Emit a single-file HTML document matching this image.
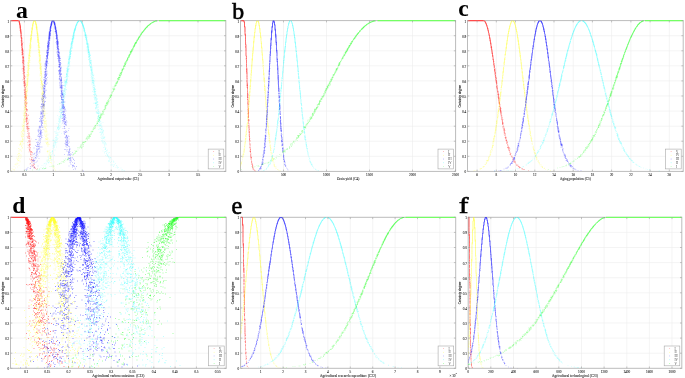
<!DOCTYPE html><html><head><meta charset="utf-8"><style>html,body{margin:0;padding:0;background:#fff;width:685px;height:378px;overflow:hidden}svg{display:block;will-change:transform}text{font-family:"Liberation Serif",serif}</style></head><body><svg width="685" height="378" viewBox="0 0 685 378"><rect width="685" height="378" fill="#fff"/><defs><clipPath id="cpa"><rect x="10.5" y="19.6" width="215.3" height="151.8"/></clipPath><clipPath id="cpb"><rect x="240.5" y="19.6" width="215.1" height="151.8"/></clipPath><clipPath id="cpc"><rect x="467.5" y="19.6" width="215.7" height="151.8"/></clipPath><clipPath id="cpd"><rect x="10.5" y="216.3" width="215.7" height="152.0"/></clipPath><clipPath id="cpe"><rect x="240.6" y="216.3" width="215.1" height="152.0"/></clipPath><clipPath id="cpf"><rect x="468.2" y="216.3" width="213.6" height="152.0"/></clipPath></defs><g><path d="M24.4 20.6V171.4M53.3 20.6V171.4M82.3 20.6V171.4M111.2 20.6V171.4M140.1 20.6V171.4M169.1 20.6V171.4M198.0 20.6V171.4M10.5 156.3H225.8M10.5 141.2H225.8M10.5 126.2H225.8M10.5 111.1H225.8M10.5 96.0H225.8M10.5 80.9H225.8M10.5 65.8H225.8M10.5 50.8H225.8M10.5 35.7H225.8" stroke="#ececec" stroke-width="0.6" fill="none"/><rect x="10.5" y="20.6" width="215.3" height="150.8" fill="none" stroke="#bcbcbc" stroke-width="1.0"/><g clip-path="url(#cpa)"><path d="M10.5 20.6H18.5" stroke="#ff4a4a" stroke-width="1.25"/><g transform="scale(0.5)" stroke="#ff0000" stroke-width="1.4" stroke-linecap="round" fill="none"><path d="M38 45h0m1 4h0m0 1h0m1 7h0m0 1h0m0 2h0m0 1h0m1-10h0m0 13h0m0 3h0m0 5h0m1 9h0m0 3h0m1-14h0m0 1h0m0 9h0m0 3h0m0 1h0m0 2h0m0 1h0m0 1h0m0 2h0m0 4h0m0 1h0m0 5h0m1-17h0m0 9h0m0 8h0m0 1h0m0 3h0m0 2h0m0 2h0m0 1h0m0 29h0m1-51h0m0 1h0m0 1h0m0 13h0m0 1h0m0 3h0m0 1h0m0 2h0m0 4h0m0 2h0m0 1h0m0 5h0m0 1h0m0 2h0m0 1h0m1-40h0m0 14h0m0 5h0m0 7h0m0 9h0m0 2h0m0 1h0m0 3h0m0 2h0m0 1h0m0 4h0m0 4h0m0 1h0m0 3h0m0 2h0m0 4h0m0 12h0m0 1h0m1-48h0m0 4h0m0 3h0m0 4h0m0 2h0m0 2h0m0 4h0m0 1h0m0 2h0m0 1h0m0 1h0m0 6h0m0 1h0m0 1h0m0 1h0m0 2h0m0 1h0m0 4h0m0 3h0m0 8h0m1-42h0m0 2h0m0 3h0m0 8h0m0 1h0m0 1h0m0 1h0m0 6h0m0 7h0m0 1h0m0 3h0m0 5h0m0 4h0m0 2h0m0 2h0m0 4h0m0 1h0m0 8h0m1-47h0m0 1h0m0 6h0m0 1h0m0 3h0m0 1h0m0 6h0m0 1h0m0 1h0m0 1h0m0 6h0m0 1h0m0 3h0m0 5h0m0 3h0m0 1h0m0 1h0m0 1h0m0 5h0m0 5h0m0 3h0m0 1h0m0 3h0m0 2h0m0 7h0m1-40h0m0 3h0m0 3h0m0 2h0m0 11h0m0 5h0m0 3h0m0 1h0m0 6h0m0 3h0m0 4h0m0 2h0m0 3h0m0 3h0m0 5h0m1-61h0m0 13h0m0 2h0m0 2h0m0 5h0m0 3h0m0 3h0m0 1h0m0 1h0m0 1h0m0 2h0m0 1h0m0 1h0m0 1h0m0 2h0m0 2h0m0 1h0m0 1h0m0 7h0m0 1h0m0 1h0m0 5h0m0 1h0m0 1h0m0 2h0m0 4h0m0 7h0m0 6h0m0 7h0m1-65h0m0 10h0m0 4h0m0 2h0m0 5h0m0 1h0m0 1h0m0 1h0m0 1h0m0 8h0m0 2h0m0 1h0m0 2h0m0 2h0m0 3h0m0 3h0m0 4h0m0 3h0m0 1h0m0 1h0m0 4h0m0 6h0m0 4h0m0 1h0m1-59h0m0 11h0m0 1h0m0 10h0m0 1h0m0 3h0m0 8h0m0 1h0m0 1h0m0 1h0m0 7h0m0 1h0m0 2h0m0 4h0m0 3h0m0 1h0m0 1h0m0 1h0m0 1h0m0 1h0m0 2h0m0 3h0m0 1h0m0 4h0m1-46h0m0 16h0m0 6h0m0 4h0m0 1h0m0 2h0m0 1h0m0 8h0m0 3h0m0 2h0m0 2h0m0 1h0m0 1h0m0 1h0m0 3h0m0 15h0m1-37h0m0 1h0m0 11h0m0 5h0m0 2h0m0 1h0m0 3h0m0 4h0m0 4h0m0 8h0m0 10h0m1-42h0m0 9h0m0 1h0m0 3h0m0 1h0m0 6h0m0 9h0m0 2h0m0 3h0m0 13h0m0 5h0m1-65h0m0 1h0m0 14h0m0 11h0m0 1h0m0 1h0m0 8h0m0 3h0m0 3h0m0 9h0m0 2h0m1-43h0m0 13h0m0 7h0m0 5h0m0 2h0m0 1h0m0 3h0m0 2h0m0 2h0m0 1h0m0 1h0m0 8h0m0 5h0m0 1h0m0 1h0m0 6h0m0 6h0m1-47h0m0 11h0m0 4h0m0 1h0m0 4h0m0 1h0m0 12h0m0 3h0m0 1h0m0 2h0m0 5h0m0 17h0m1-44h0m0 7h0m0 1h0m0 1h0m0 1h0m0 2h0m0 3h0m0 9h0m0 30h0m1-38h0m0 5h0m0 1h0m0 8h0m0 3h0m0 2h0m0 4h0m0 7h0m1-42h0m0 25h0m0 2h0m0 4h0m0 25h0m1-31h0m0 1h0m0 14h0m0 1h0m0 1h0m0 4h0m0 6h0m1-24h0m0 4h0m0 8h0m0 2h0m0 12h0m1-27h0m0 10h0m0 7h0m0 9h0m1-11h0m0 9h0m1-10h0m0 8h0m0 4h0m0 1h0m1-10h0m0 1h0m0 6h0m0 5h0m0 1h0m1-6h0m0 4h0m0 2h0m1 0h0m0 2h0m1 0h0m2 2h0m2-2h0" stroke-opacity="0.32"/><path d="M39 43h0m1 4h0m0 9h0m1-3h0m0 12h0m1 3h0m0 2h0m0 3h0m0 2h0m1-9h0m0 2h0m0 17h0m0 6h0m0 1h0m1-16h0m0 1h0m0 2h0m0 2h0m0 8h0m0 1h0m0 3h0m0 2h0m0 1h0m0 1h0m0 1h0m0 4h0m0 3h0m0 5h0m1-16h0m0 2h0m0 4h0m0 8h0m0 2h0m1-8h0m0 1h0m0 4h0m0 8h0m0 2h0m0 1h0m0 3h0m0 3h0m0 3h0m0 4h0m0 5h0m1-19h0m0 3h0m0 1h0m0 5h0m0 7h0m0 4h0m0 1h0m0 18h0m1-27h0m0 3h0m0 6h0m0 7h0m0 1h0m0 2h0m0 9h0m0 7h0m0 2h0m0 2h0m1-22h0m0 10h0m0 1h0m0 10h0m1-13h0m0 8h0m0 3h0m0 3h0m0 3h0m0 6h0m0 2h0m0 2h0m0 1h0m0 12h0m0 12h0m1-31h0m0 3h0m0 13h0m0 2h0m0 5h0m0 1h0m2-1h0m0 4h0m0 11h0m0 4h0m0 10h0m0 9h0m0 1h0m1-32h0m0 14h0m0 1h0m0 18h0m0 4h0m0 15h0m1-17h0m0 7h0m1 0h0m0 1h0m0 10h0m0 3h0m3 21h0m0 7h0m0 10h0m0 3h0m1-14h0m0 2h0m0 10h0m1 2h0m1 2h0m0 6h0m1 5h0m1 9h0" stroke-opacity="0.45"/><path d="M38 44h0m3 8h0m0 2h0m0 7h0m0 1h0m0 1h0m1-4h0m0 2h0m0 8h0m0 2h0m0 5h0m1-4h0m0 2h0m0 1h0m0 2h0m0 1h0m0 1h0m0 2h0m0 8h0m1-7h0m0 2h0m0 2h0m0 1h0m0 4h0m0 8h0m1-7h0m0 5h0m0 1h0m0 3h0m0 3h0m0 1h0m1-4h0m0 5h0m0 3h0m0 5h0m0 2h0m0 3h0m0 6h0m1-11h0m0 8h0m0 6h0m0 11h0m1 0h0m0 10h0m1 9h0m0 5h0m0 2h0m0 6h0m0 13h0m1-14h0m0 16h0m2 5h0m0 2h0m2 38h0m1-11h0" stroke-opacity="0.55"/><path d="M40 52h0m0 2h0m0 1h0m1 0h0m0 1h0m0 1h0m0 2h0m1 3h0m0 1h0m0 1h0m0 1h0m0 1h0m0 1h0m0 5h0m1 4h0m0 6h0m1 6h0m1 11h0m1 9h0m0 5h0m1 2h0m0 26h0m1 11h0" stroke-opacity="0.65"/><path d="M38 42h0m0 1h0m1 1h0m0 1h0m0 1h0m0 1h0m0 1h0m1 0h0m0 1h0m0 1h0m0 1h0m0 2h0m1 5h0m0 2h0" stroke-opacity="0.72"/></g><g transform="scale(0.5)" stroke="#ffff00" stroke-width="1.4" stroke-linecap="round" fill="none"><path d="M23 341h0m1-4h0m2 2h0m2-6h0m0 6h0m0 1h0m1 0h0m1-11h0m1 7h0m1-9h0m0 2h0m0 1h0m2-16h0m0 2h0m0 1h0m0 9h0m1-17h0m0 19h0m0 6h0m1-16h0m0 3h0m0 1h0m0 5h0m1-30h0m0 13h0m0 3h0m0 4h0m0 4h0m1-24h0m0 4h0m0 2h0m0 3h0m0 6h0m0 19h0m1-41h0m0 21h0m0 5h0m1-33h0m0 6h0m0 1h0m0 19h0m0 15h0m1-37h0m0 1h0m0 1h0m0 25h0m0 3h0m1-51h0m0 4h0m0 11h0m0 2h0m0 4h0m0 3h0m0 10h0m0 1h0m0 9h0m0 1h0m1-48h0m0 1h0m0 9h0m0 10h0m0 7h0m0 2h0m0 1h0m0 10h0m0 11h0m1-66h0m0 4h0m0 6h0m0 8h0m0 6h0m0 3h0m0 7h0m0 2h0m0 10h0m0 3h0m1-43h0m0 7h0m0 1h0m0 4h0m0 4h0m0 8h0m0 1h0m0 1h0m0 4h0m0 6h0m0 5h0m0 1h0m1-70h0m0 18h0m0 5h0m0 1h0m0 1h0m0 5h0m0 6h0m0 2h0m0 5h0m0 1h0m0 7h0m0 2h0m0 7h0m0 2h0m1-66h0m0 6h0m0 3h0m0 6h0m0 2h0m0 1h0m0 1h0m0 4h0m0 1h0m0 6h0m0 1h0m0 9h0m0 6h0m0 2h0m0 3h0m1-60h0m0 4h0m0 13h0m0 1h0m0 1h0m0 7h0m0 3h0m0 4h0m0 1h0m0 7h0m0 2h0m0 1h0m0 6h0m0 3h0m0 4h0m0 17h0m1-82h0m0 1h0m0 3h0m0 7h0m0 9h0m0 3h0m0 2h0m0 1h0m0 4h0m0 3h0m0 1h0m0 3h0m0 8h0m0 3h0m0 9h0m1-66h0m0 2h0m0 1h0m0 2h0m0 7h0m0 3h0m0 2h0m0 1h0m0 1h0m0 3h0m0 1h0m0 13h0m0 1h0m0 3h0m0 1h0m0 5h0m0 20h0m1-99h0m0 13h0m0 3h0m0 3h0m0 7h0m0 4h0m0 2h0m0 1h0m0 6h0m0 3h0m0 1h0m0 11h0m0 4h0m0 3h0m0 15h0m0 1h0m1-69h0m0 13h0m0 1h0m0 5h0m0 3h0m0 1h0m0 2h0m0 1h0m0 3h0m0 2h0m0 14h0m0 2h0m0 9h0m0 1h0m1-62h0m0 2h0m0 2h0m0 9h0m0 8h0m0 1h0m0 13h0m0 6h0m1-71h0m0 14h0m0 6h0m0 1h0m0 1h0m0 2h0m0 2h0m0 1h0m0 1h0m0 1h0m0 3h0m0 3h0m0 1h0m0 5h0m0 2h0m0 2h0m0 1h0m0 4h0m0 3h0m0 3h0m0 14h0m1-81h0m0 6h0m0 10h0m0 2h0m0 1h0m0 1h0m0 1h0m0 3h0m0 1h0m0 6h0m0 1h0m0 3h0m0 1h0m0 2h0m0 5h0m0 1h0m0 2h0m0 6h0m0 1h0m0 13h0m0 8h0m0 9h0m1-100h0m0 17h0m0 3h0m0 1h0m0 2h0m0 1h0m0 5h0m0 5h0m0 2h0m0 5h0m0 2h0m0 5h0m0 1h0m0 3h0m0 3h0m0 1h0m0 2h0m0 4h0m0 4h0m1-68h0m0 4h0m0 2h0m0 2h0m0 3h0m0 7h0m0 6h0m0 1h0m0 1h0m0 5h0m0 2h0m0 1h0m0 6h0m0 2h0m0 4h0m0 6h0m1-59h0m0 10h0m0 1h0m0 11h0m0 2h0m0 1h0m0 6h0m0 2h0m0 1h0m0 4h0m0 3h0m0 9h0m0 1h0m1-60h0m0 1h0m0 2h0m0 6h0m0 2h0m0 2h0m0 2h0m0 9h0m0 3h0m0 1h0m0 3h0m0 1h0m0 2h0m1-44h0m0 6h0m0 1h0m0 7h0m0 4h0m0 1h0m0 5h0m0 2h0m0 2h0m0 2h0m0 1h0m0 2h0m0 7h0m0 1h0m0 4h0m1-51h0m0 2h0m0 7h0m0 14h0m0 1h0m0 2h0m0 1h0m0 1h0m0 11h0m1-39h0m0 10h0m0 5h0m0 2h0m0 4h0m0 3h0m0 6h0m1-47h0m0 3h0m0 12h0m0 5h0m0 2h0m1-12h0m1-19h0m1 4h0m0 1h0m3-11h0m2 7h0m1 2h0m1-3h0m0 11h0m0 1h0m1-8h0m0 1h0m0 1h0m0 12h0m0 2h0m0 3h0m0 3h0m1-10h0m0 9h0m0 7h0m0 1h0m0 2h0m0 2h0m1-18h0m0 3h0m0 24h0m0 5h0m1-27h0m0 3h0m0 2h0m0 6h0m0 4h0m0 1h0m0 4h0m0 4h0m0 3h0m0 6h0m0 7h0m0 12h0m1-42h0m0 3h0m0 1h0m0 2h0m0 1h0m0 7h0m0 1h0m0 2h0m0 2h0m0 1h0m0 1h0m0 5h0m0 1h0m0 1h0m0 6h0m0 5h0m0 3h0m1-37h0m0 5h0m0 2h0m0 6h0m0 2h0m0 5h0m0 2h0m0 1h0m0 2h0m0 4h0m0 3h0m0 2h0m0 1h0m0 1h0m0 2h0m0 2h0m1-32h0m0 9h0m0 1h0m0 5h0m0 2h0m0 2h0m0 5h0m0 4h0m0 1h0m0 5h0m0 1h0m0 1h0m0 2h0m0 1h0m0 1h0m0 6h0m0 7h0m0 2h0m0 2h0m1-42h0m0 1h0m0 2h0m0 1h0m0 1h0m0 1h0m0 1h0m0 2h0m0 2h0m0 3h0m0 2h0m0 11h0m0 2h0m0 5h0m0 3h0m0 4h0m0 6h0m0 3h0m0 1h0m0 8h0m1-43h0m0 2h0m0 6h0m0 1h0m0 1h0m0 2h0m0 1h0m0 1h0m0 3h0m0 1h0m0 1h0m0 2h0m0 9h0m0 9h0m0 10h0m1-47h0m0 5h0m0 3h0m0 3h0m0 4h0m0 1h0m0 2h0m0 2h0m0 3h0m0 2h0m0 1h0m0 6h0m0 1h0m0 2h0m0 1h0m0 3h0m0 1h0m0 3h0m0 7h0m0 8h0m0 3h0m0 5h0m1-42h0m0 1h0m0 2h0m0 7h0m0 7h0m0 1h0m0 1h0m0 3h0m0 1h0m0 7h0m0 4h0m0 1h0m0 3h0m0 2h0m0 4h0m0 1h0m0 1h0m0 11h0m1-45h0m0 3h0m0 1h0m0 1h0m0 3h0m0 3h0m0 2h0m0 1h0m0 3h0m0 3h0m0 1h0m0 2h0m0 2h0m0 1h0m0 5h0m0 1h0m0 3h0m0 6h0m0 5h0m0 3h0m0 3h0m0 3h0m0 2h0m1-52h0m0 1h0m0 3h0m0 1h0m0 1h0m0 7h0m0 1h0m0 1h0m0 5h0m0 3h0m0 3h0m0 2h0m0 1h0m0 1h0m0 1h0m0 1h0m0 3h0m0 1h0m0 2h0m0 5h0m0 1h0m0 3h0m0 1h0m0 4h0m0 1h0m0 2h0m0 2h0m0 17h0m1-73h0m0 12h0m0 1h0m0 1h0m0 1h0m0 1h0m0 1h0m0 5h0m0 1h0m0 5h0m0 2h0m0 4h0m0 2h0m0 2h0m0 2h0m0 1h0m0 1h0m0 1h0m0 1h0m0 3h0m0 7h0m0 10h0m0 4h0m0 1h0m0 2h0m1-54h0m0 1h0m0 14h0m0 5h0m0 2h0m0 1h0m0 3h0m0 2h0m0 9h0m0 5h0m0 3h0m0 2h0m0 8h0m0 4h0m0 1h0m0 3h0m0 4h0m0 4h0m0 2h0m1-51h0m0 2h0m0 2h0m0 9h0m0 6h0m0 3h0m0 2h0m0 1h0m0 8h0m0 1h0m0 3h0m0 4h0m0 12h0m0 2h0m0 6h0m1-54h0m0 6h0m0 1h0m0 1h0m0 5h0m0 2h0m0 1h0m0 3h0m0 1h0m0 7h0m0 1h0m0 1h0m0 7h0m0 1h0m0 8h0m0 6h0m0 3h0m0 10h0m0 18h0m1-71h0m0 10h0m0 11h0m0 7h0m0 2h0m0 5h0m0 1h0m0 2h0m0 7h0m0 1h0m0 4h0m0 1h0m1-31h0m0 5h0m0 6h0m0 12h0m0 3h0m0 3h0m0 3h0m0 5h0m0 1h0m1-44h0m0 5h0m0 3h0m0 3h0m0 5h0m0 2h0m0 2h0m0 2h0m0 3h0m0 3h0m0 7h0m0 2h0m0 1h0m0 8h0m0 1h0m1-61h0m0 25h0m0 10h0m0 9h0m0 3h0m0 4h0m0 9h0m0 1h0m0 15h0m1-35h0m0 11h0m0 3h0m0 4h0m0 3h0m0 12h0m0 3h0m0 10h0m0 8h0m1-52h0m0 6h0m0 1h0m0 7h0m0 19h0m0 3h0m0 13h0m1-33h0m0 2h0m0 1h0m0 3h0m0 10h0m0 20h0m1-54h0m0 11h0m0 3h0m0 27h0m0 2h0m1-22h0m0 13h0m0 4h0m0 3h0m0 8h0m0 4h0m1-21h0m0 5h0m0 2h0m0 4h0m0 2h0m0 1h0m0 2h0m0 1h0m1-9h0m0 4h0m0 2h0m0 2h0m0 5h0m0 4h0m1-12h0m0 1h0m0 3h0m0 2h0m0 6h0m2-4h0m0 7h0m1 3h0m1 4h0m0 1h0m2-3h0m0 2h0m1-11h0m0 13h0m1 2h0m1 2h0m9-1h0m4 3h0" stroke-opacity="0.22"/><path d="M35 319h0m2-12h0m0 7h0m1 6h0m1-13h0m1-8h0m0 23h0m1-36h0m1-2h0m1-14h0m1 3h0m1-20h0m0 14h0m0 9h0m0 6h0m0 1h0m1-23h0m0 13h0m1-22h0m0 5h0m0 2h0m0 1h0m0 2h0m0 19h0m1-54h0m0 17h0m0 8h0m1-32h0m0 7h0m0 1h0m0 7h0m0 9h0m0 2h0m1-51h0m0 29h0m0 7h0m1-31h0m0 2h0m0 12h0m0 2h0m0 3h0m0 4h0m0 1h0m0 11h0m1-53h0m0 6h0m0 1h0m0 4h0m0 16h0m0 7h0m1-42h0m0 1h0m0 9h0m0 7h0m0 7h0m0 7h0m1-52h0m0 1h0m0 8h0m0 5h0m0 7h0m0 2h0m0 8h0m1-29h0m0 4h0m0 12h0m0 11h0m0 3h0m1-57h0m0 3h0m0 4h0m0 1h0m0 4h0m0 2h0m0 4h0m0 1h0m0 4h0m0 2h0m0 10h0m1-29h0m0 2h0m0 3h0m0 3h0m0 2h0m0 2h0m0 4h0m0 2h0m1-39h0m0 2h0m0 3h0m0 5h0m0 3h0m0 1h0m0 3h0m0 2h0m0 3h0m1-38h0m0 4h0m0 2h0m0 10h0m0 4h0m0 21h0m1-49h0m0 3h0m0 1h0m0 1h0m0 4h0m0 4h0m0 1h0m0 3h0m0 2h0m0 5h0m1-40h0m0 6h0m0 2h0m0 13h0m0 2h0m0 1h0m1-27h0m0 6h0m0 6h0m0 13h0m1-20h0m0 2h0m1-10h0m0 5h0m1-22h0m0 10h0m0 1h0m1-15h0m6 0h0m0 8h0m0 2h0m3 5h0m0 3h0m0 15h0m0 1h0m1-11h0m0 1h0m0 12h0m0 2h0m0 1h0m0 7h0m1-13h0m0 1h0m0 1h0m0 1h0m0 1h0m0 9h0m0 2h0m0 2h0m0 5h0m0 4h0m1-17h0m0 3h0m0 1h0m0 1h0m0 1h0m0 2h0m1 0h0m0 23h0m0 2h0m1-4h0m0 1h0m0 3h0m0 6h0m0 1h0m0 9h0m0 1h0m0 1h0m1-18h0m0 8h0m0 1h0m0 1h0m0 1h0m0 4h0m0 3h0m0 2h0m0 3h0m0 3h0m1-14h0m0 5h0m0 4h0m0 8h0m0 2h0m0 7h0m1-16h0m0 7h0m0 13h0m0 3h0m0 1h0m0 11h0m1-20h0m0 7h0m0 3h0m0 12h0m0 9h0m0 13h0m0 2h0m1-32h0m0 22h0m1-8h0m0 9h0m0 20h0m0 9h0m1-28h0m0 4h0m0 3h0m0 1h0m1 15h0m0 1h0m0 2h0m0 7h0m0 11h0m2-2h0m0 10h0m0 7h0m0 1h0m1-13h0m1 1h0m1 29h0m1-8h0m0 15h0m0 6h0m1-9h0m0 9h0m0 7h0m0 11h0m6 14h0m2 9h0" stroke-opacity="0.32"/><path d="M49 221h0m1-12h0m0 25h0m2-33h0m0 8h0m1-33h0m0 8h0m0 7h0m0 2h0m1-44h0m0 20h0m0 1h0m0 10h0m1-28h0m0 7h0m0 8h0m2-46h0m0 1h0m0 4h0m0 1h0m0 20h0m0 7h0m1-43h0m0 4h0m0 1h0m0 2h0m0 1h0m1-13h0m0 3h0m0 1h0m0 1h0m1-21h0m0 5h0m0 1h0m1-19h0m0 2h0m0 6h0m0 1h0m0 1h0m0 1h0m0 1h0m0 1h0m0 2h0m1-21h0m0 2h0m0 6h0m0 1h0m0 2h0m0 1h0m0 9h0m1-27h0m0 2h0m0 1h0m0 1h0m0 1h0m0 1h0m0 4h0m0 3h0m1-23h0m0 5h0m0 5h0m0 3h0m1-18h0m0 8h0m1-12h0m1 0h0m0 1h0m4 0h0m2 2h0m0 8h0m0 1h0m1-1h0m0 7h0m0 1h0m0 2h0m1 5h0m0 3h0m0 1h0m1-5h0m0 6h0m0 1h0m0 2h0m0 5h0m1 0h0m0 5h0m1 4h0m0 4h0m0 7h0m0 1h0m1-5h0m0 2h0m0 1h0m0 1h0m0 1h0m0 2h0m0 3h0m0 2h0m0 1h0m1-3h0m0 10h0m0 1h0m0 6h0m1 6h0m1-1h0m0 13h0m0 14h0m0 14h0m1-27h0m0 8h0m1 8h0m1 25h0m2 21h0m1 18h0" stroke-opacity="0.39"/><path d="M55 165h0m1-27h0m3-34h0m0 3h0m2-26h0m0 1h0m0 2h0m1-14h0m0 2h0m0 4h0m0 1h0m0 1h0m1-16h0m0 1h0m0 1h0m1-8h0m0 1h0m0 2h0m0 2h0m0 1h0m0 1h0m0 1h0m1-12h0m0 1h0m0 2h0m0 1h0m1-5h0m7 0h0m0 4h0m1 1h0m0 2h0m0 1h0m0 1h0m0 1h0m0 1h0m0 1h0m1 2h0m0 1h0m0 1h0m0 1h0m0 2h0m0 1h0m1 2h0m0 1h0m0 1h0m0 1h0m0 3h0m0 3h0m1 2h0m0 2h0m0 3h0m1 11h0m6 68h0" stroke-opacity="0.45"/><path d="M63 66h0m1-8h0m1-7h0m0 3h0m0 3h0m1-10h0m0 1h0m0 1h0m0 1h0m1-7h0m0 1h0m0 1h0m1-3h0m0 1h0m2-1h0m0 1h0m1 0h0m0 1h0m0 1h0m0 1h0m1 0h0m0 1h0m0 1h0m0 1h0m0 1h0m1 0h0m0 2h0m0 1h0m0 1h0m0 2h0m1-1h0m1 14h0" stroke-opacity="0.50"/></g><g transform="scale(0.5)" stroke="#0000ff" stroke-width="1.4" stroke-linecap="round" fill="none"><path d="M52 339h0m1 2h0m1-4h0m0 2h0m2-4h0m4 2h0m1-10h0m0 6h0m0 4h0m3-17h0m1 1h0m0 12h0m1-25h0m0 13h0m0 5h0m0 5h0m1-11h0m0 2h0m1-26h0m0 13h0m0 5h0m0 3h0m0 4h0m0 1h0m0 14h0m1-29h0m0 14h0m0 6h0m0 8h0m1-29h0m0 14h0m0 5h0m1-46h0m0 12h0m1 20h0m0 5h0m0 1h0m1-38h0m0 6h0m0 8h0m0 5h0m0 4h0m0 1h0m0 5h0m0 2h0m0 2h0m0 12h0m1-32h0m0 1h0m0 5h0m0 2h0m0 7h0m0 7h0m1-42h0m0 12h0m0 2h0m0 14h0m0 2h0m0 7h0m0 13h0m1-62h0m0 2h0m0 26h0m0 1h0m0 2h0m0 5h0m0 3h0m0 13h0m0 20h0m1-72h0m0 2h0m0 2h0m0 5h0m0 3h0m0 1h0m0 12h0m0 8h0m0 5h0m1-44h0m0 4h0m0 6h0m0 4h0m0 10h0m0 3h0m0 3h0m0 5h0m0 4h0m0 4h0m0 1h0m0 8h0m0 11h0m1-80h0m0 6h0m0 10h0m0 2h0m0 6h0m0 6h0m0 6h0m0 2h0m0 12h0m0 5h0m0 4h0m0 7h0m1-49h0m0 2h0m0 2h0m0 8h0m0 4h0m0 2h0m0 6h0m0 2h0m0 8h0m0 6h0m0 6h0m0 4h0m1-80h0m0 9h0m0 2h0m0 3h0m0 2h0m0 14h0m0 6h0m0 2h0m0 1h0m0 1h0m0 3h0m0 1h0m0 2h0m0 7h0m0 5h0m0 3h0m1-72h0m0 1h0m0 9h0m0 3h0m0 1h0m0 2h0m0 3h0m0 10h0m0 1h0m0 3h0m0 7h0m0 2h0m0 5h0m0 2h0m0 2h0m0 2h0m0 1h0m0 2h0m0 4h0m0 5h0m0 16h0m1-96h0m0 10h0m0 1h0m0 8h0m0 8h0m0 2h0m0 9h0m0 1h0m0 1h0m0 3h0m0 2h0m0 1h0m0 1h0m0 3h0m0 3h0m0 10h0m0 3h0m0 8h0m0 3h0m1-79h0m0 2h0m0 10h0m0 1h0m0 1h0m0 3h0m0 2h0m0 3h0m0 3h0m0 2h0m0 4h0m0 6h0m0 1h0m0 5h0m0 2h0m0 10h0m0 1h0m0 13h0m0 6h0m0 4h0m0 19h0m1-121h0m0 30h0m0 1h0m0 9h0m0 5h0m0 10h0m0 5h0m0 3h0m0 1h0m0 7h0m0 1h0m0 2h0m0 8h0m1-85h0m0 6h0m0 2h0m0 9h0m0 3h0m0 2h0m0 2h0m0 2h0m0 5h0m0 1h0m0 1h0m0 4h0m0 7h0m0 7h0m0 1h0m0 1h0m0 1h0m0 1h0m0 7h0m0 2h0m0 20h0m0 5h0m1-99h0m0 11h0m0 4h0m0 3h0m0 5h0m0 5h0m0 1h0m0 1h0m0 3h0m0 7h0m0 11h0m0 1h0m0 3h0m0 12h0m0 7h0m1-79h0m0 4h0m0 6h0m0 7h0m0 8h0m0 1h0m0 4h0m0 8h0m0 1h0m0 14h0m0 1h0m0 2h0m0 2h0m0 4h0m0 1h0m0 5h0m1-91h0m0 11h0m0 2h0m0 3h0m0 2h0m0 5h0m0 3h0m0 2h0m0 2h0m0 1h0m0 1h0m0 1h0m0 3h0m0 9h0m0 5h0m0 1h0m0 2h0m0 5h0m0 1h0m0 2h0m0 2h0m0 5h0m0 3h0m0 2h0m0 1h0m0 3h0m0 2h0m0 3h0m0 17h0m1-104h0m0 2h0m0 8h0m0 1h0m0 11h0m0 5h0m0 1h0m0 6h0m0 2h0m0 2h0m0 2h0m0 2h0m0 4h0m0 7h0m0 5h0m0 4h0m0 4h0m0 10h0m1-81h0m0 4h0m0 6h0m0 1h0m0 5h0m0 1h0m0 3h0m0 1h0m0 2h0m0 3h0m0 1h0m0 1h0m0 3h0m0 1h0m0 2h0m0 1h0m0 4h0m0 1h0m0 1h0m0 3h0m0 3h0m0 3h0m0 4h0m0 18h0m0 3h0m0 6h0m1-86h0m0 7h0m0 1h0m0 4h0m0 1h0m0 9h0m0 1h0m0 5h0m0 3h0m0 2h0m0 1h0m0 1h0m0 1h0m0 5h0m0 3h0m0 3h0m0 3h0m0 13h0m0 1h0m0 14h0m1-91h0m0 7h0m0 7h0m0 1h0m0 2h0m0 1h0m0 1h0m0 5h0m0 4h0m0 3h0m0 1h0m0 1h0m0 13h0m0 7h0m0 1h0m0 11h0m1-69h0m0 1h0m0 3h0m0 2h0m0 4h0m0 2h0m0 1h0m0 6h0m0 1h0m0 3h0m0 1h0m0 2h0m0 3h0m0 4h0m0 9h0m0 2h0m0 3h0m0 2h0m0 11h0m1-76h0m0 3h0m0 5h0m0 2h0m0 1h0m0 1h0m0 1h0m0 3h0m0 3h0m0 4h0m0 1h0m0 3h0m0 12h0m0 3h0m0 29h0m0 11h0m1-84h0m0 5h0m0 3h0m0 5h0m0 6h0m0 5h0m0 3h0m0 1h0m0 1h0m0 7h0m0 9h0m1-54h0m0 3h0m0 2h0m0 1h0m0 3h0m0 2h0m0 3h0m0 5h0m0 2h0m0 1h0m0 1h0m0 3h0m0 1h0m0 2h0m0 2h0m1-40h0m0 2h0m0 1h0m0 4h0m0 14h0m0 4h0m0 2h0m0 6h0m0 1h0m1-35h0m0 7h0m0 6h0m0 3h0m0 2h0m0 3h0m0 2h0m0 1h0m1-21h0m0 7h0m0 2h0m0 1h0m0 1h0m0 3h0m1-17h0m0 1h0m0 2h0m0 1h0m0 1h0m0 2h0m0 1h0m3-22h0m3-5h0m1 3h0m1-3h0m1 13h0m0 6h0m1 1h0m1-6h0m0 8h0m0 2h0m0 3h0m0 1h0m0 5h0m0 8h0m1-9h0m0 2h0m0 10h0m0 4h0m1-26h0m0 2h0m0 5h0m0 2h0m0 7h0m0 2h0m0 5h0m0 10h0m0 7h0m1-35h0m0 1h0m0 2h0m0 1h0m0 2h0m0 1h0m0 14h0m0 2h0m0 1h0m0 1h0m0 2h0m0 10h0m0 1h0m0 2h0m0 2h0m0 4h0m1-38h0m0 3h0m0 1h0m0 2h0m0 1h0m0 6h0m0 4h0m0 9h0m0 3h0m0 1h0m0 3h0m1-28h0m0 2h0m0 1h0m0 5h0m0 1h0m0 3h0m0 1h0m0 3h0m0 3h0m0 3h0m0 3h0m0 1h0m0 5h0m0 3h0m0 5h0m0 2h0m0 8h0m0 8h0m1-42h0m0 4h0m0 4h0m0 3h0m0 1h0m0 7h0m0 3h0m0 1h0m0 1h0m0 5h0m0 4h0m0 1h0m0 2h0m0 6h0m0 1h0m0 4h0m0 3h0m0 9h0m1-53h0m0 2h0m0 5h0m0 2h0m0 1h0m0 1h0m0 1h0m0 1h0m0 8h0m0 6h0m0 9h0m0 3h0m0 4h0m0 4h0m0 1h0m0 3h0m0 1h0m0 1h0m0 8h0m1-52h0m0 3h0m0 1h0m0 3h0m0 4h0m0 3h0m0 4h0m0 2h0m0 1h0m0 3h0m0 2h0m0 1h0m0 1h0m0 1h0m0 2h0m0 1h0m0 3h0m0 1h0m0 2h0m0 6h0m0 1h0m0 1h0m0 2h0m0 3h0m0 3h0m0 2h0m0 1h0m0 5h0m0 30h0m1-89h0m0 4h0m0 8h0m0 1h0m0 6h0m0 6h0m0 1h0m0 3h0m0 1h0m0 2h0m0 1h0m0 1h0m0 2h0m0 6h0m0 2h0m0 1h0m0 12h0m0 1h0m0 16h0m0 2h0m1-66h0m0 9h0m0 6h0m0 6h0m0 1h0m0 5h0m0 3h0m0 5h0m0 5h0m0 5h0m0 1h0m0 1h0m0 1h0m0 2h0m0 3h0m0 2h0m0 5h0m0 4h0m0 29h0m1-84h0m0 11h0m0 2h0m0 5h0m0 1h0m0 2h0m0 5h0m0 2h0m0 2h0m0 6h0m0 1h0m0 3h0m0 2h0m0 2h0m0 1h0m0 4h0m0 1h0m0 1h0m0 1h0m0 1h0m0 6h0m0 4h0m0 5h0m0 1h0m0 12h0m0 9h0m1-53h0m0 2h0m0 17h0m0 3h0m0 7h0m0 4h0m0 3h0m0 3h0m0 2h0m0 10h0m0 13h0m1-66h0m0 3h0m0 6h0m0 2h0m0 3h0m0 1h0m0 1h0m0 1h0m0 2h0m0 4h0m0 5h0m0 1h0m0 2h0m0 2h0m0 2h0m0 9h0m0 2h0m0 7h0m0 5h0m0 1h0m0 7h0m0 4h0m0 1h0m0 4h0m1-58h0m0 1h0m0 1h0m0 2h0m0 7h0m0 1h0m0 2h0m0 3h0m0 3h0m0 2h0m0 1h0m0 2h0m0 2h0m0 1h0m0 1h0m0 2h0m0 4h0m0 6h0m0 1h0m0 5h0m0 22h0m1-86h0m0 21h0m0 7h0m0 2h0m0 2h0m0 1h0m0 1h0m0 6h0m0 2h0m0 1h0m0 3h0m0 6h0m0 2h0m0 2h0m0 1h0m0 1h0m0 7h0m0 8h0m1-62h0m0 12h0m0 16h0m0 3h0m0 1h0m0 2h0m0 1h0m0 3h0m0 3h0m0 2h0m0 4h0m0 1h0m0 2h0m0 2h0m0 1h0m0 2h0m0 1h0m0 1h0m0 1h0m0 3h0m0 5h0m0 5h0m0 10h0m0 3h0m1-62h0m0 10h0m0 2h0m0 3h0m0 5h0m0 5h0m0 1h0m0 3h0m0 1h0m0 3h0m0 1h0m0 1h0m0 7h0m0 1h0m0 6h0m0 1h0m0 3h0m0 10h0m0 2h0m0 30h0m0 10h0m1-105h0m0 13h0m0 5h0m0 10h0m0 1h0m0 3h0m0 3h0m0 1h0m0 3h0m0 1h0m0 1h0m0 2h0m0 2h0m0 8h0m0 18h0m0 12h0m1-68h0m0 9h0m0 7h0m0 9h0m0 1h0m0 4h0m0 13h0m0 14h0m0 5h0m0 2h0m0 5h0m0 11h0m1-77h0m0 14h0m0 7h0m0 2h0m0 2h0m0 2h0m0 2h0m0 11h0m0 3h0m0 5h0m0 3h0m0 1h0m0 1h0m0 14h0m0 4h0m1-52h0m0 9h0m0 13h0m0 15h0m0 5h0m0 2h0m0 5h0m0 12h0m1-58h0m0 20h0m0 8h0m0 1h0m0 2h0m0 5h0m0 1h0m0 4h0m0 5h0m0 5h0m0 4h0m1-23h0m0 2h0m0 4h0m0 1h0m0 2h0m0 3h0m0 1h0m0 1h0m0 1h0m0 19h0m1-29h0m0 2h0m0 3h0m0 1h0m0 4h0m0 9h0m0 3h0m0 16h0m1-58h0m0 11h0m0 21h0m0 11h0m0 1h0m0 2h0m0 3h0m0 7h0m1-60h0m0 16h0m0 5h0m0 26h0m0 5h0m0 1h0m0 6h0m0 16h0m1-48h0m0 9h0m0 3h0m0 2h0m0 1h0m0 1h0m0 1h0m0 3h0m0 1h0m0 5h0m0 7h0m1-14h0m0 4h0m0 2h0m0 1h0m0 6h0m0 1h0m0 1h0m0 3h0m0 1h0m0 3h0m1-27h0m0 13h0m0 4h0m0 3h0m0 2h0m0 6h0m1-18h0m0 10h0m0 4h0m0 7h0m1-7h0m1-13h0m0 6h0m1-10h0m0 11h0m0 9h0m0 6h0m1-1h0m0 1h0m0 1h0m1-14h0m0 1h0m0 13h0m0 7h0m1-7h0m1-11h0m0 5h0m0 1h0m0 6h0m1 3h0m16 7h0m1-1h0" stroke-opacity="0.32"/><path d="M73 305h0m2-16h0m0 15h0m1-11h0m4-51h0m0 10h0m0 21h0m1-8h0m1-37h0m1 21h0m1-49h0m0 14h0m0 11h0m0 22h0m1-56h0m0 8h0m1-6h0m0 15h0m0 2h0m0 20h0m0 1h0m0 10h0m1-59h0m0 14h0m0 13h0m0 13h0m1-48h0m0 3h0m0 11h0m1-36h0m0 14h0m0 1h0m0 6h0m0 3h0m0 2h0m0 6h0m0 2h0m0 1h0m1-15h0m0 11h0m0 8h0m1-61h0m0 14h0m0 8h0m0 8h0m1-37h0m0 3h0m0 1h0m0 1h0m0 4h0m0 3h0m0 3h0m1-26h0m0 1h0m0 3h0m0 10h0m0 3h0m0 1h0m0 4h0m0 14h0m0 3h0m1-49h0m0 5h0m0 7h0m0 2h0m0 5h0m0 1h0m1-36h0m0 5h0m0 2h0m0 13h0m0 3h0m0 4h0m0 2h0m0 1h0m0 8h0m1-32h0m0 1h0m0 1h0m0 2h0m0 3h0m0 1h0m0 7h0m0 1h0m1-22h0m0 2h0m0 3h0m0 2h0m0 4h0m1-28h0m0 1h0m0 4h0m0 10h0m0 6h0m0 3h0m0 1h0m1-20h0m0 6h0m1-25h0m0 2h0m0 3h0m0 4h0m0 1h0m0 6h0m0 1h0m1-20h0m0 7h0m1-12h0m0 1h0m0 7h0m0 2h0m0 4h0m1-10h0m1-5h0m0 1h0m1-4h0m3-1h0m2 4h0m0 1h0m0 11h0m1-5h0m0 10h0m1-8h0m0 7h0m1 0h0m0 1h0m0 5h0m0 3h0m0 1h0m0 1h0m0 10h0m1-11h0m0 2h0m0 2h0m0 1h0m0 1h0m0 3h0m0 6h0m0 1h0m0 7h0m0 9h0m1-23h0m0 3h0m0 1h0m0 3h0m0 1h0m0 8h0m0 6h0m1-19h0m0 4h0m0 5h0m0 7h0m0 1h0m1 1h0m0 2h0m0 1h0m0 8h0m0 3h0m0 5h0m1-16h0m0 1h0m0 3h0m0 3h0m0 2h0m0 1h0m0 4h0m0 1h0m0 9h0m0 14h0m1-22h0m0 2h0m0 7h0m0 10h0m0 6h0m0 1h0m1-21h0m0 1h0m0 2h0m0 10h0m0 5h0m0 30h0m1-49h0m0 13h0m0 3h0m1-7h0m0 6h0m0 21h0m0 3h0m1-6h0m0 1h0m0 1h0m0 1h0m0 7h0m0 7h0m0 17h0m0 2h0m0 2h0m0 2h0m1-33h0m0 5h0m0 7h0m0 5h0m0 6h0m0 2h0m0 6h0m1 14h0m0 4h0m1-2h0m1-18h0m0 15h0m0 7h0m0 16h0m0 8h0m1 2h0m1-27h0m0 49h0m2-33h0m0 34h0m1 20h0m0 5h0m1-19h0m0 1h0m0 16h0m1-10h0m1-3h0m10 59h0m6 4h0m2-5h0" stroke-opacity="0.45"/><path d="M71 315h0m11-47h0m2-40h0m2-22h0m0 5h0m1-14h0m1-19h0m1-7h0m2-24h0m1-5h0m0 1h0m0 19h0m1-31h0m1-26h0m0 6h0m0 20h0m1-30h0m0 4h0m0 5h0m0 2h0m0 2h0m0 3h0m1-28h0m0 2h0m0 7h0m0 7h0m1-22h0m0 2h0m0 4h0m0 1h0m0 15h0m1-29h0m0 2h0m0 2h0m0 2h0m0 4h0m0 2h0m1-24h0m0 3h0m0 2h0m0 2h0m0 2h0m0 4h0m0 1h0m1-20h0m0 3h0m0 2h0m0 4h0m0 1h0m0 2h0m1-13h0m0 1h0m0 2h0m2-16h0m1-2h0m4 4h0m1 4h0m1-2h0m0 7h0m0 1h0m1-2h0m0 4h0m0 1h0m0 1h0m0 2h0m1-5h0m0 2h0m0 2h0m0 2h0m0 2h0m0 2h0m1-6h0m0 3h0m0 1h0m0 2h0m0 2h0m0 5h0m0 1h0m0 2h0m1-8h0m0 2h0m0 12h0m0 2h0m0 1h0m1-6h0m0 2h0m0 1h0m0 3h0m0 1h0m0 3h0m0 1h0m0 2h0m1-4h0m0 1h0m0 5h0m0 3h0m0 6h0m1-5h0m0 12h0m0 1h0m1 1h0m0 4h0m1 8h0m0 4h0m0 4h0m0 1h0m1-3h0m0 23h0m1-17h0m1 33h0m1 1h0m0 12h0m0 1h0m1-8h0m0 23h0m1-10h0m3 33h0" stroke-opacity="0.55"/><path d="M93 124h0m3-22h0m2-30h0m0 3h0m0 2h0m0 4h0m1-16h0m0 1h0m0 6h0m0 3h0m1-16h0m0 10h0m1-16h0m0 1h0m0 2h0m0 5h0m0 1h0m1-9h0m1-8h0m0 4h0m0 1h0m1-5h0m3-2h0m2 2h0m1 6h0m0 2h0m0 1h0m1-2h0m0 3h0m0 1h0m0 1h0m1 3h0m0 4h0m1 2h0m1 13h0m2 18h0" stroke-opacity="0.65"/><path d="M99 68h0m1-6h0m1-7h0m1-6h0m0 1h0m0 1h0m0 1h0m0 2h0m1-8h0m0 1h0m0 1h0m1-5h0m0 1h0m1-2h0m2 0h0m1 1h0m0 1h0m0 1h0m1 1h0m0 1h0m0 1h0m0 1h0m1 0h0m0 1h0m0 2h0m3 18h0" stroke-opacity="0.72"/></g><g transform="scale(0.5)" stroke="#00ffff" stroke-width="1.4" stroke-linecap="round" fill="none"><path d="M74 340h0m3 0h0m2 0h0m3-5h0m0 3h0m2-7h0m2 5h0m0 3h0m2-11h0m0 4h0m1-5h0m0 11h0m2-6h0m0 4h0m1-10h0m0 2h0m1-6h0m0 6h0m1-8h0m1 2h0m0 2h0m2-11h0m0 2h0m0 2h0m0 2h0m0 2h0m0 4h0m0 1h0m1-24h0m0 23h0m1-2h0m1-12h0m1-6h0m0 7h0m0 2h0m1-4h0m0 4h0m0 2h0m0 3h0m1 3h0m1-13h0m0 3h0m0 7h0m1-18h0m0 1h0m0 1h0m0 1h0m0 3h0m1-27h0m0 1h0m0 11h0m0 5h0m1-7h0m0 2h0m1-12h0m0 1h0m0 10h0m0 3h0m0 1h0m1-13h0m0 2h0m0 8h0m0 2h0m0 16h0m0 1h0m1-48h0m0 1h0m0 13h0m0 8h0m0 5h0m1-15h0m0 4h0m0 2h0m0 2h0m0 2h0m0 1h0m0 2h0m1-22h0m0 1h0m0 4h0m0 3h0m0 1h0m0 11h0m0 4h0m1-30h0m0 4h0m0 8h0m0 3h0m0 2h0m0 2h0m0 2h0m0 4h0m0 9h0m1-47h0m0 20h0m0 3h0m0 10h0m1-49h0m0 24h0m0 1h0m0 1h0m0 1h0m0 12h0m0 6h0m0 3h0m0 5h0m1-30h0m0 11h0m0 1h0m0 3h0m0 2h0m0 6h0m1-34h0m0 4h0m0 2h0m0 1h0m0 7h0m0 2h0m0 1h0m1-23h0m0 1h0m0 2h0m0 2h0m0 12h0m0 1h0m0 3h0m0 1h0m1-45h0m0 4h0m0 5h0m0 16h0m0 7h0m0 5h0m0 5h0m0 1h0m0 7h0m1-45h0m0 4h0m0 2h0m0 11h0m0 1h0m0 2h0m0 1h0m0 3h0m0 1h0m0 4h0m0 26h0m1-57h0m0 2h0m0 2h0m0 5h0m0 3h0m0 6h0m0 1h0m0 8h0m0 8h0m0 3h0m1-48h0m0 4h0m0 7h0m0 7h0m0 3h0m0 3h0m0 2h0m0 9h0m1-39h0m0 3h0m0 9h0m0 3h0m0 2h0m0 5h0m0 3h0m0 20h0m0 19h0m1-68h0m0 1h0m0 2h0m0 3h0m0 5h0m0 2h0m0 9h0m0 3h0m0 8h0m0 1h0m1-47h0m0 5h0m0 5h0m0 3h0m0 5h0m0 2h0m0 7h0m0 1h0m0 3h0m0 3h0m0 1h0m0 3h0m0 4h0m1-43h0m0 2h0m0 17h0m0 2h0m0 26h0m1-48h0m0 2h0m0 7h0m0 2h0m0 1h0m0 7h0m0 4h0m0 1h0m0 7h0m1-49h0m0 10h0m0 2h0m0 8h0m0 1h0m0 1h0m0 1h0m0 7h0m0 2h0m0 2h0m0 5h0m0 1h0m1-44h0m0 3h0m0 5h0m0 1h0m0 1h0m0 11h0m0 4h0m0 1h0m0 3h0m0 6h0m1-37h0m0 1h0m0 2h0m0 1h0m0 2h0m0 1h0m0 2h0m0 3h0m0 1h0m0 9h0m0 3h0m0 9h0m0 19h0m1-49h0m0 1h0m0 1h0m0 2h0m0 1h0m0 2h0m0 2h0m0 3h0m0 2h0m0 4h0m0 3h0m0 4h0m1-36h0m0 2h0m0 11h0m0 1h0m0 8h0m0 4h0m0 1h0m1-43h0m0 21h0m0 1h0m0 2h0m0 1h0m0 2h0m0 1h0m0 2h0m0 2h0m0 10h0m1-43h0m0 5h0m0 1h0m0 1h0m0 5h0m0 5h0m0 1h0m0 5h0m0 2h0m0 3h0m0 6h0m1-42h0m0 4h0m0 8h0m0 1h0m0 2h0m0 4h0m0 2h0m0 1h0m0 1h0m0 2h0m0 1h0m0 2h0m0 1h0m0 2h0m0 7h0m1-52h0m0 10h0m0 4h0m0 5h0m0 2h0m0 6h0m0 2h0m0 7h0m1-32h0m0 5h0m0 1h0m0 1h0m0 2h0m0 3h0m0 2h0m0 1h0m0 4h0m0 1h0m0 1h0m0 4h0m0 3h0m0 7h0m1-41h0m0 1h0m0 2h0m0 1h0m0 5h0m0 2h0m0 1h0m0 4h0m0 5h0m0 4h0m1-31h0m0 3h0m0 5h0m0 6h0m0 1h0m0 2h0m0 2h0m0 1h0m0 2h0m0 1h0m0 9h0m1-39h0m0 3h0m0 2h0m0 2h0m0 1h0m0 5h0m0 4h0m0 2h0m0 5h0m0 9h0m1-37h0m0 2h0m0 3h0m0 2h0m0 6h0m0 6h0m0 2h0m1-29h0m0 2h0m0 1h0m0 1h0m0 4h0m0 1h0m0 4h0m0 1h0m0 7h0m1-25h0m0 1h0m0 7h0m0 2h0m0 2h0m0 1h0m0 7h0m1-26h0m0 2h0m0 1h0m0 2h0m0 2h0m0 9h0m0 2h0m1-13h0m0 5h0m0 8h0m1-26h0m0 4h0m0 4h0m0 3h0m0 1h0m0 1h0m0 3h0m1-20h0m0 4h0m0 5h0m0 5h0m1-18h0m0 10h0m0 2h0m0 1h0m1-8h0m0 5h0m1-9h0m1-10h0m0 7h0m1-5h0m2-9h0m0 4h0m0 1h0m2-5h0m8 3h0m1-2h0m2 11h0m0 1h0m0 2h0m1-6h0m0 7h0m0 1h0m0 1h0m1-6h0m0 3h0m0 4h0m1-1h0m1 6h0m0 5h0m1-2h0m0 5h0m1-3h0m0 7h0m0 3h0m0 2h0m1-14h0m0 3h0m0 1h0m0 3h0m0 6h0m0 8h0m0 2h0m0 1h0m0 3h0m0 3h0m1-13h0m0 3h0m1-3h0m0 7h0m0 1h0m0 6h0m0 2h0m0 2h0m1-20h0m0 3h0m0 1h0m0 2h0m0 2h0m0 2h0m0 6h0m0 10h0m0 2h0m0 4h0m1-29h0m0 4h0m0 10h0m0 3h0m0 4h0m0 2h0m0 3h0m0 4h0m0 11h0m1-28h0m0 9h0m0 7h0m0 4h0m0 1h0m0 5h0m0 3h0m1-24h0m0 1h0m0 1h0m0 6h0m0 7h0m0 1h0m0 3h0m0 1h0m0 2h0m1-10h0m0 1h0m0 11h0m0 1h0m0 2h0m0 1h0m0 4h0m1-20h0m0 1h0m0 5h0m0 1h0m0 1h0m0 7h0m0 3h0m0 1h0m0 2h0m0 5h0m0 5h0m0 4h0m0 5h0m1-39h0m0 5h0m0 4h0m0 1h0m0 2h0m0 2h0m0 1h0m0 3h0m0 2h0m0 2h0m0 2h0m0 1h0m0 4h0m0 7h0m0 9h0m1-29h0m0 2h0m0 2h0m0 2h0m0 1h0m0 2h0m0 1h0m0 2h0m0 5h0m0 1h0m0 3h0m0 2h0m0 9h0m1-33h0m0 4h0m0 12h0m0 5h0m0 8h0m0 7h0m0 11h0m1-32h0m0 1h0m0 4h0m0 2h0m0 2h0m0 2h0m0 1h0m0 2h0m0 1h0m0 2h0m0 6h0m0 2h0m0 6h0m1-34h0m0 6h0m0 2h0m0 4h0m0 1h0m0 3h0m0 1h0m0 1h0m0 1h0m0 3h0m0 1h0m0 3h0m0 1h0m0 4h0m0 3h0m0 7h0m1-39h0m0 17h0m0 1h0m0 2h0m0 6h0m0 6h0m0 13h0m0 11h0m0 1h0m1-50h0m0 5h0m0 2h0m0 6h0m0 6h0m0 1h0m0 6h0m0 1h0m0 4h0m0 3h0m0 1h0m0 6h0m1-38h0m0 12h0m0 1h0m0 4h0m0 1h0m0 2h0m0 4h0m0 4h0m0 2h0m0 3h0m0 3h0m0 1h0m0 1h0m0 1h0m0 2h0m0 5h0m1-27h0m0 4h0m0 1h0m0 2h0m0 18h0m0 2h0m0 9h0m0 1h0m0 1h0m1-35h0m0 6h0m0 9h0m0 1h0m0 1h0m0 2h0m0 4h0m0 6h0m0 1h0m0 4h0m0 8h0m1-33h0m0 1h0m0 4h0m0 2h0m0 1h0m0 2h0m0 1h0m0 3h0m0 2h0m0 4h0m0 1h0m0 1h0m0 2h0m0 1h0m1-24h0m0 12h0m0 3h0m0 8h0m0 9h0m0 3h0m1-30h0m0 2h0m0 4h0m0 2h0m0 4h0m0 7h0m0 3h0m0 2h0m0 4h0m0 2h0m0 10h0m0 9h0m1-42h0m0 6h0m0 14h0m0 1h0m0 2h0m0 6h0m0 15h0m1-34h0m0 5h0m0 1h0m0 2h0m0 1h0m0 3h0m0 1h0m0 5h0m0 1h0m0 17h0m0 9h0m1-35h0m0 4h0m0 3h0m0 9h0m0 1h0m0 2h0m0 8h0m1-25h0m0 8h0m0 1h0m0 1h0m0 2h0m0 1h0m0 3h0m0 8h0m0 1h0m0 14h0m1-41h0m0 2h0m0 4h0m0 6h0m0 13h0m0 4h0m0 3h0m0 1h0m0 2h0m1-31h0m0 14h0m0 15h0m0 7h0m0 1h0m1-21h0m0 3h0m0 1h0m0 2h0m0 1h0m0 6h0m0 3h0m0 4h0m0 5h0m0 2h0m0 4h0m1-21h0m0 6h0m0 4h0m0 2h0m0 2h0m0 9h0m0 5h0m1-30h0m0 2h0m0 2h0m0 3h0m0 9h0m0 5h0m0 3h0m0 5h0m1-23h0m0 4h0m0 2h0m0 1h0m0 9h0m0 4h0m0 5h0m0 3h0m1-41h0m0 15h0m0 3h0m0 8h0m0 6h0m0 4h0m0 4h0m0 17h0m1-41h0m0 1h0m0 4h0m0 3h0m0 8h0m0 18h0m1-20h0m0 1h0m0 7h0m0 2h0m0 2h0m0 1h0m1-14h0m0 2h0m0 7h0m0 7h0m0 2h0m0 12h0m0 2h0m1-32h0m0 6h0m0 6h0m0 3h0m0 5h0m0 1h0m0 4h0m1-14h0m0 2h0m0 10h0m0 2h0m0 4h0m0 8h0m1-21h0m0 6h0m0 7h0m1-15h0m0 13h0m0 6h0m0 1h0m1-6h0m0 3h0m0 7h0m1-12h0m0 9h0m1 1h0m0 3h0m1-7h0m0 8h0m0 8h0m1-10h0m0 2h0m0 2h0m0 5h0m0 2h0m1-18h0m0 13h0m0 4h0m1-7h0m0 3h0m1-3h0m0 10h0m0 5h0m1-14h0m1 7h0m1-3h0m0 11h0m3-9h0m0 2h0m0 8h0m0 1h0m1-9h0m0 5h0m1 1h0m2-3h0m1 8h0m1-4h0m1 1h0m1 2h0m0 2h0m2-1h0m1 5h0m4-4h0m1 4h0m2-1h0m0 3h0m3-1h0m1 1h0" stroke-opacity="0.20"/><path d="M104 304h0m4-18h0m2 14h0m6-45h0m1-3h0m0 2h0m1-20h0m1 10h0m1-3h0m1-10h0m0 3h0m2 0h0m1-20h0m0 1h0m0 10h0m1 9h0m1-46h0m0 19h0m1-26h0m0 18h0m0 3h0m0 2h0m0 6h0m1-27h0m0 7h0m1-13h0m0 2h0m0 2h0m1-26h0m0 23h0m1-15h0m0 9h0m0 16h0m1-28h0m0 5h0m1-18h0m0 5h0m0 1h0m0 3h0m0 4h0m1-11h0m0 2h0m0 9h0m0 5h0m1-29h0m0 1h0m0 1h0m0 1h0m0 3h0m0 4h0m1-7h0m0 1h0m1-21h0m0 7h0m0 2h0m0 12h0m1-23h0m0 1h0m0 2h0m0 5h0m0 2h0m1-23h0m0 6h0m0 1h0m0 2h0m0 2h0m0 1h0m0 1h0m0 2h0m1-16h0m0 5h0m0 7h0m0 2h0m1-21h0m0 7h0m0 2h0m0 1h0m0 4h0m1-22h0m0 4h0m0 5h0m0 10h0m1-22h0m0 1h0m0 2h0m0 2h0m0 12h0m1-19h0m0 3h0m0 1h0m0 1h0m0 4h0m1-12h0m0 6h0m1-15h0m0 8h0m1-12h0m0 5h0m0 5h0m1-15h0m0 4h0m0 4h0m1-12h0m0 6h0m0 1h0m1-5h0m2-5h0m1-4h0m10-8h0m2 7h0m0 1h0m1-3h0m0 6h0m1 2h0m2 7h0m1-2h0m0 6h0m0 1h0m0 2h0m0 1h0m0 1h0m1-7h0m0 10h0m1 3h0m1-6h0m0 7h0m0 3h0m0 6h0m1-8h0m0 3h0m0 5h0m0 1h0m1-3h0m0 2h0m0 2h0m0 1h0m0 2h0m0 1h0m0 2h0m1-8h0m0 7h0m0 4h0m0 5h0m1-10h0m0 2h0m0 2h0m0 3h0m0 1h0m0 7h0m1-9h0m0 6h0m0 6h0m0 7h0m1-12h0m0 1h0m0 9h0m1-6h0m0 3h0m0 7h0m0 1h0m0 4h0m1-10h0m0 11h0m0 7h0m1-9h0m0 8h0m0 3h0m0 12h0m1-19h0m0 9h0m0 2h0m1-6h0m0 6h0m0 8h0m0 14h0m1-18h0m0 1h0m0 5h0m0 5h0m0 3h0m0 6h0m0 2h0m1-5h0m1-10h0m0 11h0m1 9h0m0 8h0m0 6h0m0 4h0m1-14h0m0 5h0m1-1h0m0 4h0m0 6h0m1-1h0m0 7h0m0 12h0m0 1h0m1-14h0m0 2h0m0 10h0m0 1h0m1 2h0m1-6h0m0 2h0m0 7h0m0 14h0m1-16h0m1-1h0m0 5h0m0 22h0m0 1h0m1-9h0m0 3h0m0 3h0m1 0h0m0 2h0m0 6h0m1-2h0m1 3h0m1 8h0m2 8h0m2 7h0m2 8h0m4 24h0m4 13h0m9 18h0" stroke-opacity="0.28"/><path d="M108 288h0m12-55h0m7-42h0m2 1h0m1-21h0m2-8h0m1-15h0m0 1h0m0 1h0m0 13h0m1-23h0m0 4h0m0 2h0m1-2h0m1-10h0m1-14h0m1 6h0m0 5h0m2-30h0m0 8h0m0 4h0m1-15h0m0 1h0m0 5h0m0 3h0m0 5h0m0 1h0m1-20h0m0 5h0m0 4h0m1-13h0m0 5h0m1-4h0m0 7h0m1-24h0m0 3h0m0 1h0m0 1h0m0 3h0m0 2h0m0 1h0m0 6h0m1-18h0m0 6h0m0 5h0m1-15h0m0 2h0m0 1h0m0 5h0m1-13h0m0 1h0m0 4h0m0 1h0m0 7h0m1-16h0m1-4h0m0 5h0m1-8h0m0 5h0m0 2h0m1-7h0m2-5h0m6-6h0m2 2h0m1 1h0m0 1h0m3 7h0m1-2h0m1 4h0m0 3h0m0 2h0m1 2h0m1 2h0m0 2h0m0 3h0m1-2h0m0 1h0m0 2h0m1-1h0m0 1h0m0 1h0m0 2h0m0 1h0m0 2h0m0 3h0m1-2h0m0 1h0m0 2h0m1 1h0m0 1h0m0 2h0m0 2h0m1-2h0m0 3h0m1 3h0m0 3h0m0 1h0m0 4h0m0 2h0m0 1h0m1-2h0m0 5h0m0 1h0m0 1h0m1-3h0m0 6h0m0 1h0m0 4h0m1-9h0m0 5h0m0 3h0m0 1h0m0 6h0m1-3h0m0 8h0m1-14h0m0 14h0m1-2h0m0 11h0m1 8h0m0 11h0m2-5h0m0 13h0m3 17h0m1 4h0m0 4h0m1 9h0m2-5h0m0 28h0m1 6h0m4 16h0m2 5h0" stroke-opacity="0.34"/><path d="M139 118h0m1-13h0m1 4h0m2-22h0m1-2h0m1-6h0m1-4h0m0 1h0m1-10h0m0 7h0m0 2h0m1-10h0m1-6h0m0 2h0m0 2h0m1-6h0m0 1h0m0 1h0m1-5h0m0 1h0m0 2h0m1-7h0m0 2h0m1-4h0m2-2h0m7-4h0m2 5h0m1 0h0m1 2h0m0 1h0m0 2h0m1 0h0m0 3h0m1 1h0m0 1h0m1 1h0m0 3h0m1 4h0m1 6h0m0 1h0m1 3h0m1 1h0m1 11h0m3 13h0m1 5h0" stroke-opacity="0.40"/><path d="M148 67h0m1-5h0m2-6h0m1-5h0m1-2h0m0 1h0m1-4h0m0 1h0m1-3h0m0 1h0m1-2h0m0 1h0m1-2h0m0 1h0m1-1h0m3 0h0m1 1h0m1 1h0m1 1h0m0 1h0m1 2h0m0 1h0m1 2h0m1 2h0m0 1h0m2 5h0" stroke-opacity="0.45"/></g><path d="M159.0 20.6H225.8" stroke="#74ff64" stroke-width="1.25"/><g transform="scale(0.5)" stroke="#00ff00" stroke-width="1.4" stroke-linecap="round" fill="none"><path d="M49 341h0m4 0h0m12-1h0m10-1h0m12-3h0m2 1h0m1 0h0m1 0h0m1-1h0m8-3h0m4-1h0m0 1h0m3-1h0m1 0h0m7-3h0m3-1h0m1-1h0m0 1h0m3-2h0m0 1h0m2-4h0m2 1h0m1-1h0m1-3h0m0 5h0m1-4h0m1 1h0m1-4h0m3 2h0m1-1h0m1-3h0m0 1h0m0 3h0m1-5h0m4-1h0m5-3h0m1-3h0m0 1h0m1-1h0m1-1h0m1-6h0m0 4h0m1-2h0m0 1h0m0 3h0m2-4h0m1 0h0m2-8h0m0 1h0m0 4h0m3-4h0m1-2h0m1-1h0m1-4h0m0 6h0m1-1h0m0 3h0m1-9h0m0 2h0m0 5h0m1-11h0m0 1h0m0 2h0m1 2h0m0 4h0m1-9h0m0 5h0m0 3h0m1-7h0m0 1h0m1-2h0m1-1h0m0 2h0m2-2h0m2-9h0m0 3h0m0 1h0m1-4h0m0 4h0m0 2h0m1-8h0m0 2h0m1 0h0m0 2h0m1-7h0m0 1h0m0 3h0m1-3h0m0 1h0m0 1h0m0 1h0m0 2h0m1-3h0m1-4h0m0 1h0m0 3h0m0 1h0m1-10h0m0 3h0m1-2h0m0 3h0m0 2h0m1-7h0m0 1h0m1 0h0m0 1h0m1-6h0m0 5h0m1-8h0m0 2h0m0 2h0m1-1h0m1-4h0m0 2h0m0 1h0m1-6h0m0 1h0m0 1h0m0 3h0m1-2h0m0 2h0m1-6h0m0 1h0m1-3h0m1-1h0m0 1h0m1-6h0m0 9h0m1-17h0m0 6h0m0 4h0m1-12h0m0 7h0m0 3h0m1-4h0m1-2h0m0 2h0m0 2h0m0 1h0m1-10h0m0 3h0m0 4h0m1-10h0m0 5h0m0 1h0m0 2h0m0 1h0m1-8h0m0 1h0m0 1h0m0 3h0m1-6h0m0 1h0m0 1h0m0 4h0m1-3h0m1-7h0m0 5h0m1-8h0m0 8h0m1-6h0m0 2h0m1-6h0m0 4h0m0 6h0m1-15h0m0 5h0m1-8h0m0 3h0m1 3h0m1-9h0m0 3h0m0 2h0m0 3h0m1-10h0m0 1h0m0 1h0m0 3h0m1-7h0m0 3h0m0 2h0m0 2h0m1-6h0m0 2h0m0 2h0m1-7h0m0 3h0m0 2h0m0 1h0m1-6h0m0 2h0m1-8h0m0 6h0m0 2h0m2-13h0m0 3h0m1-2h0m0 1h0m0 1h0m1-4h0m0 1h0m0 3h0m1-8h0m0 5h0m0 1h0m1-8h0m0 2h0m0 4h0m1-13h0m0 7h0m0 2h0m1-12h0m0 5h0m0 3h0m0 1h0m1-6h0m0 3h0m1-6h0m0 3h0m0 1h0m1-5h0m0 3h0m0 2h0m0 1h0m1-7h0m0 6h0m1-12h0m0 5h0m0 2h0m1-6h0m0 2h0m0 1h0m1-5h0m0 1h0m0 1h0m1-4h0m0 1h0m0 1h0m0 2h0m1-10h0m0 1h0m0 2h0m0 4h0m0 1h0m1-6h0m1-3h0m0 1h0m0 1h0m0 2h0m1-10h0m0 5h0m0 4h0m1-9h0m0 9h0m1-13h0m0 2h0m0 1h0m0 1h0m0 1h0m0 4h0m1-9h0m0 1h0m0 1h0m0 3h0m0 1h0m1-7h0m0 4h0m0 2h0m1-10h0m0 3h0m0 2h0m0 1h0m1-5h0m1 0h0m1-4h0m0 1h0m1-3h0m0 1h0m1-3h0m0 3h0m0 1h0m1-11h0m0 1h0m0 3h0m1-6h0m0 1h0m0 1h0m0 5h0m1-8h0m0 1h0m0 2h0m1-1h0m1-6h0m0 1h0m0 3h0m1-3h0m0 1h0m0 2h0m1-3h0m1-5h0m1-5h0m2-3h0m0 2h0m0 3h0m0 2h0m1-11h0m0 6h0m1-6h0m0 3h0m0 2h0m1-7h0m0 5h0m1-8h0m0 2h0m0 2h0m2-6h0m0 2h0m0 2h0m1-7h0m0 3h0m0 1h0m1-3h0m0 1h0m1-5h0m1-3h0m0 4h0m0 1h0m1-7h0m0 4h0m0 1h0m1-3h0m2-7h0m0 3h0m0 2h0m1-5h0m1-2h0m0 2h0m2-7h0m0 1h0m0 4h0m1-3h0m3-7h0m1-2h0m0 1h0m1 1h0m1-5h0m1 2h0m2-5h0m0 2h0m5-6h0m2-2h0m1-1h0m2-4h0m1 1h0m1-1h0" stroke-opacity="0.26"/><path d="M79 338h0m6-1h0m51-18h0m17-17h0m9-8h0m5-9h0m4-2h0m2-7h0m5 1h0m8-17h0m5-9h0m3-7h0m1 2h0m0 1h0m2-4h0m2-8h0m2 0h0m3-8h0m1-4h0m1 3h0m0 1h0m5-16h0m0 2h0m1-3h0m2-5h0m2-4h0m0 2h0m1-4h0m2-3h0m0 1h0m1-5h0m0 8h0m2-11h0m0 3h0m1-2h0m4-11h0m0 3h0m1-2h0m2-10h0m0 1h0m6-14h0m0 5h0m1-7h0m0 4h0m1-3h0m1-5h0m1 3h0m2-8h0m1 3h0m1-11h0m0 7h0m1-4h0m2-8h0m0 2h0m0 3h0m1-7h0m1 1h0m1 1h0m1-5h0m0 2h0m1-7h0m0 4h0m3-11h0m0 4h0m1-1h0m1-6h0m0 2h0m1-5h0m0 1h0m0 2h0m1-4h0m0 3h0m1-4h0m0 1h0m2-5h0m0 1h0m0 1h0m2-7h0m0 3h0m0 1h0m1-5h0m1 1h0m1-7h0m1 2h0m1-5h0m1-2h0m2 0h0m2-7h0m1 2h0m1-5h0m0 2h0m1-3h0m0 2h0m1-4h0m1 0h0m0 1h0m1-4h0m1-1h0m0 1h0m1-1h0m1-4h0m1-1h0m0 1h0m4-4h0m2-5h0m3-3h0m1-1h0m10-8h0" stroke-opacity="0.36"/><path d="M162 291h0m10-13h0m29-46h0m7-12h0m2-3h0m0 2h0m1-4h0m3-9h0m7-11h0m11-27h0m0 3h0m2-5h0m1-3h0m3-9h0m1 1h0m0 1h0m1-4h0m2-5h0m1-2h0m1-5h0m0 3h0m1-5h0m0 1h0m0 1h0m3-8h0m0 1h0m1-3h0m1-1h0m1 0h0m2-7h0m1-2h0m1-3h0m0 1h0m0 1h0m1-4h0m0 2h0m3-6h0m2-8h0m0 2h0m0 1h0m1-3h0m1-1h0m0 2h0m1-4h0m0 1h0m5-11h0m1-2h0m0 1h0m1-4h0m0 1h0m0 1h0m1-3h0m0 2h0m1-3h0m0 2h0m1-3h0m2-4h0m4-5h0m2-4h0m1-1h0m2-4h0m2-2h0m1-2h0m1-1h0m1-1h0m0 1h0m1-1h0m4-6h0m1-1h0m5-4h0m5-2h0" stroke-opacity="0.44"/><path d="M252 124h0m5-10h0m9-18h0m1-2h0m1-2h0m0 1h0m1-2h0m3-6h0m3-5h0m3-5h0m1-2h0m1-1h0m3-5h0m2-2h0m3-4h0m1-1h0m3-5h0m1 0h0m1-1h0m2-2h0m3-3h0m1 0h0m1-1h0m2-2h0m1 0h0m1-1h0m1-1h0m2-1h0m0 1h0m1-1h0" stroke-opacity="0.52"/><path d="M277 77h0m9-14h0m0 1h0m5-7h0m1-1h0m3-3h0m2-2h0m1-1h0m2-2h0m2-1h0m5-3h0m3-1h0m1-1h0m1 0h0m1 0h0m1 0h0" stroke-opacity="0.58"/></g></g><path d="M24.4 171.4v-1.8M24.4 20.6v1.8M53.3 171.4v-1.8M53.3 20.6v1.8M82.3 171.4v-1.8M82.3 20.6v1.8M111.2 171.4v-1.8M111.2 20.6v1.8M140.1 171.4v-1.8M140.1 20.6v1.8M169.1 171.4v-1.8M169.1 20.6v1.8M198.0 171.4v-1.8M198.0 20.6v1.8M10.5 171.4h1.8M225.8 171.4h-1.8M10.5 156.3h1.8M225.8 156.3h-1.8M10.5 141.2h1.8M225.8 141.2h-1.8M10.5 126.2h1.8M225.8 126.2h-1.8M10.5 111.1h1.8M225.8 111.1h-1.8M10.5 96.0h1.8M225.8 96.0h-1.8M10.5 80.9h1.8M225.8 80.9h-1.8M10.5 65.8h1.8M225.8 65.8h-1.8M10.5 50.8h1.8M225.8 50.8h-1.8M10.5 35.7h1.8M225.8 35.7h-1.8M10.5 20.6h1.8M225.8 20.6h-1.8" stroke="#a0a0a0" stroke-width="0.6" fill="none"/><g font-size="3.4" fill="#222" stroke="#222" stroke-width="0.07"><text x="24.4" y="176.0" text-anchor="middle">0.5</text><text x="53.3" y="176.0" text-anchor="middle">1</text><text x="82.3" y="176.0" text-anchor="middle">1.5</text><text x="111.2" y="176.0" text-anchor="middle">2</text><text x="140.1" y="176.0" text-anchor="middle">2.5</text><text x="169.1" y="176.0" text-anchor="middle">3</text><text x="198.0" y="176.0" text-anchor="middle">3.5</text><text x="9.2" y="173.3" text-anchor="end">0</text><text x="9.2" y="158.2" text-anchor="end">0.1</text><text x="9.2" y="143.1" text-anchor="end">0.2</text><text x="9.2" y="128.1" text-anchor="end">0.3</text><text x="9.2" y="113.0" text-anchor="end">0.4</text><text x="9.2" y="97.9" text-anchor="end">0.5</text><text x="9.2" y="82.8" text-anchor="end">0.6</text><text x="9.2" y="67.7" text-anchor="end">0.7</text><text x="9.2" y="52.7" text-anchor="end">0.8</text><text x="9.2" y="37.6" text-anchor="end">0.9</text><text x="9.2" y="22.5" text-anchor="end">1</text></g><text x="118.2" y="180.4" font-size="3.4" fill="#222" stroke="#222" stroke-width="0.07" text-anchor="middle" xml:space="preserve">Agricultural output value (C1)</text><text transform="translate(3.5 96.3) rotate(-90)" font-size="3.4" fill="#222" stroke="#222" stroke-width="0.11" text-anchor="middle">Certainty degree</text><rect x="208.2" y="149.1" width="15.6" height="19.8" fill="#fff" stroke="#a8a8a8" stroke-width="0.6"/><circle cx="213.7" cy="151.5" r="0.45" fill="#ff0000" fill-opacity="0.5"/><text x="218.5" y="152.6" font-size="3.2" fill="#444">I</text><circle cx="213.7" cy="155.3" r="0.45" fill="#ffff00" fill-opacity="0.5"/><text x="218.5" y="156.4" font-size="3.2" fill="#444">II</text><circle cx="213.7" cy="159.0" r="0.45" fill="#0000ff" fill-opacity="0.5"/><text x="218.5" y="160.1" font-size="3.2" fill="#444">III</text><circle cx="213.7" cy="162.8" r="0.45" fill="#00ffff" fill-opacity="0.5"/><text x="218.5" y="163.9" font-size="3.2" fill="#444">IV</text><circle cx="213.7" cy="166.6" r="0.45" fill="#00ff00" fill-opacity="0.5"/><text x="218.5" y="167.7" font-size="3.2" fill="#444">V</text><text x="16.0" y="18.2" font-size="23.8" font-weight="bold" fill="#000">a</text></g><g><path d="M283.5 20.6V171.4M326.5 20.6V171.4M369.5 20.6V171.4M412.5 20.6V171.4M455.5 20.6V171.4M240.5 156.3H455.6M240.5 141.2H455.6M240.5 126.2H455.6M240.5 111.1H455.6M240.5 96.0H455.6M240.5 80.9H455.6M240.5 65.8H455.6M240.5 50.8H455.6M240.5 35.7H455.6" stroke="#ececec" stroke-width="0.6" fill="none"/><rect x="240.5" y="20.6" width="215.1" height="150.8" fill="none" stroke="#bcbcbc" stroke-width="1.0"/><g clip-path="url(#cpb)"><path d="M240.5 20.6H243.8" stroke="#ff4a4a" stroke-width="1.25"/><g transform="scale(0.5)" stroke="#ff0000" stroke-width="1.4" stroke-linecap="round" fill="none"><path d="M490 53h0m0 15h0m1 1h0m0 25h0m0 1h0m1-9h0m0 6h0m0 24h0m0 1h0m0 2h0m1-4h0m0 7h0m0 4h0m0 9h0m0 5h0m0 1h0m0 3h0m1-8h0m0 1h0m0 1h0m0 2h0m0 3h0m0 13h0m0 9h0m0 1h0m0 8h0m0 1h0m1-17h0m0 7h0m0 3h0m0 5h0m0 6h0m0 2h0m0 5h0m0 10h0m0 10h0m1-20h0m0 2h0m0 2h0m0 1h0m0 1h0m0 2h0m0 2h0m0 2h0m0 1h0m0 1h0m0 2h0m0 9h0m0 1h0m0 1h0m0 4h0m0 1h0m0 3h0m0 2h0m0 1h0m0 9h0m1-24h0m0 8h0m0 3h0m0 2h0m0 1h0m0 5h0m0 1h0m0 3h0m0 2h0m0 2h0m0 4h0m0 1h0m0 4h0m0 2h0m0 4h0m1-12h0m0 1h0m0 2h0m0 5h0m0 1h0m0 3h0m0 1h0m0 5h0m0 5h0m0 1h0m0 1h0m0 4h0m0 2h0m0 2h0m1-14h0m0 1h0m0 4h0m0 4h0m0 1h0m0 3h0m0 14h0m0 3h0m1-11h0m0 5h0m0 1h0m0 6h0m0 3h0m0 8h0m0 2h0m1-12h0m0 7h0m0 8h0m0 3h0m0 1h0m0 2h0m0 1h0m0 2h0m1-7h0m0 2h0m0 2h0m0 3h0m0 3h0m1 3h0m0 3h0m0 1h0m0 1h0m0 1h0m0 3h0m1-5h0m0 3h0m0 1h0m0 5h0m1-5h0m0 1h0m0 1h0m0 2h0m0 3h0m1-3h0m0 3h0m0 4h0m1-1h0m1 1h0m0 1h0m1 1h0m1 1h0m1 0h0" stroke-opacity="0.32"/><path d="M491 89h0m0 1h0m0 3h0m1-4h0m0 1h0m0 5h0m0 13h0m0 3h0m1 1h0m0 15h0m0 3h0m0 3h0m0 4h0m0 5h0m0 1h0m0 3h0m1-5h0m0 7h0m0 21h0m0 2h0m0 1h0m1-5h0m0 2h0m0 3h0m0 2h0m0 4h0m0 2h0m0 8h0m0 5h0m0 5h0m1-9h0m0 6h0m0 9h0m0 2h0m0 3h0m0 1h0m0 4h0m0 1h0m0 5h0m0 7h0m0 1h0m1-10h0m0 3h0m0 5h0m0 1h0m0 4h0m0 13h0m1 6h0m0 3h0m0 2h0m0 10h0m1-1h0m0 1h0m0 4h0m0 3h0m0 2h0m0 1h0m0 2h0m0 3h0m0 2h0m1-1h0m0 14h0m0 8h0m1-3h0m0 2h0m1 11h0m0 2h0m0 1h0m0 3h0m1-4h0m0 1h0m0 6h0m2 9h0m0 2h0m1 3h0m0 1h0" stroke-opacity="0.45"/><path d="M489 54h0m1 11h0m0 1h0m1 2h0m0 5h0m0 1h0m0 5h0m0 4h0m0 2h0m0 1h0m0 2h0m1 5h0m0 3h0m0 6h0m0 1h0m0 1h0m0 1h0m1 8h0m0 1h0m0 2h0m0 1h0m0 7h0m0 4h0m0 3h0m0 1h0m0 7h0m1 0h0m0 3h0m0 2h0m0 1h0m0 4h0m0 1h0m0 1h0m0 1h0m0 2h0m0 1h0m0 3h0m0 3h0m0 1h0m0 2h0m0 3h0m0 3h0m1 0h0m0 6h0m0 1h0m0 5h0m0 3h0m0 4h0m0 2h0m0 1h0m0 2h0m0 1h0m0 4h0m1 2h0m0 4h0m0 14h0m1 5h0m0 1h0m0 8h0m0 6h0m0 3h0m1-1h0m0 13h0m0 5h0m0 2h0m1 12h0m0 5h0m0 1h0m1 8h0m0 3h0m0 4h0m0 2h0m1 3h0m0 4h0m0 1h0" stroke-opacity="0.55"/><path d="M490 55h0m0 9h0m0 3h0m0 2h0m0 1h0m1 0h0m0 1h0m0 4h0m0 2h0m0 1h0m0 2h0m0 1h0m0 1h0m0 2h0m0 3h0m1 4h0m0 6h0m0 1h0m0 1h0m0 1h0m0 6h0m0 1h0m0 2h0m0 1h0m0 2h0m1 6h0m0 2h0m0 1h0m0 2h0m0 2h0m0 4h0m0 5h0m0 4h0m1 8h0m0 1h0m0 6h0m0 4h0m0 3h0m0 3h0m1 8h0m0 4h0m0 8h0m0 4h0m1 16h0m0 4h0m0 1h0m1 22h0m0 5h0m1 21h0" stroke-opacity="0.65"/><path d="M488 42h0m0 1h0m0 1h0m1 0h0m0 1h0m0 1h0m0 1h0m0 1h0m0 1h0m0 1h0m0 1h0m0 1h0m0 1h0m1 1h0m0 2h0m0 1h0m0 1h0m0 1h0m0 1h0m0 1h0m0 1h0m0 1h0m1 9h0m0 4h0m1 18h0m0 7h0" stroke-opacity="0.72"/></g><g transform="scale(0.5)" stroke="#ffff00" stroke-width="1.4" stroke-linecap="round" fill="none"><path d="M479 334h0m0 1h0m1-4h0m0 2h0m0 2h0m0 2h0m1-9h0m0 4h0m1-7h0m0 1h0m0 1h0m0 3h0m1-7h0m0 4h0m0 1h0m2-12h0m0 3h0m0 3h0m1-14h0m0 1h0m0 4h0m0 2h0m1-13h0m0 5h0m0 1h0m0 1h0m0 3h0m1-15h0m0 2h0m0 3h0m0 4h0m0 3h0m1-19h0m0 2h0m0 2h0m0 2h0m0 2h0m0 3h0m0 1h0m1-22h0m0 4h0m0 2h0m0 8h0m0 2h0m1-30h0m0 5h0m0 2h0m0 6h0m0 3h0m1-19h0m0 2h0m0 3h0m0 2h0m0 1h0m0 3h0m0 3h0m0 1h0m0 2h0m1-27h0m0 2h0m0 2h0m0 2h0m0 2h0m0 6h0m1-20h0m0 3h0m0 1h0m0 5h0m0 1h0m0 2h0m1-25h0m0 1h0m0 3h0m0 1h0m0 3h0m0 2h0m0 3h0m0 3h0m0 1h0m1-29h0m0 1h0m0 2h0m0 2h0m0 4h0m0 1h0m0 2h0m0 3h0m0 4h0m0 6h0m1-37h0m0 3h0m0 3h0m0 8h0m0 6h0m1-36h0m0 2h0m0 1h0m0 1h0m0 11h0m0 3h0m0 5h0m0 8h0m1-42h0m0 1h0m0 1h0m0 1h0m0 1h0m0 1h0m0 5h0m0 2h0m0 8h0m0 1h0m1-28h0m0 5h0m0 5h0m0 2h0m0 3h0m1-29h0m0 6h0m0 3h0m0 5h0m0 1h0m1-36h0m0 2h0m0 2h0m0 12h0m0 2h0m0 2h0m0 2h0m1-32h0m0 1h0m0 1h0m0 2h0m0 1h0m0 3h0m0 9h0m0 2h0m0 1h0m1-34h0m0 5h0m0 13h0m0 1h0m0 2h0m1-35h0m0 3h0m0 14h0m0 2h0m0 2h0m1-30h0m0 2h0m0 11h0m0 4h0m1-29h0m0 18h0m1-13h0m1-20h0m0 9h0m3-30h0m6 6h0m2 14h0m1-1h0m1 8h0m0 9h0m0 1h0m0 4h0m1-4h0m0 2h0m1 10h0m0 1h0m0 3h0m1 8h0m0 1h0m0 13h0m1-3h0m0 1h0m0 2h0m0 10h0m0 6h0m1 8h0m0 1h0m0 1h0m0 3h0m1-5h0m0 4h0m0 12h0m0 2h0m1-7h0m0 2h0m0 1h0m0 2h0m0 2h0m0 14h0m0 1h0m0 2h0m0 1h0m1-9h0m0 3h0m0 1h0m0 6h0m0 6h0m0 1h0m0 4h0m1-13h0m0 2h0m0 1h0m0 1h0m0 4h0m0 2h0m0 1h0m0 6h0m0 2h0m0 1h0m1-4h0m0 3h0m0 1h0m0 1h0m0 1h0m0 8h0m0 7h0m1-8h0m0 3h0m0 1h0m0 1h0m0 4h0m0 2h0m0 1h0m0 2h0m0 2h0m1-3h0m0 1h0m0 3h0m0 1h0m0 1h0m0 11h0m0 3h0m1-5h0m0 1h0m0 4h0m0 4h0m0 1h0m0 5h0m0 1h0m1-17h0m0 4h0m0 6h0m0 1h0m0 7h0m0 4h0m0 2h0m0 5h0m1-12h0m0 5h0m0 3h0m0 4h0m0 1h0m0 2h0m0 1h0m1-8h0m0 3h0m0 9h0m0 7h0m1-11h0m0 1h0m0 3h0m0 1h0m0 4h0m0 2h0m0 4h0m1 0h0m0 2h0m0 5h0m0 2h0m1-3h0m0 8h0m1 2h0m1 6h0m0 4h0m1 3h0m0 2h0m0 2h0m1-3h0m0 1h0m0 2h0m0 1h0m0 2h0m0 1h0m1-4h0m0 1h0m0 2h0m0 2h0m0 2h0m1 0h0m0 4h0m1 4h0m1-6h0m0 3h0m0 1h0m0 1h0m0 2h0m1 0h0m0 1h0m2-1h0m0 4h0m8 4h0m0 1h0" stroke-opacity="0.22"/><path d="M482 328h0m3-14h0m1-4h0m2-7h0m0 1h0m0 1h0m1-12h0m0 6h0m1-14h0m0 4h0m0 1h0m0 2h0m1-14h0m0 2h0m0 3h0m0 1h0m0 2h0m1-17h0m0 4h0m0 3h0m1-16h0m0 2h0m0 1h0m0 1h0m0 2h0m1-17h0m0 3h0m0 2h0m0 1h0m0 3h0m1-13h0m0 3h0m0 4h0m1-26h0m0 3h0m0 1h0m0 8h0m1-21h0m0 4h0m0 2h0m0 6h0m1-24h0m0 1h0m0 1h0m1-13h0m0 3h0m0 1h0m0 1h0m1-28h0m0 1h0m0 2h0m0 8h0m0 2h0m0 1h0m1-19h0m0 3h0m1-22h0m0 4h0m0 7h0m0 2h0m1-30h0m0 13h0m1-22h0m0 11h0m0 1h0m1-26h0m0 14h0m1-26h0m1-11h0m0 3h0m0 9h0m0 1h0m0 2h0m1-25h0m0 10h0m0 1h0m2-20h0m1-7h0m1-6h0m7 5h0m3 24h0m0 5h0m1-2h0m0 12h0m1-2h0m0 7h0m0 6h0m0 2h0m1-3h0m0 7h0m0 1h0m0 3h0m0 3h0m1 0h0m0 12h0m0 1h0m0 1h0m1 5h0m0 4h0m0 5h0m1 2h0m0 4h0m0 8h0m1-5h0m0 5h0m0 2h0m0 1h0m0 1h0m0 2h0m0 1h0m0 1h0m0 3h0m1 1h0m0 3h0m0 3h0m0 4h0m1 3h0m0 6h0m0 1h0m0 1h0m0 3h0m1 11h0m0 2h0m0 2h0m0 1h0m1-4h0m0 7h0m0 2h0m1 10h0m0 2h0m0 1h0m0 1h0m0 4h0m0 1h0m1 6h0m1 4h0m0 11h0m1-4h0m0 5h0m0 2h0m0 1h0m0 4h0m1-2h0m0 3h0m0 1h0m0 2h0m0 4h0m0 2h0m0 4h0m1-4h0m0 4h0m0 5h0m1-4h0m0 1h0m0 2h0m1 7h0m0 2h0m0 1h0m0 1h0m0 3h0m0 2h0m1 0h0m0 3h0m0 1h0m0 3h0m2-1h0m0 5h0m1 4h0m1 3h0m0 2h0m2 9h0m4 6h0m5 4h0" stroke-opacity="0.32"/><path d="M481 331h0m2-6h0m3-13h0m2-12h0m2-13h0m1-10h0m1-5h0m2-19h0m1-12h0m0 5h0m1-11h0m1-21h0m0 4h0m0 1h0m0 1h0m1-20h0m0 1h0m0 1h0m0 1h0m0 1h0m0 4h0m0 2h0m0 3h0m1-23h0m0 1h0m0 1h0m0 10h0m1-29h0m0 2h0m0 2h0m0 3h0m0 10h0m1-31h0m0 1h0m0 1h0m0 2h0m0 1h0m0 1h0m0 2h0m0 3h0m0 3h0m1-23h0m0 3h0m0 2h0m0 1h0m0 6h0m1-28h0m0 3h0m0 1h0m0 4h0m0 3h0m0 1h0m1-28h0m0 1h0m0 1h0m0 3h0m0 2h0m0 1h0m0 1h0m0 2h0m0 1h0m0 1h0m1-23h0m0 1h0m0 6h0m0 1h0m0 1h0m1-18h0m0 5h0m0 4h0m1-25h0m0 6h0m0 1h0m0 4h0m0 1h0m1-22h0m0 4h0m0 3h0m0 2h0m1-13h0m0 3h0m0 1h0m0 1h0m0 1h0m1-18h0m0 3h0m0 6h0m1-9h0m8-6h0m0 7h0m2 12h0m0 3h0m0 1h0m0 1h0m1-1h0m0 4h0m0 1h0m0 5h0m1 5h0m0 2h0m1 11h0m0 4h0m0 4h0m1-1h0m0 2h0m0 1h0m0 4h0m0 3h0m1 8h0m0 1h0m1 3h0m0 4h0m0 2h0m0 3h0m0 1h0m0 1h0m0 2h0m0 5h0m1-2h0m0 4h0m0 2h0m0 2h0m0 1h0m0 1h0m0 1h0m0 1h0m1 12h0m0 1h0m0 2h0m1 4h0m0 1h0m0 6h0m0 1h0m1 6h0m1 11h0m0 1h0m0 1h0m0 1h0m0 1h0m0 1h0m1 14h0m1 2h0m0 6h0m0 5h0m1 4h0m0 4h0m0 5h0m0 2h0m1 0h0m0 1h0m0 2h0m0 3h0m1 8h0m1 3h0m0 5h0m2 18h0m2 7h0m13 42h0" stroke-opacity="0.39"/><path d="M493 269h0m3-33h0m1-21h0m2-19h0m1-18h0m0 1h0m0 4h0m1-11h0m1-24h0m0 1h0m0 5h0m1-14h0m0 1h0m0 3h0m1-20h0m0 4h0m1-18h0m0 1h0m0 1h0m0 1h0m0 1h0m0 4h0m0 1h0m1-22h0m0 1h0m0 2h0m0 1h0m0 1h0m0 1h0m0 2h0m0 1h0m1-21h0m0 1h0m0 2h0m0 3h0m1-16h0m0 3h0m0 3h0m0 2h0m1-18h0m0 1h0m0 4h0m0 1h0m1-13h0m0 1h0m0 2h0m0 1h0m0 2h0m1-13h0m2-8h0m4 3h0m1 0h0m0 5h0m1 1h0m0 2h0m0 1h0m0 1h0m1 2h0m0 1h0m0 3h0m0 3h0m1 1h0m0 3h0m0 2h0m1 4h0m0 1h0m0 1h0m1 9h0m0 2h0m0 2h0m0 2h0m0 1h0m0 1h0m0 1h0m1 2h0m0 1h0m0 2h0m0 3h0m0 1h0m0 1h0m1 5h0m0 5h0m0 3h0m1 4h0m0 1h0m0 1h0m0 1h0m0 1h0m0 4h0m2 18h0m0 12h0m2 13h0m0 8h0m1 15h0" stroke-opacity="0.45"/><path d="M507 92h0m0 1h0m1-17h0m0 3h0m1-11h0m1-5h0m1-11h0m0 1h0m0 1h0m0 1h0m0 1h0m1-9h0m0 1h0m0 1h0m0 1h0m0 1h0m1-7h0m0 1h0m0 1h0m1-4h0m0 1h0m2-1h0m0 1h0m1 0h0m0 1h0m0 1h0m1 2h0m0 1h0m0 1h0m0 1h0m1 3h0m1 4h0m0 3h0m0 1h0m0 2h0m0 1h0m1 3h0m0 1h0m0 4h0m1 8h0m1 7h0" stroke-opacity="0.50"/></g><g transform="scale(0.5)" stroke="#0000ff" stroke-width="1.4" stroke-linecap="round" fill="none"><path d="M518 340h0m1-3h0m0 2h0m2-5h0m0 1h0m0 1h0m0 2h0m1-5h0m0 3h0m0 1h0m0 1h0m1-9h0m1-5h0m0 1h0m0 2h0m0 2h0m1-11h0m0 1h0m0 3h0m0 2h0m0 3h0m0 2h0m1-20h0m0 2h0m0 3h0m0 1h0m0 1h0m0 4h0m0 1h0m0 4h0m0 3h0m1-20h0m0 2h0m0 2h0m0 2h0m1-19h0m0 1h0m0 4h0m0 2h0m0 1h0m0 2h0m0 2h0m1-26h0m0 6h0m0 1h0m0 1h0m0 7h0m0 1h0m0 1h0m0 1h0m0 2h0m0 1h0m0 2h0m0 1h0m0 2h0m1-36h0m0 3h0m0 4h0m0 3h0m0 3h0m0 2h0m0 1h0m0 2h0m0 5h0m0 1h0m0 6h0m1-42h0m0 3h0m0 3h0m0 5h0m0 2h0m0 2h0m0 2h0m0 1h0m0 1h0m0 3h0m0 1h0m0 1h0m0 7h0m0 3h0m1-47h0m0 2h0m0 4h0m0 2h0m0 3h0m0 2h0m0 6h0m0 2h0m0 3h0m0 2h0m0 5h0m1-46h0m0 2h0m0 1h0m0 2h0m0 2h0m0 6h0m0 2h0m0 4h0m0 1h0m0 1h0m0 3h0m0 1h0m1-34h0m0 1h0m0 14h0m0 1h0m0 1h0m0 1h0m0 3h0m0 2h0m1-46h0m0 2h0m0 9h0m0 1h0m0 4h0m0 9h0m0 1h0m0 1h0m0 3h0m1-54h0m0 1h0m0 7h0m0 1h0m0 5h0m0 3h0m0 9h0m0 3h0m0 1h0m0 1h0m0 6h0m0 1h0m1-57h0m0 2h0m0 6h0m0 4h0m0 13h0m0 1h0m0 7h0m0 1h0m0 4h0m1-54h0m0 1h0m0 4h0m0 1h0m0 1h0m0 6h0m0 6h0m0 16h0m1-54h0m0 2h0m0 1h0m0 2h0m0 1h0m0 3h0m0 17h0m0 3h0m0 2h0m0 5h0m1-54h0m0 2h0m0 1h0m0 2h0m0 3h0m0 11h0m0 4h0m0 4h0m0 7h0m1-41h0m1-1h0m0 1h0m0 1h0m1-36h0m0 17h0m0 2h0m1-15h0m1-10h0m5-6h0m0 12h0m1 12h0m0 1h0m0 1h0m1-7h0m0 1h0m0 18h0m1-5h0m0 2h0m0 8h0m0 11h0m0 2h0m1-5h0m0 21h0m0 1h0m0 2h0m0 6h0m1-10h0m0 15h0m0 1h0m0 5h0m0 5h0m1-14h0m0 1h0m0 2h0m0 2h0m0 2h0m0 3h0m0 3h0m0 16h0m0 1h0m0 2h0m0 2h0m0 2h0m1-17h0m0 1h0m0 1h0m0 5h0m0 3h0m0 15h0m0 2h0m0 1h0m0 3h0m0 5h0m1-13h0m0 2h0m0 2h0m0 3h0m0 6h0m0 4h0m0 2h0m0 7h0m0 1h0m0 1h0m0 1h0m0 2h0m1-18h0m0 5h0m0 1h0m0 2h0m0 4h0m0 2h0m0 2h0m0 9h0m0 2h0m1-6h0m0 2h0m0 1h0m0 2h0m0 5h0m0 1h0m0 1h0m0 2h0m0 1h0m0 4h0m0 1h0m0 1h0m0 5h0m0 9h0m1-20h0m0 3h0m0 2h0m0 19h0m0 4h0m0 2h0m0 4h0m1-17h0m0 7h0m0 1h0m0 1h0m0 1h0m0 2h0m0 11h0m0 5h0m0 3h0m1-14h0m0 3h0m0 1h0m0 1h0m0 1h0m0 1h0m0 3h0m0 1h0m0 2h0m0 1h0m0 3h0m0 2h0m0 4h0m0 1h0m0 1h0m0 1h0m0 1h0m1-15h0m0 5h0m0 2h0m0 6h0m0 1h0m0 1h0m0 7h0m0 1h0m1-13h0m0 3h0m0 1h0m0 1h0m0 3h0m0 3h0m0 1h0m0 5h0m0 1h0m0 4h0m0 2h0m0 1h0m1-16h0m0 2h0m0 5h0m0 1h0m0 2h0m0 1h0m0 1h0m0 1h0m1 4h0m0 6h0m0 1h0m0 6h0m0 1h0m1-8h0m0 5h0m0 3h0m0 1h0m0 3h0m1-5h0m0 4h0m0 2h0m0 4h0m0 1h0m1-5h0m0 1h0m0 4h0m0 2h0m1-3h0m0 3h0m0 1h0m0 1h0m1-1h0m1 4h0m2 2h0m1 2h0" stroke-opacity="0.32"/><path d="M517 341h0m3-4h0m2-3h0m2-6h0m1 0h0m1-4h0m1-20h0m0 9h0m1-12h0m0 5h0m0 2h0m0 4h0m1-21h0m0 4h0m1-18h0m0 2h0m0 4h0m0 2h0m0 3h0m0 4h0m0 1h0m1-20h0m0 2h0m0 4h0m1-21h0m0 2h0m0 1h0m0 12h0m1-36h0m0 6h0m0 10h0m1-37h0m0 9h0m0 4h0m0 1h0m0 1h0m0 2h0m0 1h0m1-39h0m0 5h0m0 3h0m0 5h0m0 5h0m0 7h0m0 2h0m1-40h0m0 3h0m0 3h0m0 2h0m0 3h0m0 2h0m0 1h0m0 1h0m0 2h0m0 1h0m1-37h0m0 4h0m0 2h0m0 1h0m0 8h0m0 6h0m0 1h0m1-37h0m0 1h0m0 6h0m0 12h0m0 2h0m0 2h0m0 1h0m1-41h0m0 1h0m0 8h0m0 6h0m0 3h0m1-36h0m0 4h0m1-30h0m0 2h0m0 2h0m0 3h0m0 12h0m0 5h0m1-35h0m0 14h0m1-28h0m1 2h0m0 2h0m1-12h0m6 4h0m0 1h0m0 13h0m1 14h0m1 2h0m1 24h0m0 1h0m0 1h0m0 6h0m0 3h0m1-4h0m0 4h0m0 2h0m0 12h0m0 7h0m1-4h0m0 9h0m0 3h0m0 5h0m0 2h0m1-2h0m0 2h0m0 1h0m0 3h0m0 2h0m0 1h0m0 1h0m0 5h0m0 3h0m0 2h0m0 4h0m1 3h0m0 4h0m0 4h0m0 2h0m0 1h0m0 1h0m1 0h0m0 8h0m0 4h0m0 9h0m0 1h0m0 1h0m1-7h0m0 3h0m0 1h0m0 9h0m0 1h0m1 3h0m0 5h0m0 4h0m0 4h0m0 1h0m0 2h0m0 1h0m0 2h0m0 8h0m1-1h0m0 2h0m0 2h0m0 3h0m1 11h0m1 2h0m0 4h0m0 9h0m1 1h0m0 9h0m1-1h0m0 5h0m1 8h0m0 3h0m0 3h0m1-2h0m1 7h0" stroke-opacity="0.45"/><path d="M523 332h0m3-13h0m5-48h0m1-9h0m1-23h0m0 1h0m0 2h0m0 5h0m0 1h0m0 1h0m1-35h0m0 10h0m0 3h0m0 1h0m0 4h0m0 3h0m1-30h0m0 4h0m0 3h0m0 5h0m0 2h0m1-33h0m0 5h0m0 3h0m0 8h0m1-31h0m0 2h0m0 4h0m0 2h0m0 7h0m1-34h0m0 2h0m0 2h0m0 4h0m0 2h0m0 2h0m0 1h0m1-37h0m0 1h0m0 5h0m0 1h0m0 1h0m0 1h0m0 2h0m0 2h0m0 1h0m0 1h0m0 1h0m1-35h0m0 1h0m0 2h0m0 2h0m0 1h0m0 3h0m0 1h0m0 1h0m0 1h0m0 6h0m1-35h0m0 9h0m0 1h0m0 5h0m0 3h0m1-32h0m0 5h0m0 4h0m1-24h0m0 14h0m0 2h0m1-26h0m6-3h0m0 10h0m1 4h0m0 6h0m0 1h0m1-1h0m0 1h0m0 4h0m0 10h0m0 4h0m1-2h0m0 7h0m0 1h0m0 4h0m0 2h0m0 1h0m1-1h0m0 1h0m0 1h0m0 1h0m0 2h0m0 3h0m0 6h0m0 1h0m0 1h0m0 1h0m0 1h0m1-1h0m0 6h0m0 2h0m0 1h0m0 1h0m0 1h0m0 4h0m0 1h0m0 4h0m0 1h0m1-3h0m0 2h0m0 3h0m0 2h0m0 1h0m0 2h0m0 2h0m0 2h0m0 1h0m0 2h0m0 1h0m0 1h0m0 1h0m0 2h0m1-3h0m0 7h0m0 6h0m0 1h0m0 1h0m0 3h0m1 4h0m0 2h0m0 1h0m0 3h0m0 3h0m0 4h0m1 4h0m0 6h0m0 7h0m0 2h0m0 1h0m0 3h0m1 1h0m0 3h0m1 16h0m0 3h0m0 1h0m0 3h0m0 1h0m0 3h0m0 6h0m1-4h0m0 7h0m0 5h0m0 2h0m1 12h0m1 5h0m0 4h0m0 9h0m3 18h0m0 6h0m2 9h0" stroke-opacity="0.55"/><path d="M534 221h0m1-14h0m2-35h0m0 4h0m1-33h0m0 14h0m0 1h0m0 5h0m1-30h0m0 5h0m1-22h0m0 7h0m0 1h0m1-31h0m0 2h0m0 2h0m0 1h0m0 1h0m0 1h0m0 3h0m0 1h0m0 1h0m0 3h0m1-31h0m0 3h0m0 1h0m0 1h0m0 2h0m0 1h0m0 3h0m0 1h0m0 2h0m0 1h0m1-28h0m0 3h0m0 1h0m0 3h0m0 2h0m0 2h0m0 1h0m1-20h0m0 1h0m0 1h0m0 1h0m0 2h0m0 1h0m1-16h0m4 4h0m1 3h0m0 6h0m1 1h0m0 1h0m0 6h0m0 1h0m1 4h0m0 2h0m0 4h0m0 1h0m0 1h0m0 1h0m0 1h0m0 1h0m0 1h0m1 1h0m0 1h0m0 3h0m0 1h0m0 3h0m0 3h0m0 1h0m0 1h0m0 2h0m1 5h0m0 2h0m0 1h0m0 2h0m0 1h0m1 11h0m0 8h0m0 1h0m1 16h0m1 17h0m0 7h0m0 3h0m1 8h0m1 29h0m2 24h0m1 19h0m0 7h0" stroke-opacity="0.65"/><path d="M542 79h0m0 7h0m1-21h0m0 1h0m0 3h0m0 1h0m0 2h0m0 2h0m1-20h0m0 1h0m0 5h0m0 3h0m1-16h0m0 1h0m0 1h0m0 1h0m0 1h0m0 1h0m0 1h0m1-11h0m0 1h0m0 1h0m0 1h0m0 1h0m1-4h0m1 0h0m0 1h0m0 1h0m1 0h0m0 1h0m0 1h0m0 1h0m0 1h0m0 1h0m1 2h0m0 1h0m0 2h0m0 1h0m0 1h0m0 1h0m0 1h0m1 4h0m0 1h0m0 2h0m0 1h0m0 3h0m1 4h0m0 3h0m0 1h0m1 14h0" stroke-opacity="0.72"/></g><g transform="scale(0.5)" stroke="#00ffff" stroke-width="1.4" stroke-linecap="round" fill="none"><path d="M524 342h0m3-1h0m1 0h0m1-1h0m3-1h0m1-2h0m1-1h0m1-2h0m1 0h0m1-5h0m0 3h0m0 1h0m1-3h0m1-1h0m1-5h0m0 1h0m0 2h0m1-1h0m0 1h0m1-8h0m0 1h0m0 4h0m1-7h0m0 1h0m0 5h0m1-8h0m0 1h0m1-8h0m1-3h0m0 6h0m1-11h0m0 1h0m0 1h0m0 1h0m0 1h0m1-11h0m0 4h0m0 5h0m1-14h0m0 2h0m0 2h0m0 1h0m0 1h0m0 3h0m0 2h0m1-21h0m0 2h0m0 2h0m0 3h0m0 1h0m0 2h0m0 1h0m0 3h0m1-22h0m0 2h0m0 4h0m0 2h0m0 2h0m0 1h0m0 1h0m0 4h0m1-20h0m0 1h0m0 1h0m0 7h0m0 1h0m0 2h0m1-16h0m0 1h0m0 3h0m0 4h0m0 2h0m1-23h0m0 4h0m0 2h0m0 4h0m0 2h0m1-18h0m0 2h0m0 1h0m0 2h0m0 1h0m0 2h0m0 3h0m0 1h0m1-19h0m0 4h0m0 4h0m0 2h0m1-23h0m0 4h0m0 3h0m0 2h0m0 1h0m0 2h0m0 1h0m0 4h0m1-26h0m0 1h0m0 1h0m0 2h0m0 3h0m0 4h0m0 3h0m1-21h0m0 3h0m0 8h0m0 1h0m0 2h0m1-30h0m0 5h0m0 2h0m0 8h0m0 3h0m0 2h0m0 1h0m1-31h0m0 13h0m0 1h0m0 1h0m0 3h0m0 1h0m1-25h0m0 1h0m0 6h0m0 10h0m1-26h0m1-2h0m0 2h0m0 1h0m0 3h0m1-27h0m0 2h0m0 1h0m0 8h0m0 3h0m1-24h0m0 1h0m0 1h0m0 9h0m0 2h0m1-23h0m0 7h0m0 2h0m0 1h0m0 1h0m0 1h0m1-21h0m0 10h0m0 1h0m0 1h0m1-26h0m0 2h0m0 12h0m1-20h0m1-11h0m0 8h0m1-15h0m2-6h0m1-7h0m1-6h0m2-13h0m0 4h0m7-1h0m1 10h0m2 5h0m0 9h0m1-3h0m0 1h0m0 9h0m2 16h0m0 1h0m1-2h0m0 10h0m1-1h0m0 9h0m1 0h0m0 1h0m0 12h0m1-4h0m0 8h0m0 3h0m0 2h0m1-2h0m0 1h0m0 12h0m0 3h0m0 1h0m1-10h0m0 4h0m0 9h0m0 2h0m0 2h0m0 1h0m0 1h0m1-4h0m0 1h0m0 1h0m0 12h0m0 1h0m1 1h0m0 2h0m0 5h0m0 3h0m0 1h0m1-8h0m0 5h0m0 1h0m0 2h0m0 2h0m0 7h0m1-7h0m0 3h0m0 1h0m0 2h0m0 3h0m0 4h0m0 1h0m0 2h0m1-3h0m0 1h0m0 12h0m1-1h0m0 11h0m0 3h0m0 2h0m1-12h0m0 5h0m0 2h0m0 2h0m0 1h0m0 8h0m0 2h0m1-5h0m0 2h0m0 5h0m0 4h0m0 5h0m1-8h0m0 1h0m0 5h0m0 5h0m0 1h0m0 1h0m1-4h0m0 3h0m0 4h0m0 1h0m0 2h0m0 1h0m0 1h0m0 1h0m1-2h0m0 3h0m0 2h0m0 1h0m0 5h0m1-7h0m0 2h0m0 6h0m0 6h0m0 2h0m0 4h0m1-13h0m0 3h0m0 2h0m0 1h0m0 6h0m0 1h0m0 1h0m1-5h0m0 1h0m0 9h0m1-5h0m0 3h0m0 5h0m0 2h0m0 3h0m1-7h0m0 3h0m0 1h0m0 4h0m0 2h0m0 1h0m1 0h0m0 1h0m0 4h0m1-4h0m0 1h0m0 2h0m0 2h0m0 4h0m1-2h0m0 5h0m1-1h0m0 3h0m0 3h0m1-1h0m0 6h0m1-2h0m0 5h0m1-4h0m0 3h0m0 2h0m0 1h0m1 1h0m0 1h0m1-1h0m0 1h0m0 2h0m1 1h0m1-1h0m0 1h0m0 2h0m1 1h0m0 1h0m2 1h0m0 2h0m3 1h0m3 3h0m3 1h0m1 0h0" stroke-opacity="0.20"/><path d="M540 329h0m1-6h0m1-2h0m2-9h0m0 2h0m1-3h0m0 1h0m0 2h0m2-9h0m1-6h0m2-15h0m2-7h0m1-17h0m0 7h0m0 2h0m1-15h0m0 3h0m0 3h0m0 3h0m1-19h0m0 3h0m0 3h0m1-12h0m0 1h0m0 6h0m0 2h0m0 4h0m1-23h0m0 1h0m0 2h0m0 6h0m1-14h0m0 3h0m0 1h0m0 2h0m1-17h0m0 4h0m1-17h0m0 2h0m0 2h0m0 4h0m0 1h0m1-22h0m0 3h0m0 1h0m1-13h0m0 1h0m0 1h0m0 1h0m0 7h0m1-22h0m0 4h0m0 6h0m0 1h0m1-19h0m1-13h0m0 6h0m0 2h0m0 4h0m1-18h0m0 2h0m0 3h0m0 2h0m1-24h0m0 1h0m1-10h0m0 10h0m1-21h0m0 8h0m0 1h0m0 2h0m0 1h0m0 2h0m1-12h0m0 1h0m1-8h0m1-21h0m1-6h0m0 9h0m1-16h0m3-15h0m6-5h0m2 10h0m1-1h0m2 13h0m2 11h0m0 2h0m1 7h0m0 1h0m0 6h0m1 1h0m0 3h0m0 4h0m1 10h0m0 4h0m0 2h0m1-5h0m0 3h0m0 2h0m1 9h0m0 5h0m1 4h0m0 1h0m0 2h0m0 3h0m0 4h0m1 1h0m0 2h0m0 1h0m0 1h0m0 2h0m1 7h0m0 4h0m1 4h0m0 3h0m0 4h0m0 3h0m1 8h0m0 1h0m0 2h0m0 1h0m1-3h0m1 15h0m0 1h0m0 1h0m0 4h0m0 2h0m1 3h0m0 1h0m0 3h0m0 2h0m0 1h0m1 0h0m0 2h0m0 3h0m0 2h0m0 1h0m0 3h0m1-4h0m0 10h0m0 2h0m1 0h0m0 1h0m0 2h0m0 3h0m1 3h0m0 2h0m0 2h0m0 3h0m1 1h0m0 2h0m0 9h0m1-5h0m0 4h0m0 1h0m0 1h0m1 7h0m0 1h0m1 6h0m0 2h0m1 4h0m1 5h0m0 2h0m1 1h0m1 10h0m1 2h0m0 2h0m0 3h0m3 6h0m2 7h0m2 5h0m1 2h0" stroke-opacity="0.28"/><path d="M533 338h0m4-7h0m7-18h0m7-38h0m0 2h0m1-7h0m0 1h0m0 2h0m1-9h0m0 1h0m1-7h0m1-16h0m1-1h0m0 1h0m1-4h0m1-19h0m0 1h0m0 2h0m1-11h0m0 2h0m1-13h0m0 2h0m0 2h0m1-17h0m0 5h0m1-9h0m0 1h0m1-17h0m0 5h0m0 1h0m0 1h0m0 3h0m1-22h0m0 1h0m0 2h0m0 3h0m0 1h0m1-15h0m0 2h0m0 2h0m1-14h0m0 5h0m1-18h0m0 1h0m0 1h0m0 1h0m0 1h0m0 1h0m0 2h0m1-18h0m0 6h0m1-16h0m0 3h0m0 1h0m0 1h0m1-15h0m0 3h0m0 4h0m0 2h0m1-16h0m0 1h0m1-9h0m0 6h0m0 1h0m1-10h0m1-12h0m0 6h0m2-17h0m11 4h0m0 1h0m1 12h0m1 4h0m0 3h0m1 4h0m0 5h0m0 1h0m1 6h0m1 2h0m0 6h0m0 1h0m0 3h0m1 0h0m0 2h0m0 1h0m0 1h0m1 6h0m0 3h0m0 2h0m0 3h0m1 0h0m0 1h0m0 2h0m0 1h0m0 6h0m0 2h0m1 1h0m0 2h0m0 1h0m0 3h0m1 2h0m0 9h0m1 6h0m0 5h0m0 1h0m0 1h0m1 1h0m0 4h0m0 4h0m0 3h0m1-1h0m1 11h0m0 2h0m0 1h0m0 3h0m0 4h0m1 5h0m0 1h0m0 3h0m1 2h0m0 1h0m0 6h0m2 14h0m0 2h0m0 1h0m1 6h0m0 6h0m1 4h0m1 8h0m0 2h0m1 4h0m0 5h0m1 7h0m0 1h0m1 3h0m1 10h0m1 3h0m1 7h0m17 41h0" stroke-opacity="0.34"/><path d="M551 279h0m8-65h0m2-21h0m1-12h0m1-11h0m0 1h0m1-11h0m1-12h0m0 5h0m1-17h0m0 3h0m0 2h0m2-26h0m0 1h0m0 1h0m0 1h0m0 2h0m0 1h0m1-17h0m0 7h0m1-16h0m0 3h0m0 3h0m1-16h0m0 4h0m0 1h0m0 2h0m0 1h0m0 1h0m1-17h0m0 2h0m0 1h0m0 1h0m0 1h0m0 1h0m1-13h0m0 1h0m0 5h0m1-12h0m0 1h0m0 1h0m0 1h0m0 1h0m1-8h0m0 1h0m0 1h0m1-8h0m1-3h0m2-9h0m6 7h0m1 4h0m0 2h0m0 1h0m1 5h0m1 2h0m0 4h0m0 1h0m1 3h0m0 3h0m1 2h0m0 3h0m0 2h0m0 1h0m0 1h0m0 1h0m1 2h0m0 2h0m0 1h0m0 1h0m0 3h0m1 3h0m0 1h0m0 1h0m0 4h0m1 1h0m0 7h0m0 2h0m1 4h0m0 2h0m0 2h0m0 1h0m1 6h0m0 3h0m1 10h0m0 2h0m1 7h0m0 5h0m1 2h0m0 6h0m1 11h0m1 8h0m1 11h0m0 2h0" stroke-opacity="0.40"/><path d="M569 105h0m1-8h0m0 2h0m1-11h0m2-16h0m0 1h0m0 1h0m2-17h0m0 1h0m0 1h0m1-6h0m0 2h0m0 1h0m1-8h0m0 1h0m0 1h0m1-5h0m0 1h0m0 1h0m1-4h0m0 1h0m1-2h0m2 0h0m1 1h0m0 1h0m1 1h0m0 1h0m0 1h0m1 1h0m0 2h0m0 1h0m1 1h0m0 2h0m1 4h0m0 1h0m0 1h0m0 2h0m1 3h0m0 1h0m1 4h0m0 2h0m0 3h0m1 3h0m1 9h0" stroke-opacity="0.45"/></g><path d="M377.5 20.6H455.6" stroke="#74ff64" stroke-width="1.25"/><g transform="scale(0.5)" stroke="#00ff00" stroke-width="1.4" stroke-linecap="round" fill="none"><path d="M483 339h0m22-4h0m3-1h0m2-1h0m4-2h0m2 2h0m1-2h0m1 2h0m6-4h0m0 1h0m1-2h0m1 0h0m0 1h0m2-2h0m2 0h0m2-1h0m3 0h0m2-1h0m0 1h0m1-2h0m3-3h0m3 1h0m3-5h0m0 2h0m2-2h0m1 2h0m2-4h0m1 1h0m1-4h0m4 1h0m1-4h0m6-4h0m1-2h0m0 1h0m0 2h0m1-4h0m0 1h0m1-1h0m0 1h0m1-1h0m0 2h0m1-5h0m0 2h0m1 3h0m2-5h0m1-2h0m0 2h0m1-2h0m0 2h0m4-6h0m0 2h0m0 1h0m0 1h0m1-3h0m1-4h0m1-3h0m0 2h0m0 1h0m1 2h0m0 1h0m1-6h0m1 1h0m0 2h0m2-7h0m0 1h0m2 2h0m1-3h0m1-3h0m2-5h0m0 2h0m0 1h0m0 2h0m1-4h0m1-5h0m0 6h0m0 4h0m1-10h0m0 1h0m0 2h0m0 2h0m1-5h0m0 1h0m0 2h0m1-3h0m0 1h0m0 2h0m1-7h0m0 4h0m1-3h0m1 0h0m1 0h0m1-5h0m0 4h0m1-6h0m0 1h0m0 2h0m0 2h0m1-5h0m1 3h0m2-11h0m0 2h0m0 3h0m1-3h0m1-1h0m1-1h0m0 3h0m1-7h0m0 2h0m0 5h0m1-7h0m1-2h0m0 1h0m0 2h0m1-8h0m0 4h0m0 1h0m0 1h0m1-8h0m1 5h0m0 1h0m1-6h0m1 0h0m0 2h0m0 1h0m1-8h0m0 1h0m0 2h0m0 4h0m1-5h0m0 2h0m1-4h0m0 1h0m0 2h0m1-4h0m0 1h0m0 2h0m1-7h0m0 5h0m0 2h0m1-10h0m0 2h0m0 1h0m0 1h0m0 1h0m0 1h0m1-7h0m1 3h0m0 2h0m1-6h0m0 1h0m1-8h0m0 1h0m0 1h0m0 1h0m0 2h0m0 2h0m0 2h0m1-8h0m0 3h0m1-3h0m0 1h0m0 4h0m1-6h0m0 2h0m1-3h0m0 1h0m1-8h0m0 4h0m0 1h0m0 1h0m1-7h0m0 1h0m0 2h0m0 3h0m0 1h0m1-2h0m1-7h0m0 1h0m0 1h0m1-3h0m1-5h0m0 3h0m0 5h0m1-8h0m0 1h0m0 4h0m1-7h0m0 2h0m0 2h0m1-6h0m0 1h0m0 1h0m0 3h0m0 1h0m1-5h0m0 1h0m1-6h0m0 1h0m0 1h0m0 2h0m0 2h0m1-6h0m0 3h0m1-3h0m0 1h0m0 1h0m1-7h0m0 5h0m1-6h0m0 1h0m0 4h0m1-6h0m0 4h0m1-6h0m0 1h0m0 1h0m0 2h0m1-8h0m0 1h0m0 1h0m0 3h0m0 1h0m1-9h0m0 2h0m0 1h0m0 1h0m1-4h0m0 1h0m0 2h0m0 2h0m1-9h0m0 1h0m0 3h0m0 1h0m0 1h0m1-7h0m0 3h0m0 1h0m1-5h0m0 3h0m0 1h0m1-6h0m0 2h0m0 1h0m1-2h0m1 0h0m1-6h0m0 2h0m0 1h0m0 1h0m0 1h0m1-10h0m0 6h0m0 5h0m1-12h0m0 3h0m1-3h0m0 2h0m0 1h0m0 2h0m1-7h0m0 3h0m1-6h0m0 3h0m0 3h0m1-10h0m1 0h0m0 1h0m0 1h0m0 1h0m1-2h0m1-6h0m0 6h0m1-5h0m1-2h0m0 2h0m0 1h0m1-8h0m0 1h0m0 2h0m0 3h0m1-7h0m0 5h0m2-7h0m0 3h0m1-6h0m1-5h0m0 2h0m0 1h0m0 2h0m1-6h0m0 3h0m1-1h0m0 1h0m1-4h0m0 1h0m0 1h0m0 2h0m1-7h0m1 1h0m1-4h0m0 1h0m2-4h0m0 2h0m2-8h0m0 4h0m0 2h0m1-3h0m2-8h0m0 1h0m0 4h0m1-6h0m0 3h0m0 1h0m1-1h0m1-3h0m1-6h0m0 2h0m1-3h0m0 5h0m1-7h0m0 4h0m1-3h0m0 1h0m1-6h0m0 1h0m0 3h0m1-2h0m0 2h0m1-8h0m1 0h0m0 1h0m0 2h0m1-5h0m1-2h0m0 5h0m1-3h0m1-4h0m0 3h0m1-4h0m0 2h0m1-4h0m2-3h0m1 0h0m0 2h0m1-5h0m0 2h0m0 1h0m1-4h0m0 2h0m0 1h0m2-6h0m1-1h0m1 1h0m1-1h0m3-6h0m2-2h0m2 0h0m1-1h0m9-10h0m2-1h0m1-1h0m1 1h0m1-2h0m8-2h0m4-1h0" stroke-opacity="0.26"/><path d="M543 320h0m19-10h0m8-8h0m16-17h0m2-3h0m9-9h0m3-3h0m1-1h0m4-5h0m1-2h0m3-8h0m1 1h0m1 0h0m1-3h0m5-8h0m4-6h0m1-5h0m1 3h0m2-8h0m1-1h0m1 3h0m1-7h0m2-2h0m0 2h0m2-4h0m1-4h0m0 1h0m3-3h0m2-5h0m0 2h0m1-5h0m0 1h0m0 1h0m1-4h0m3-6h0m4-6h0m3-9h0m4-6h0m1-2h0m1-4h0m0 6h0m1-6h0m1-3h0m1 0h0m2-4h0m1-3h0m0 2h0m1-3h0m1-4h0m0 2h0m1-2h0m1-4h0m0 4h0m3-8h0m1-1h0m1-4h0m2-3h0m1 0h0m1-2h0m1-3h0m0 2h0m2-5h0m1-6h0m0 5h0m2-7h0m2-2h0m1-3h0m1-1h0m1-4h0m0 1h0m0 2h0m2-8h0m1 1h0m2-3h0m1-4h0m2-3h0m1 2h0m2-7h0m3-2h0m2-6h0m1-2h0m0 2h0m0 1h0m2-4h0m2-3h0m1-2h0m0 1h0m5-9h0m0 2h0m6-8h0m1-1h0m1-2h0m0 1h0m5-7h0m2 0h0m3-3h0m15-10h0" stroke-opacity="0.36"/><path d="M596 275h0m30-47h0m6-11h0m6-8h0m1-6h0m7-11h0m2-2h0m2-7h0m2-5h0m3-5h0m3-1h0m1-7h0m1-2h0m6-9h0m2-5h0m1-1h0m3-6h0m1-4h0m0 2h0m1-3h0m0 3h0m3-9h0m1-1h0m1-4h0m0 1h0m2-3h0m3-7h0m1-2h0m2-3h0m1-1h0m1-1h0m0 1h0m1-3h0m1-3h0m1-2h0m0 1h0m0 1h0m1-3h0m0 1h0m1-2h0m0 1h0m1-4h0m2-3h0m1-2h0m0 1h0m1-3h0m2-2h0m1-1h0m2-5h0m0 1h0m1-2h0m2-3h0m2-3h0m0 1h0m1-3h0m0 2h0m1-3h0m1-1h0m1-1h0m1-1h0m1-1h0m1-3h0m1-1h0m2-3h0m0 1h0m1-1h0m3-4h0m2-2h0m2-2h0m0 2h0m1-3h0m1-1h0m3-2h0m1-1h0m8-5h0m3 0h0" stroke-opacity="0.44"/><path d="M695 99h0m1-2h0m0 1h0m3-6h0m1-2h0m0 1h0m2-4h0m6-10h0m6-8h0m1-1h0m1-1h0m1-1h0m1-1h0m4-5h0m1-1h0m1-2h0m0 1h0m1-1h0m2-2h0m1-1h0m3-3h0m1 0h0m1-1h0m2-2h0m2-1h0m1-1h0m7-3h0m1 0h0m1-1h0" stroke-opacity="0.52"/><path d="M726 56h0m3-3h0m1-1h0m4-3h0m2-1h0m3-2h0m1-1h0m1 0h0m1-1h0m1 0h0m1-1h0m4-1h0m1 0h0m1 0h0" stroke-opacity="0.58"/></g></g><path d="M283.5 171.4v-1.8M283.5 20.6v1.8M326.5 171.4v-1.8M326.5 20.6v1.8M369.5 171.4v-1.8M369.5 20.6v1.8M412.5 171.4v-1.8M412.5 20.6v1.8M455.5 171.4v-1.8M455.5 20.6v1.8M240.5 171.4h1.8M455.6 171.4h-1.8M240.5 156.3h1.8M455.6 156.3h-1.8M240.5 141.2h1.8M455.6 141.2h-1.8M240.5 126.2h1.8M455.6 126.2h-1.8M240.5 111.1h1.8M455.6 111.1h-1.8M240.5 96.0h1.8M455.6 96.0h-1.8M240.5 80.9h1.8M455.6 80.9h-1.8M240.5 65.8h1.8M455.6 65.8h-1.8M240.5 50.8h1.8M455.6 50.8h-1.8M240.5 35.7h1.8M455.6 35.7h-1.8M240.5 20.6h1.8M455.6 20.6h-1.8" stroke="#a0a0a0" stroke-width="0.6" fill="none"/><g font-size="3.4" fill="#222" stroke="#222" stroke-width="0.07"><text x="283.5" y="176.0" text-anchor="middle">500</text><text x="326.5" y="176.0" text-anchor="middle">1000</text><text x="369.5" y="176.0" text-anchor="middle">1500</text><text x="412.5" y="176.0" text-anchor="middle">2000</text><text x="455.5" y="176.0" text-anchor="middle">2500</text><text x="239.2" y="173.3" text-anchor="end">0</text><text x="239.2" y="158.2" text-anchor="end">0.1</text><text x="239.2" y="143.1" text-anchor="end">0.2</text><text x="239.2" y="128.1" text-anchor="end">0.3</text><text x="239.2" y="113.0" text-anchor="end">0.4</text><text x="239.2" y="97.9" text-anchor="end">0.5</text><text x="239.2" y="82.8" text-anchor="end">0.6</text><text x="239.2" y="67.7" text-anchor="end">0.7</text><text x="239.2" y="52.7" text-anchor="end">0.8</text><text x="239.2" y="37.6" text-anchor="end">0.9</text><text x="239.2" y="22.5" text-anchor="end">1</text></g><text x="348.1" y="180.4" font-size="3.4" fill="#222" stroke="#222" stroke-width="0.07" text-anchor="middle" xml:space="preserve">Grain yield (C4)</text><text transform="translate(233.5 96.3) rotate(-90)" font-size="3.4" fill="#222" stroke="#222" stroke-width="0.11" text-anchor="middle">Certainty degree</text><rect x="438.0" y="149.1" width="15.6" height="19.8" fill="#fff" stroke="#a8a8a8" stroke-width="0.6"/><circle cx="443.5" cy="151.5" r="0.45" fill="#ff0000" fill-opacity="0.5"/><text x="448.3" y="152.6" font-size="3.2" fill="#444">I</text><circle cx="443.5" cy="155.3" r="0.45" fill="#ffff00" fill-opacity="0.5"/><text x="448.3" y="156.4" font-size="3.2" fill="#444">II</text><circle cx="443.5" cy="159.0" r="0.45" fill="#0000ff" fill-opacity="0.5"/><text x="448.3" y="160.1" font-size="3.2" fill="#444">III</text><circle cx="443.5" cy="162.8" r="0.45" fill="#00ffff" fill-opacity="0.5"/><text x="448.3" y="163.9" font-size="3.2" fill="#444">IV</text><circle cx="443.5" cy="166.6" r="0.45" fill="#00ff00" fill-opacity="0.5"/><text x="448.3" y="167.7" font-size="3.2" fill="#444">V</text><text x="232.3" y="18.6" font-size="23.8" font-weight="normal" fill="#000" stroke="#000" stroke-width="0.65">b</text></g><g><path d="M477.1 20.6V171.4M496.3 20.6V171.4M515.5 20.6V171.4M534.8 20.6V171.4M554.0 20.6V171.4M573.2 20.6V171.4M592.4 20.6V171.4M611.6 20.6V171.4M630.9 20.6V171.4M650.1 20.6V171.4M669.3 20.6V171.4M467.5 156.3H683.2M467.5 141.2H683.2M467.5 126.2H683.2M467.5 111.1H683.2M467.5 96.0H683.2M467.5 80.9H683.2M467.5 65.8H683.2M467.5 50.8H683.2M467.5 35.7H683.2" stroke="#ececec" stroke-width="0.6" fill="none"/><rect x="467.5" y="20.6" width="215.7" height="150.8" fill="none" stroke="#bcbcbc" stroke-width="1.0"/><g clip-path="url(#cpc)"><path d="M467.5 20.6H483.6" stroke="#ff4a4a" stroke-width="1.25"/><g transform="scale(0.5)" stroke="#ff0000" stroke-width="1.4" stroke-linecap="round" fill="none"><path d="M978 71h0m1 6h0m1-2h0m1 4h0m1 6h0m0 8h0m0 3h0m1 4h0m0 2h0m1-6h0m2 15h0m0 2h0m0 7h0m1-1h0m0 7h0m0 2h0m0 1h0m1 2h0m0 5h0m1-5h0m0 1h0m0 11h0m1-5h0m0 8h0m0 6h0m1-7h0m0 2h0m0 1h0m0 8h0m0 3h0m1 0h0m0 4h0m0 2h0m1-8h0m0 5h0m0 6h0m0 1h0m0 6h0m1-11h0m0 2h0m0 1h0m0 5h0m0 3h0m0 3h0m0 2h0m1-5h0m0 2h0m0 2h0m0 5h0m0 4h0m1-2h0m0 7h0m0 2h0m1-8h0m0 3h0m0 3h0m0 2h0m0 2h0m0 3h0m1-11h0m0 5h0m0 1h0m0 3h0m0 1h0m0 1h0m0 3h0m0 1h0m0 2h0m0 1h0m1-9h0m0 10h0m0 1h0m0 3h0m0 1h0m1-4h0m0 3h0m0 3h0m0 1h0m0 1h0m0 1h0m0 2h0m1-3h0m0 1h0m0 1h0m0 4h0m0 1h0m0 1h0m0 3h0m1-11h0m0 1h0m0 3h0m0 1h0m0 3h0m0 2h0m0 3h0m0 2h0m1-6h0m0 3h0m0 2h0m0 3h0m0 2h0m0 2h0m1-3h0m0 3h0m0 2h0m0 2h0m1-6h0m0 4h0m0 1h0m0 1h0m0 2h0m0 2h0m0 3h0m0 4h0m1-14h0m0 6h0m0 5h0m0 5h0m0 1h0m1-3h0m0 7h0m1-6h0m0 2h0m0 2h0m0 1h0m0 1h0m0 1h0m0 2h0m0 2h0m0 3h0m1-10h0m0 3h0m0 1h0m0 1h0m0 4h0m0 3h0m1-9h0m0 5h0m0 1h0m0 1h0m0 7h0m1-7h0m0 2h0m0 6h0m0 1h0m1-3h0m0 3h0m0 1h0m0 3h0m1-6h0m0 7h0m0 4h0m1-4h0m0 1h0m0 2h0m0 1h0m1-1h0m0 6h0m0 3h0m0 1h0m1-5h0m0 5h0m0 1h0m1-4h0m0 1h0m0 4h0m0 2h0m1-4h0m0 2h0m0 4h0m1-5h0m0 4h0m0 1h0m1-3h0m0 6h0m0 4h0m0 1h0m1-3h0m0 3h0m1-2h0m0 4h0m1 2h0m0 1h0m1-2h0m1 2h0m0 1h0m1 2h0m0 1h0m0 1h0m0 1h0m1 2h0m0 2h0m1-4h0m0 3h0m3 0h0m0 3h0m1 2h0m1 2h0m1 1h0m2-1h0m0 2h0m2 1h0m0 1h0m1 0h0m0 1h0m0 1h0m1-1h0m1 0h0m3 2h0m3 2h0m1 0h0m1 0h0m8 2h0" stroke-opacity="0.32"/><path d="M973 51h0m2 3h0m2 7h0m0 5h0m1 0h0m1 4h0m2 12h0m1 13h0m2 4h0m0 3h0m1 2h0m0 4h0m0 5h0m1 3h0m0 1h0m1 1h0m0 2h0m0 5h0m1-2h0m0 3h0m0 3h0m1 4h0m0 5h0m0 3h0m1-4h0m0 2h0m0 1h0m0 2h0m0 3h0m0 2h0m0 1h0m0 1h0m1 6h0m1-1h0m0 3h0m0 1h0m0 4h0m1-1h0m0 3h0m0 3h0m0 6h0m1 3h0m0 1h0m1 6h0m1-1h0m0 6h0m0 1h0m0 1h0m1-2h0m0 1h0m0 2h0m0 3h0m0 4h0m1-2h0m0 1h0m0 4h0m0 4h0m1-1h0m0 1h0m1 5h0m0 9h0m1-4h0m1 13h0m1 4h0m1 0h0m0 4h0m0 3h0m1 4h0m0 4h0m0 1h0m1-2h0m0 1h0m1 5h0m2 7h0m1 12h0m1 4h0m2 6h0m1 3h0m0 3h0m1 2h0m2 6h0m1 1h0m0 4h0m3 8h0m8 16h0m8 9h0m7 5h0m1 0h0" stroke-opacity="0.45"/><path d="M971 46h0m3 8h0m1 4h0m1-1h0m0 4h0m0 1h0m3 10h0m0 2h0m0 2h0m1 4h0m1 1h0m0 6h0m0 1h0m1 1h0m0 3h0m0 2h0m1 3h0m0 1h0m0 1h0m1 1h0m0 4h0m0 1h0m0 1h0m0 1h0m1-1h0m0 4h0m1 2h0m0 2h0m0 1h0m0 3h0m1 3h0m0 3h0m1 3h0m0 7h0m1 0h0m0 1h0m0 4h0m1 2h0m0 2h0m1 3h0m0 4h0m0 2h0m0 1h0m1 2h0m0 1h0m0 4h0m0 1h0m1 2h0m0 2h0m0 1h0m1 4h0m0 1h0m0 3h0m1 4h0m0 3h0m1 2h0m0 1h0m0 1h0m1 7h0m0 4h0m2 10h0m1 7h0m1 3h0m0 5h0m0 1h0m1 1h0m0 1h0m0 2h0m3 19h0m1 3h0m2 9h0m1 8h0m2 9h0m1 6h0m1 0h0m6 24h0m10 18h0m1 3h0m4 5h0" stroke-opacity="0.55"/><path d="M970 44h0m3 4h0m2 9h0m1 2h0m0 1h0m1 2h0m0 1h0m0 1h0m1 3h0m0 1h0m1 3h0m0 2h0m0 2h0m1 1h0m0 2h0m0 1h0m0 2h0m0 1h0m1 1h0m0 1h0m0 1h0m0 1h0m1 1h0m0 1h0m0 2h0m0 1h0m1 2h0m0 1h0m0 1h0m0 1h0m1 5h0m0 2h0m1 4h0m0 2h0m0 2h0m0 1h0m1 7h0m1 3h0m0 1h0m1 5h0m0 2h0m0 2h0m1 8h0m1 4h0m1 7h0m3 22h0m4 29h0m1 5h0m2 13h0" stroke-opacity="0.65"/><path d="M968 42h0m1 0h0m1 1h0m1 1h0m0 1h0m1 1h0m0 1h0m0 1h0m1 1h0m0 1h0m1 1h0m0 1h0m0 1h0m1 2h0m0 1h0m1 2h0m1 7h0m1 4h0m0 1h0m2 7h0" stroke-opacity="0.72"/></g><g transform="scale(0.5)" stroke="#ffff00" stroke-width="1.4" stroke-linecap="round" fill="none"><path d="M934 343h0m13-1h0m2-1h0m3 0h0m8-4h0m0 2h0m1-1h0m6-5h0m0 1h0m1-1h0m1 0h0m2-4h0m1-3h0m0 2h0m1-7h0m0 4h0m0 1h0m0 1h0m1-6h0m0 3h0m2-4h0m0 3h0m1-8h0m0 1h0m0 2h0m0 1h0m0 2h0m1-6h0m0 1h0m1-6h0m0 3h0m1-9h0m0 4h0m0 3h0m1-10h0m0 1h0m0 2h0m0 2h0m0 2h0m0 1h0m1-6h0m1-5h0m0 1h0m1-4h0m0 1h0m0 4h0m0 2h0m1-15h0m0 3h0m0 1h0m0 1h0m0 2h0m0 2h0m0 4h0m1-18h0m0 1h0m0 2h0m0 5h0m0 1h0m0 1h0m1-15h0m0 1h0m0 1h0m0 3h0m0 1h0m0 4h0m0 3h0m0 1h0m1-18h0m0 1h0m0 1h0m0 4h0m0 1h0m0 1h0m0 1h0m0 2h0m1-11h0m0 3h0m1-14h0m0 2h0m0 4h0m0 1h0m0 4h0m1-15h0m0 1h0m0 2h0m0 2h0m0 2h0m0 1h0m1-16h0m0 1h0m0 1h0m0 2h0m0 2h0m0 1h0m0 2h0m0 1h0m0 1h0m1-19h0m0 1h0m0 1h0m0 7h0m1-10h0m0 5h0m0 2h0m1-19h0m0 3h0m0 8h0m1-21h0m0 5h0m0 2h0m0 1h0m0 2h0m0 1h0m0 6h0m1-17h0m0 1h0m0 7h0m1-25h0m0 6h0m0 4h0m0 5h0m0 1h0m0 3h0m1-23h0m0 5h0m0 3h0m0 3h0m0 5h0m1-26h0m0 4h0m0 2h0m0 1h0m0 2h0m0 3h0m0 4h0m0 3h0m1-17h0m0 2h0m0 2h0m1-18h0m0 2h0m0 3h0m0 1h0m0 1h0m0 7h0m1-20h0m0 1h0m0 7h0m1-17h0m0 9h0m0 1h0m1-25h0m0 12h0m0 3h0m1-23h0m0 4h0m0 10h0m0 3h0m0 2h0m1-23h0m0 8h0m0 2h0m0 1h0m1-16h0m0 2h0m1-5h0m0 2h0m0 1h0m1-21h0m0 3h0m0 5h0m0 1h0m2-23h0m0 8h0m0 1h0m1-16h0m0 10h0m1-17h0m0 9h0m1-16h0m0 9h0m2-20h0m0 6h0m1-11h0m2-3h0m1-4h0m8-6h0m2 6h0m0 5h0m1 5h0m1-2h0m0 6h0m1 5h0m3 11h0m0 10h0m1-3h0m0 1h0m1 16h0m1 0h0m0 6h0m1-2h0m0 5h0m0 4h0m0 2h0m0 1h0m1-2h0m0 1h0m0 7h0m0 2h0m0 2h0m1-5h0m0 1h0m0 1h0m0 5h0m1 2h0m0 7h0m0 3h0m0 2h0m0 2h0m0 2h0m0 2h0m1-9h0m0 5h0m0 3h0m0 4h0m0 2h0m1-6h0m0 1h0m0 1h0m0 9h0m0 1h0m0 1h0m1-7h0m0 10h0m0 9h0m1-6h0m0 5h0m0 1h0m0 3h0m0 4h0m1-6h0m0 11h0m1-3h0m0 5h0m1 5h0m0 1h0m0 1h0m0 4h0m0 1h0m0 4h0m0 3h0m1-9h0m0 1h0m0 5h0m0 1h0m0 1h0m0 3h0m0 1h0m0 1h0m0 2h0m1-6h0m0 2h0m0 1h0m0 1h0m0 5h0m0 2h0m0 1h0m0 1h0m1-7h0m0 3h0m0 3h0m0 2h0m0 1h0m0 5h0m1-5h0m0 6h0m0 1h0m0 1h0m0 3h0m1-7h0m0 4h0m0 1h0m0 1h0m0 1h0m0 2h0m0 4h0m1-3h0m0 2h0m0 4h0m0 2h0m0 3h0m1-6h0m0 3h0m0 1h0m0 1h0m0 1h0m0 3h0m0 2h0m0 3h0m0 1h0m1-8h0m0 1h0m0 4h0m0 2h0m0 5h0m0 7h0m1-15h0m0 4h0m0 1h0m0 3h0m0 1h0m0 2h0m0 1h0m0 2h0m1-5h0m0 1h0m0 1h0m0 1h0m0 1h0m0 3h0m0 2h0m1-1h0m0 2h0m0 2h0m0 2h0m0 1h0m1-4h0m0 2h0m0 3h0m0 1h0m0 2h0m1-5h0m0 5h0m0 5h0m0 1h0m1-2h0m0 3h0m1 4h0m0 2h0m0 1h0m1-4h0m0 2h0m0 2h0m0 1h0m0 1h0m1 1h0m0 2h0m0 1h0m2 5h0m1 0h0m0 1h0m0 2h0m0 1h0m1 0h0m0 1h0m0 1h0m1 1h0m0 1h0m0 3h0m0 2h0m1-5h0m0 2h0m2 6h0m1-2h0m0 3h0m1 1h0m1 1h0m0 2h0m1 2h0m2-1h0m0 4h0m1-1h0m1 2h0m1-1h0m0 1h0m3 3h0m1-1h0m0 1h0m2 2h0m4 1h0m11 2h0" stroke-opacity="0.22"/><path d="M963 337h0m7-8h0m6-8h0m2-8h0m0 5h0m3-8h0m4-17h0m0 2h0m1-11h0m3-12h0m0 2h0m1-9h0m0 1h0m0 1h0m0 5h0m1-12h0m1-7h0m1-7h0m0 1h0m0 7h0m1-14h0m0 3h0m0 1h0m0 3h0m1-13h0m0 4h0m1-16h0m0 6h0m0 4h0m0 1h0m0 1h0m1-20h0m0 3h0m0 4h0m0 2h0m0 1h0m1-11h0m1-11h0m0 3h0m0 2h0m0 1h0m0 3h0m2-26h0m0 1h0m0 1h0m0 1h0m0 1h0m0 4h0m0 4h0m1-22h0m0 11h0m0 2h0m1-22h0m1-6h0m0 4h0m0 1h0m0 1h0m0 2h0m0 1h0m1-18h0m0 2h0m0 3h0m0 1h0m0 6h0m1-20h0m0 3h0m0 1h0m0 3h0m2-26h0m0 1h0m0 1h0m0 2h0m0 2h0m0 3h0m0 3h0m1-19h0m0 2h0m0 2h0m0 3h0m0 1h0m1-13h0m1-8h0m0 2h0m0 3h0m2-23h0m0 10h0m1-14h0m1-8h0m0 5h0m0 2h0m1-14h0m0 1h0m3-10h0m3-11h0m1-5h0m9 12h0m3 21h0m1 8h0m1-2h0m1 10h0m0 6h0m1-3h0m0 3h0m0 5h0m0 3h0m1-2h0m0 9h0m2 8h0m0 3h0m1 7h0m0 4h0m0 1h0m0 2h0m1-1h0m0 2h0m0 5h0m1 1h0m0 1h0m0 2h0m0 7h0m1 3h0m1 8h0m0 5h0m0 4h0m1-6h0m0 1h0m0 2h0m0 7h0m1-2h0m0 2h0m0 4h0m0 2h0m0 2h0m1-2h0m0 2h0m0 2h0m0 8h0m1 2h0m0 2h0m0 3h0m0 1h0m1 0h0m0 1h0m0 4h0m0 1h0m1 5h0m0 1h0m0 1h0m1 2h0m0 6h0m0 1h0m0 1h0m1 2h0m0 4h0m0 3h0m1-5h0m0 7h0m0 4h0m1-1h0m0 4h0m0 2h0m1 4h0m1 2h0m0 5h0m1 3h0m1 7h0m0 3h0m2 7h0m0 3h0m1 2h0m3 16h0m1 1h0m0 4h0m1-3h0m0 5h0m1-1h0m0 1h0m0 2h0m1 6h0m2 2h0m1 3h0m2 3h0m2 4h0m23 15h0" stroke-opacity="0.32"/><path d="M962 337h0m4-3h0m8-12h0m1-1h0m7-16h0m6-28h0m0 1h0m1-7h0m2-15h0m0 6h0m1-7h0m0 3h0m1-8h0m0 2h0m1-10h0m0 3h0m1-10h0m0 1h0m1-11h0m0 6h0m1-9h0m1 0h0m1-18h0m0 8h0m1-16h0m0 2h0m0 3h0m0 1h0m1-11h0m1-12h0m0 6h0m1-13h0m0 1h0m0 1h0m0 1h0m1-12h0m0 4h0m1-12h0m0 5h0m1-16h0m0 1h0m0 3h0m0 1h0m0 2h0m1-16h0m0 1h0m0 1h0m0 2h0m0 2h0m0 2h0m2-25h0m0 5h0m1-13h0m0 4h0m0 1h0m0 3h0m0 1h0m1-16h0m0 5h0m0 2h0m1-15h0m0 3h0m1-10h0m0 3h0m0 1h0m0 1h0m0 1h0m0 1h0m1-7h0m1-13h0m1-3h0m3-19h0m3-9h0m6 1h0m4 14h0m2 4h0m1 6h0m0 7h0m1-1h0m0 5h0m0 1h0m0 1h0m1 0h0m0 5h0m0 2h0m1 0h0m0 7h0m1 0h0m0 5h0m0 2h0m1 2h0m0 3h0m0 3h0m0 2h0m1-1h0m0 2h0m0 2h0m1 6h0m0 2h0m0 3h0m1 1h0m0 1h0m0 2h0m0 2h0m0 3h0m1 1h0m0 2h0m0 1h0m0 2h0m0 3h0m1 1h0m0 3h0m0 3h0m1 2h0m0 1h0m0 1h0m0 3h0m0 1h0m0 1h0m1 3h0m0 5h0m0 2h0m1 2h0m0 1h0m0 3h0m1 10h0m1 2h0m0 2h0m0 1h0m1 7h0m2 15h0m0 5h0m1 3h0m2 14h0m0 4h0m1 2h0m0 1h0m0 5h0m5 28h0m23 59h0" stroke-opacity="0.39"/><path d="M1000 199h0m2-15h0m2-22h0m1-8h0m2-16h0m0 2h0m1-13h0m1-7h0m0 2h0m1-13h0m1-4h0m0 2h0m1-11h0m0 1h0m0 2h0m0 1h0m0 1h0m1-12h0m1-8h0m0 3h0m0 1h0m0 1h0m0 1h0m1-11h0m0 4h0m1-11h0m0 1h0m0 3h0m0 1h0m1-11h0m0 1h0m0 1h0m1-6h0m0 1h0m0 1h0m0 2h0m1-9h0m0 2h0m1-3h0m7-10h0m2 4h0m2 7h0m1 1h0m0 2h0m1 2h0m0 2h0m0 2h0m1 1h0m0 1h0m0 3h0m1 2h0m0 2h0m0 1h0m0 1h0m1 3h0m0 1h0m1 5h0m0 2h0m0 1h0m0 2h0m1 2h0m0 2h0m0 1h0m0 1h0m0 1h0m1 3h0m0 1h0m0 1h0m1 6h0m0 1h0m0 2h0m1 2h0m0 4h0m0 3h0m1 3h0m0 4h0m4 33h0m1 5h0m0 5h0m2 12h0m0 1h0m0 4h0m1 8h0" stroke-opacity="0.45"/><path d="M1013 90h0m1-7h0m1-6h0m0 1h0m1-7h0m1-5h0m0 1h0m1-9h0m0 4h0m1-7h0m0 2h0m1-7h0m0 1h0m0 1h0m1-5h0m0 1h0m0 1h0m1-4h0m0 1h0m1-3h0m0 1h0m1-2h0m2 0h0m1 0h0m1 1h0m0 1h0m1 1h0m0 1h0m1 1h0m0 1h0m0 1h0m0 1h0m1 1h0m0 1h0m0 1h0m1 3h0m0 2h0m1 2h0m0 2h0m1 4h0m0 1h0m1 4h0m1 5h0m0 3h0m1 5h0" stroke-opacity="0.50"/></g><g transform="scale(0.5)" stroke="#0000ff" stroke-width="1.4" stroke-linecap="round" fill="none"><path d="M989 342h0m9-1h0m3 0h0m7-3h0m4-2h0m0 1h0m2-1h0m1 0h0m1-2h0m1 0h0m4-7h0m0 2h0m0 1h0m1-3h0m1-2h0m0 1h0m1-3h0m0 3h0m1-3h0m0 4h0m1-8h0m0 2h0m0 1h0m1-6h0m0 2h0m1-2h0m0 4h0m1-1h0m1-9h0m0 1h0m0 1h0m1-2h0m1-4h0m0 3h0m1-6h0m0 1h0m0 1h0m1-8h0m0 2h0m0 2h0m1-5h0m0 5h0m0 2h0m1-16h0m0 3h0m0 3h0m0 1h0m1-7h0m0 1h0m0 4h0m0 6h0m1-15h0m0 2h0m0 2h0m0 3h0m0 3h0m1-15h0m0 2h0m0 2h0m1-7h0m0 7h0m1-16h0m0 8h0m0 3h0m0 1h0m1-15h0m0 4h0m0 3h0m1-21h0m0 6h0m0 3h0m0 6h0m1-13h0m0 2h0m0 1h0m0 3h0m0 2h0m1-16h0m0 1h0m0 3h0m0 1h0m0 7h0m0 1h0m1-20h0m0 1h0m0 1h0m0 2h0m0 1h0m0 4h0m0 1h0m0 5h0m1-18h0m0 1h0m0 1h0m0 7h0m0 2h0m1-23h0m0 5h0m0 2h0m0 1h0m0 1h0m0 3h0m1-15h0m0 4h0m0 5h0m0 1h0m0 1h0m0 3h0m0 1h0m1-16h0m0 1h0m0 2h0m0 1h0m1-18h0m0 1h0m0 2h0m0 6h0m1-17h0m0 2h0m0 2h0m0 3h0m0 1h0m0 4h0m1-23h0m0 20h0m1-18h0m0 1h0m0 4h0m0 2h0m1-24h0m0 4h0m0 2h0m0 10h0m0 1h0m0 1h0m1-22h0m0 5h0m0 1h0m0 5h0m0 1h0m0 2h0m1-25h0m0 12h0m0 1h0m0 6h0m1-23h0m0 1h0m0 1h0m0 2h0m0 3h0m0 3h0m0 2h0m1-19h0m0 10h0m0 2h0m0 1h0m0 1h0m1-22h0m0 3h0m0 7h0m1-20h0m0 3h0m0 1h0m0 7h0m0 2h0m0 1h0m1-20h0m0 3h0m0 5h0m0 4h0m1-19h0m0 9h0m1-8h0m0 1h0m0 1h0m0 1h0m1-18h0m0 10h0m2-23h0m0 5h0m0 4h0m1-6h0m1-16h0m0 1h0m2-12h0m0 1h0m0 8h0m1-6h0m14-14h0m2 7h0m2 17h0m2 3h0m1 7h0m2 13h0m0 1h0m1 17h0m0 1h0m1 2h0m1 2h0m0 2h0m0 6h0m0 1h0m0 2h0m1 9h0m0 4h0m1-9h0m0 4h0m0 2h0m0 1h0m0 2h0m1-2h0m0 3h0m0 8h0m0 1h0m1 0h0m0 6h0m0 3h0m1-5h0m0 2h0m0 3h0m0 2h0m0 4h0m0 4h0m1-8h0m0 2h0m0 2h0m0 1h0m0 5h0m0 2h0m0 5h0m1-11h0m0 8h0m0 4h0m0 1h0m0 2h0m0 2h0m1-4h0m0 2h0m0 2h0m0 4h0m0 2h0m1-3h0m0 1h0m0 1h0m0 5h0m0 1h0m0 2h0m0 3h0m0 5h0m1-8h0m0 1h0m0 4h0m0 1h0m0 1h0m0 2h0m0 1h0m0 3h0m1-8h0m0 6h0m0 3h0m0 1h0m1-5h0m0 1h0m0 1h0m0 3h0m0 1h0m0 1h0m0 1h0m0 1h0m0 1h0m0 1h0m0 2h0m1-7h0m0 2h0m0 1h0m0 1h0m1 6h0m0 1h0m0 2h0m0 1h0m0 1h0m0 1h0m1 3h0m0 1h0m0 2h0m0 3h0m1-4h0m0 15h0m1-2h0m0 2h0m0 1h0m0 2h0m1-1h0m0 1h0m0 3h0m0 2h0m0 2h0m1-9h0m0 3h0m0 3h0m0 1h0m0 1h0m0 2h0m1-4h0m0 2h0m0 1h0m0 6h0m0 1h0m0 1h0m0 1h0m0 2h0m1-4h0m0 2h0m0 1h0m1 1h0m0 1h0m0 1h0m1 3h0m0 3h0m0 2h0m0 1h0m0 2h0m0 2h0m1-6h0m0 2h0m0 1h0m0 1h0m0 2h0m0 2h0m0 1h0m0 3h0m1-4h0m1-3h0m0 1h0m0 5h0m1-4h0m0 4h0m0 7h0m1-2h0m0 2h0m0 2h0m0 1h0m1 1h0m1 2h0m0 1h0m0 2h0m1-1h0m0 2h0m1-1h0m0 1h0m0 2h0m0 1h0m0 1h0m1-5h0m0 2h0m0 1h0m0 2h0m0 2h0m1 4h0m1-1h0m1 2h0m1-3h0m0 4h0m1 0h0m1 2h0m0 2h0m2 1h0m1 1h0m0 1h0m0 1h0m0 1h0m1-2h0m1 1h0m0 2h0m0 1h0m1-3h0m2 2h0m1 4h0m1-1h0m1 1h0m2 1h0m0 1h0m2 1h0m4 1h0m6 0h0" stroke-opacity="0.32"/><path d="M1002 341h0m21-14h0m2-3h0m3-5h0m1-4h0m0 1h0m0 1h0m2-10h0m1-3h0m3-10h0m0 6h0m1-9h0m0 4h0m1-5h0m0 1h0m4-22h0m0 2h0m1-5h0m1-9h0m0 4h0m0 2h0m1-8h0m0 7h0m1-17h0m0 4h0m0 1h0m0 1h0m1-12h0m0 5h0m0 3h0m1-10h0m0 4h0m0 2h0m1-16h0m1-4h0m0 3h0m1-11h0m0 1h0m1-5h0m0 2h0m0 2h0m1-15h0m0 1h0m0 5h0m0 4h0m1-20h0m0 2h0m0 1h0m0 3h0m0 2h0m0 1h0m0 1h0m1-19h0m0 1h0m1-8h0m0 5h0m0 1h0m0 2h0m0 1h0m0 1h0m1-18h0m0 3h0m0 4h0m0 5h0m1-15h0m0 5h0m0 1h0m1-16h0m0 3h0m0 3h0m1-18h0m0 1h0m0 2h0m0 8h0m0 2h0m1-11h0m1-13h0m0 2h0m0 5h0m1-16h0m0 7h0m1-12h0m1-10h0m0 1h0m0 5h0m1-15h0m0 5h0m1-10h0m0 2h0m0 4h0m0 1h0m1-15h0m0 4h0m0 3h0m0 2h0m1-15h0m0 3h0m0 3h0m0 1h0m1-5h0m1-7h0m2-16h0m0 6h0m2-13h0m1-3h0m12 12h0m2 3h0m1 11h0m1-1h0m1 6h0m1 7h0m0 7h0m1 7h0m1 3h0m0 5h0m1-2h0m0 5h0m0 4h0m1 5h0m0 1h0m1 5h0m0 1h0m1 3h0m0 1h0m0 5h0m0 3h0m1-4h0m0 3h0m0 8h0m1-1h0m0 3h0m0 4h0m0 1h0m1-1h0m1 8h0m0 7h0m1 0h0m0 5h0m0 1h0m0 2h0m1 2h0m0 1h0m0 4h0m1 1h0m0 9h0m1 4h0m1 5h0m0 3h0m0 2h0m0 4h0m1 4h0m0 4h0m1 6h0m2 3h0m0 3h0m1 5h0m0 7h0m1-1h0m0 1h0m0 2h0m0 2h0m1-2h0m0 2h0m0 1h0m0 1h0m0 1h0m0 2h0m1 7h0m0 3h0m1 5h0m1-1h0m0 2h0m1 10h0m1 2h0m0 2h0m2 8h0m1 2h0m1 0h0m0 1h0m0 1h0m1 7h0m1-2h0m7 21h0m1 3h0m1 1h0m6 10h0m1 0h0m2 2h0" stroke-opacity="0.45"/><path d="M1020 330h0m8-15h0m0 2h0m13-45h0m0 3h0m1-7h0m3-16h0m2-14h0m0 2h0m2-16h0m1-5h0m1-10h0m0 1h0m1-12h0m0 6h0m0 1h0m1-11h0m0 1h0m0 2h0m1-8h0m0 1h0m1-13h0m0 1h0m1-11h0m0 1h0m0 4h0m0 2h0m0 1h0m1-13h0m0 3h0m1-10h0m0 3h0m1-13h0m0 3h0m0 1h0m0 2h0m1-14h0m0 2h0m0 1h0m0 2h0m0 2h0m1-13h0m0 2h0m0 1h0m0 1h0m1-15h0m0 3h0m0 1h0m0 1h0m0 1h0m1-13h0m0 4h0m0 1h0m0 2h0m2-19h0m0 2h0m0 1h0m0 1h0m0 1h0m1-15h0m0 2h0m0 2h0m1-9h0m0 1h0m1-8h0m0 1h0m1-5h0m0 4h0m1-10h0m0 3h0m2-14h0m0 4h0m1-4h0m12-11h0m2 11h0m1 5h0m2 8h0m2 8h0m0 2h0m0 1h0m0 2h0m0 1h0m0 1h0m1 1h0m0 1h0m1 3h0m0 1h0m0 2h0m0 1h0m0 2h0m1 3h0m0 3h0m0 1h0m0 1h0m1 2h0m0 1h0m0 3h0m0 2h0m1-1h0m0 2h0m0 3h0m1 7h0m0 3h0m1-1h0m0 2h0m0 3h0m0 1h0m1 6h0m0 2h0m0 3h0m1 0h0m0 3h0m0 2h0m0 1h0m0 1h0m1 3h0m0 3h0m0 1h0m0 1h0m0 4h0m1 0h0m0 2h0m0 4h0m2 7h0m0 3h0m0 4h0m1-1h0m0 4h0m0 2h0m0 3h0m1 4h0m0 8h0m1-4h0m0 1h0m0 5h0m1 6h0m1 5h0m1 10h0m2 13h0m2 11h0m1 5h0m0 4h0m5 22h0m0 3h0m2 5h0m0 1h0m9 28h0" stroke-opacity="0.55"/><path d="M1035 298h0m19-113h0m0 3h0m3-24h0m2-17h0m0 3h0m3-21h0m1-14h0m0 4h0m1-11h0m0 1h0m0 1h0m0 1h0m1-11h0m1-3h0m1-8h0m0 3h0m1-10h0m1-8h0m0 2h0m0 1h0m0 1h0m1-10h0m0 2h0m0 1h0m1-7h0m0 3h0m0 1h0m1-8h0m0 1h0m1-7h0m1-2h0m0 2h0m2-7h0m8 0h0m1 3h0m1 4h0m1 0h0m0 3h0m1 1h0m0 3h0m1 2h0m0 2h0m0 1h0m0 1h0m1 1h0m0 1h0m0 1h0m0 2h0m1 1h0m0 1h0m0 1h0m0 2h0m0 1h0m0 1h0m1 4h0m1 3h0m0 3h0m0 1h0m0 1h0m1 2h0m0 3h0m0 2h0m1 1h0m0 2h0m0 5h0m1 0h0m0 3h0m0 3h0m1 3h0m0 1h0m0 5h0m1 2h0m1 10h0m0 1h0m3 21h0m1 6h0m1 12h0m2 16h0m1 7h0m0 1h0m2 12h0m5 37h0m3 17h0m3 14h0" stroke-opacity="0.65"/><path d="M1066 96h0m2-13h0m3-20h0m0 2h0m0 1h0m1-7h0m1-4h0m0 1h0m0 1h0m1-6h0m0 2h0m1-5h0m0 1h0m0 1h0m1-5h0m0 1h0m1-3h0m0 1h0m0 1h0m1-3h0m0 1h0m1-1h0m2 0h0m1 0h0m0 1h0m1 0h0m0 1h0m0 1h0m1 0h0m0 1h0m1 2h0m0 1h0m1 2h0m0 1h0m0 1h0m1 2h0m0 1h0m1 3h0m0 1h0m0 2h0m1 2h0m2 12h0m1 4h0" stroke-opacity="0.72"/></g><g transform="scale(0.5)" stroke="#00ffff" stroke-width="1.4" stroke-linecap="round" fill="none"><path d="M989 342h0m1 0h0m18 0h0m6-1h0m3 0h0m5 0h0m4-1h0m8-3h0m1 1h0m2-1h0m5-1h0m1 0h0m3-3h0m0 1h0m1-1h0m5-3h0m1 0h0m1-2h0m2-2h0m0 1h0m1-1h0m0 1h0m1-3h0m0 1h0m1-1h0m0 1h0m2-2h0m0 1h0m1-2h0m1-1h0m0 1h0m3-6h0m3 0h0m0 2h0m1-5h0m1-2h0m0 1h0m0 1h0m1-2h0m1-2h0m0 1h0m1-3h0m1-2h0m0 1h0m1-5h0m0 4h0m1-2h0m1-3h0m0 3h0m1-4h0m1-5h0m0 4h0m1-6h0m0 1h0m0 1h0m0 2h0m1-5h0m1-7h0m0 5h0m0 1h0m0 1h0m2-4h0m0 1h0m1-7h0m0 3h0m0 3h0m0 1h0m1-12h0m0 4h0m0 1h0m0 4h0m1-5h0m0 2h0m1-7h0m0 1h0m0 2h0m0 2h0m1-9h0m1 1h0m1-5h0m0 1h0m0 1h0m0 3h0m1-8h0m0 2h0m0 3h0m1-10h0m0 2h0m0 2h0m0 2h0m1-8h0m0 3h0m0 1h0m0 2h0m1-6h0m0 2h0m1-5h0m1-6h0m0 5h0m0 3h0m1-11h0m0 2h0m0 2h0m0 1h0m1-11h0m0 4h0m0 2h0m0 1h0m1-4h0m0 2h0m1-6h0m0 2h0m0 2h0m1-9h0m0 2h0m0 3h0m1-11h0m0 2h0m1-3h0m0 2h0m0 3h0m1-7h0m0 4h0m1-9h0m0 2h0m0 2h0m1-9h0m0 2h0m0 3h0m0 1h0m1-6h0m0 1h0m0 1h0m1-10h0m0 4h0m0 1h0m1-10h0m1-4h0m0 4h0m0 2h0m0 3h0m1-15h0m0 1h0m0 2h0m0 2h0m0 1h0m0 3h0m0 1h0m1-11h0m0 6h0m1-13h0m0 1h0m0 1h0m0 4h0m0 1h0m0 4h0m1-13h0m0 1h0m0 1h0m0 2h0m0 4h0m1-14h0m0 3h0m0 3h0m1-11h0m0 1h0m0 1h0m0 7h0m1-13h0m0 8h0m1-11h0m0 2h0m0 1h0m0 4h0m0 1h0m1-11h0m0 1h0m0 2h0m0 2h0m0 3h0m1-15h0m0 2h0m1-5h0m0 1h0m0 5h0m1-10h0m0 3h0m0 3h0m0 1h0m1-10h0m0 3h0m1-3h0m1-10h0m1-6h0m0 3h0m0 6h0m1-12h0m0 1h0m0 1h0m1-6h0m0 1h0m0 6h0m1-11h0m0 4h0m1-8h0m0 1h0m0 8h0m2-17h0m0 1h0m0 4h0m0 2h0m1-11h0m0 2h0m0 4h0m1-10h0m0 6h0m1-9h0m0 1h0m1-2h0m0 3h0m1-5h0m0 2h0m1-10h0m1-3h0m1-3h0m0 1h0m0 3h0m1-6h0m1-3h0m1 0h0m1-7h0m0 1h0m2-2h0m1-6h0m1-2h0m0 3h0m4-8h0m19 1h0m1-1h0m0 3h0m1-1h0m1 2h0m10 27h0m1 4h0m0 5h0m1-1h0m0 4h0m2 5h0m0 3h0m1 4h0m1 0h0m0 4h0m1-3h0m0 6h0m1-1h0m0 5h0m0 2h0m1 3h0m0 1h0m1-4h0m0 1h0m0 1h0m1 6h0m1 6h0m0 2h0m1-1h0m0 3h0m0 1h0m1 3h0m0 3h0m1-3h0m0 1h0m0 3h0m1-2h0m0 11h0m1-5h0m0 1h0m0 1h0m0 2h0m1 3h0m0 6h0m1 0h0m0 1h0m0 2h0m1-3h0m0 1h0m0 4h0m0 5h0m1-6h0m0 1h0m0 1h0m0 3h0m0 2h0m1-1h0m1 1h0m0 3h0m0 2h0m0 1h0m0 2h0m1-1h0m0 1h0m0 1h0m0 3h0m1 5h0m0 1h0m1-3h0m0 3h0m0 2h0m0 4h0m1-5h0m0 3h0m0 3h0m0 1h0m1-3h0m0 7h0m0 1h0m1 0h0m0 1h0m0 4h0m1-4h0m0 5h0m0 1h0m1-5h0m0 2h0m0 2h0m0 3h0m0 1h0m1-3h0m0 2h0m0 1h0m0 1h0m0 5h0m1 0h0m0 1h0m0 2h0m0 2h0m1-6h0m0 1h0m0 1h0m0 2h0m0 3h0m1-4h0m0 1h0m0 5h0m0 2h0m0 1h0m1-4h0m0 1h0m0 1h0m0 3h0m0 1h0m0 2h0m1-4h0m0 2h0m0 5h0m1-4h0m0 1h0m1 4h0m0 2h0m0 5h0m1-6h0m0 1h0m0 4h0m0 1h0m1 1h0m0 5h0m1-7h0m0 4h0m1 8h0m0 2h0m1-5h0m0 1h0m1 1h0m0 2h0m0 2h0m1-3h0m0 8h0m1-1h0m0 4h0m1 3h0m0 1h0m1-5h0m0 3h0m0 1h0m0 1h0m0 1h0m0 1h0m0 2h0m1-6h0m0 1h0m0 1h0m0 1h0m0 1h0m0 4h0m1-3h0m0 2h0m1 0h0m0 1h0m0 1h0m1 0h0m0 2h0m0 2h0m0 2h0m1 1h0m0 1h0m1-3h0m0 1h0m0 1h0m0 1h0m0 1h0m1 0h0m0 1h0m1-3h0m0 1h0m0 1h0m0 3h0m1 0h0m0 2h0m0 4h0m1-3h0m1 2h0m1 0h0m0 1h0m0 4h0m0 1h0m1-3h0m0 2h0m1-1h0m0 1h0m0 1h0m0 2h0m1 0h0m2 2h0m1 3h0m0 1h0m2 1h0m0 1h0m1 2h0m1-1h0m0 1h0m0 2h0m1-1h0m0 4h0m1-2h0m0 2h0m1-1h0m2 2h0m1 3h0m2-1h0m0 1h0m1 1h0m1 2h0m1 0h0m4 3h0m0 1h0m1 1h0m1 0h0m2 1h0m2 2h0m1 0h0m1 0h0m2 2h0m5 1h0m5 2h0m3 1h0m4 0h0m1 1h0m18 2h0m1 0h0" stroke-opacity="0.20"/><path d="M1004 342h0m61-22h0m9-14h0m2-4h0m0 2h0m5-7h0m5-12h0m1-3h0m1-4h0m0 3h0m3-7h0m4-12h0m2-10h0m3-10h0m0 2h0m1-5h0m1-2h0m1-7h0m0 4h0m1-6h0m0 2h0m0 1h0m0 3h0m1-9h0m0 2h0m0 2h0m1-7h0m0 1h0m1-8h0m0 5h0m1-7h0m0 4h0m1-5h0m1-4h0m0 1h0m2-10h0m0 3h0m1-7h0m0 4h0m1-7h0m0 1h0m1-1h0m1-6h0m1-10h0m2-9h0m0 3h0m1-3h0m0 2h0m1-5h0m1-8h0m0 3h0m0 2h0m0 1h0m1-13h0m0 5h0m0 3h0m0 2h0m3-18h0m1-6h0m0 1h0m2-8h0m0 3h0m1-9h0m0 3h0m1-8h0m0 2h0m0 4h0m1-9h0m0 4h0m1-10h0m0 2h0m0 4h0m4-19h0m0 1h0m1-3h0m3-13h0m0 4h0m3-14h0m1-3h0m2-2h0m6-16h0m19 0h0m5 10h0m2 2h0m2 5h0m0 2h0m0 1h0m4 12h0m0 2h0m1 3h0m1-2h0m1 4h0m1 7h0m1 5h0m1 4h0m1-1h0m1 8h0m1-2h0m2 14h0m0 1h0m0 1h0m1-1h0m0 5h0m0 1h0m1 3h0m1-2h0m0 4h0m2 7h0m0 3h0m2 11h0m1-3h0m0 3h0m0 1h0m0 2h0m1-2h0m0 2h0m1 6h0m0 2h0m1 2h0m1 7h0m0 1h0m2 1h0m0 4h0m0 1h0m0 5h0m1-1h0m1-1h0m0 3h0m0 2h0m0 2h0m1 0h0m1 4h0m0 1h0m0 1h0m1 2h0m1 1h0m0 4h0m1 2h0m1 7h0m1-1h0m1 7h0m0 3h0m1 1h0m0 3h0m1 2h0m1 1h0m0 2h0m0 1h0m1 2h0m1 6h0m1 0h0m1 5h0m0 1h0m1-1h0m0 3h0m2 5h0m0 1h0m1 5h0m1 1h0m2 5h0m1 1h0m2 11h0m1 1h0m2 3h0m3 5h0m3 9h0m1 1h0m2 4h0m3 4h0m0 1h0m2 2h0m0 1h0m5 7h0m2 1h0m1 2h0m1 1h0" stroke-opacity="0.28"/><path d="M1082 294h0m3-9h0m6-15h0m5-12h0m5-15h0m7-28h0m1-4h0m2-8h0m0 1h0m0 1h0m0 1h0m4-20h0m0 1h0m1-3h0m1-5h0m0 1h0m0 2h0m1-8h0m0 1h0m0 1h0m0 1h0m1-8h0m0 3h0m0 1h0m2-14h0m0 3h0m1-5h0m0 1h0m1-6h0m0 1h0m0 2h0m1-8h0m0 3h0m0 1h0m1-6h0m1-5h0m1-6h0m0 4h0m1-7h0m0 1h0m0 2h0m0 1h0m1-8h0m0 2h0m1-6h0m0 1h0m1-6h0m2-9h0m0 3h0m0 1h0m1-7h0m0 4h0m1-9h0m0 2h0m1-5h0m0 1h0m0 1h0m1-2h0m1-8h0m1-3h0m1-1h0m0 1h0m3-10h0m1-3h0m1-6h0m0 2h0m1-2h0m1-6h0m1-2h0m3-7h0m1-2h0m3-3h0m3-5h0m1-1h0m9 2h0m7 10h0m4 10h0m1 1h0m0 2h0m1 3h0m1 3h0m1 1h0m1 5h0m1 0h0m0 1h0m1 2h0m0 2h0m1 2h0m0 1h0m0 1h0m2 4h0m0 4h0m2 4h0m1 4h0m1 3h0m0 1h0m0 1h0m1 1h0m0 2h0m0 1h0m0 1h0m0 1h0m1 1h0m0 3h0m0 1h0m1 1h0m0 1h0m1 5h0m0 1h0m1 0h0m0 1h0m0 1h0m1 4h0m1 2h0m0 2h0m0 1h0m0 2h0m2 4h0m0 1h0m0 1h0m0 1h0m1 5h0m2 7h0m1 4h0m1 4h0m0 3h0m1 2h0m0 1h0m0 1h0m1 1h0m2 10h0m4 16h0m1 5h0m0 1h0m1 3h0m2 7h0m2 6h0m1 5h0m2 8h0m2 6h0m3 9h0m0 2h0m2 2h0m6 22h0m2 3h0m11 23h0m6 8h0m10 13h0" stroke-opacity="0.34"/><path d="M1119 168h0m0 3h0m6-27h0m1-2h0m1-5h0m1-4h0m1-3h0m2-9h0m1-6h0m0 1h0m0 1h0m1-6h0m1-4h0m1-3h0m1-3h0m1-4h0m1-6h0m0 3h0m1-6h0m0 1h0m1-5h0m0 1h0m1-3h0m0 1h0m1-4h0m1-3h0m1-4h0m0 1h0m2-7h0m0 1h0m1-4h0m0 1h0m1-2h0m1-4h0m0 2h0m1-4h0m0 1h0m1-2h0m1-2h0m4-8h0m1-1h0m12 1h0m1 1h0m2 1h0m1 2h0m1 3h0m2 3h0m1 2h0m0 1h0m1 2h0m0 1h0m1 1h0m0 1h0m1 1h0m0 2h0m1 1h0m1 3h0m0 1h0m0 1h0m1 1h0m0 2h0m1 1h0m0 1h0m0 1h0m1 4h0m1 1h0m0 2h0m1 4h0m1 1h0m0 1h0m0 1h0m1 1h0m0 1h0m1 3h0m0 2h0m1 4h0m1 3h0m0 1h0m1 3h0m2 7h0m0 1h0m2 7h0m1 6h0m4 18h0m2 5h0m10 42h0m5 20h0m9 33h0" stroke-opacity="0.40"/><path d="M1134 108h0m8-30h0m1-3h0m2-6h0m3-8h0m1-2h0m2-5h0m1-2h0m1-2h0m0 1h0m1-3h0m0 1h0m1-2h0m1-1h0m1-1h0m1-1h0m1-1h0m1-1h0m1 0h0m4 0h0m1 0h0m1 0h0m0 1h0m1 0h0m1 1h0m1 1h0m1 1h0m0 1h0m1 1h0m1 2h0m1 1h0m1 2h0m1 3h0m2 3h0m13 42h0m0 1h0" stroke-opacity="0.45"/></g><path d="M645.0 20.6H683.2" stroke="#74ff64" stroke-width="1.25"/><g transform="scale(0.5)" stroke="#00ff00" stroke-width="1.4" stroke-linecap="round" fill="none"><path d="M1097 339h0m18-3h0m5-1h0m4-1h0m2-1h0m2 0h0m4-2h0m0 1h0m1-2h0m4-1h0m0 1h0m2-3h0m0 1h0m1-1h0m1 0h0m1 0h0m2-3h0m2-1h0m3-1h0m1-4h0m2 1h0m3-3h0m0 1h0m2-3h0m1-1h0m0 2h0m1-2h0m0 2h0m1-2h0m1-3h0m1 3h0m2-4h0m0 1h0m1-3h0m1-1h0m1-1h0m1-4h0m0 2h0m0 1h0m1-4h0m1 1h0m0 3h0m1-9h0m0 2h0m0 2h0m1-4h0m0 5h0m1-3h0m1-1h0m2-6h0m0 2h0m1-3h0m0 1h0m0 3h0m1-5h0m0 2h0m0 4h0m1-8h0m0 4h0m1-8h0m1 0h0m0 2h0m0 1h0m1-3h0m1-3h0m0 2h0m1-7h0m0 4h0m0 1h0m0 1h0m0 1h0m1-5h0m0 1h0m0 1h0m0 1h0m1-8h0m0 4h0m0 1h0m0 2h0m1-7h0m0 1h0m2-2h0m0 1h0m0 1h0m1-6h0m0 3h0m0 4h0m1-9h0m1-1h0m0 3h0m1-5h0m0 4h0m1-6h0m0 3h0m1-5h0m2-6h0m0 2h0m0 1h0m1-6h0m0 7h0m1-5h0m1-8h0m0 1h0m0 2h0m0 4h0m0 3h0m1-6h0m1-6h0m0 1h0m1-4h0m0 3h0m1-4h0m0 3h0m1-8h0m0 2h0m1-4h0m1-1h0m0 3h0m1-8h0m0 2h0m0 5h0m1-5h0m0 2h0m1-7h0m0 1h0m0 4h0m1-9h0m0 3h0m1-6h0m0 3h0m0 1h0m0 1h0m1-8h0m0 1h0m0 1h0m0 5h0m1-8h0m1-2h0m0 1h0m0 2h0m1-4h0m0 2h0m0 1h0m1-6h0m1-6h0m1-1h0m0 2h0m0 1h0m0 1h0m1-11h0m0 2h0m0 2h0m0 2h0m1-8h0m0 1h0m0 3h0m0 1h0m0 1h0m1-10h0m0 2h0m1-2h0m0 4h0m0 1h0m0 1h0m1-10h0m0 2h0m0 4h0m0 1h0m1-10h0m0 2h0m0 1h0m1-7h0m0 2h0m0 1h0m0 2h0m0 1h0m1-8h0m0 5h0m0 2h0m0 2h0m1-11h0m0 2h0m0 1h0m0 1h0m0 4h0m1-9h0m0 3h0m1-9h0m0 1h0m0 2h0m0 4h0m1-10h0m0 3h0m0 2h0m1-6h0m0 2h0m0 2h0m1-10h0m0 1h0m0 1h0m0 5h0m1-7h0m0 3h0m1-7h0m0 5h0m0 1h0m0 1h0m1-8h0m0 2h0m1-8h0m0 4h0m1-2h0m0 2h0m1-10h0m0 4h0m1-8h0m0 4h0m0 2h0m0 1h0m0 1h0m1-9h0m0 2h0m0 1h0m0 1h0m0 1h0m1-11h0m0 3h0m0 2h0m0 3h0m1-10h0m0 3h0m0 1h0m1-7h0m1-2h0m0 2h0m0 3h0m1-8h0m0 2h0m1-5h0m0 5h0m0 1h0m1-8h0m1-2h0m0 2h0m1-6h0m0 1h0m1-4h0m1-2h0m0 3h0m1-1h0m1-7h0m1-3h0m0 4h0m1-6h0m0 3h0m1-2h0m2-6h0m0 1h0m1-6h0m4-5h0m2-4h0m3-9h0m0 3h0m1-5h0" stroke-opacity="0.26"/><path d="M1141 326h0m6-4h0m15-12h0m5-6h0m4-4h0m3-7h0m1 1h0m0 2h0m4-9h0m1 0h0m2-3h0m1-4h0m1 2h0m3-8h0m1-2h0m3-3h0m2-9h0m3-5h0m1-3h0m1-2h0m0 1h0m1-3h0m1-1h0m0 3h0m3-12h0m0 3h0m1-4h0m0 1h0m1-4h0m1-2h0m1-3h0m1 0h0m1-3h0m4-13h0m0 1h0m1-3h0m1-2h0m0 3h0m2-12h0m0 4h0m1-4h0m0 2h0m4-12h0m0 1h0m0 1h0m1-8h0m0 1h0m2-8h0m2-6h0m1-2h0m1-4h0m1 0h0m0 1h0m1-4h0m1-8h0m0 4h0m1-3h0m1-3h0m0 1h0m0 2h0m0 1h0m1-10h0m0 3h0m1-5h0m0 3h0m1-4h0m0 2h0m1-7h0m1-3h0m0 2h0m0 2h0m2-12h0m2-5h0m0 1h0m1-2h0m0 3h0m1-4h0m1-4h0m0 1h0m0 1h0m2-9h0m1-2h0m0 2h0m1-4h0m0 1h0m1-6h0m0 1h0m0 1h0m1-3h0m1-1h0m1-2h0m4-14h0m0 3h0m5-13h0m0 2h0m3-7h0m5-11h0" stroke-opacity="0.36"/><path d="M1161 312h0m12-16h0m19-32h0m3-6h0m2-3h0m5-11h0m4-13h0m2-7h0m3-6h0m0 3h0m1-6h0m4-12h0m0 4h0m2-6h0m1-6h0m1-3h0m1-3h0m0 1h0m1-4h0m0 1h0m2-5h0m0 1h0m2-7h0m1-3h0m2-7h0m2-6h0m1-5h0m0 1h0m1-2h0m1-4h0m1-2h0m0 2h0m1-7h0m0 2h0m2-8h0m0 2h0m0 1h0m0 1h0m1-5h0m1-3h0m0 2h0m1-7h0m0 2h0m1-3h0m0 2h0m1-3h0m0 1h0m1-8h0m0 3h0m1-5h0m2-6h0m0 2h0m0 1h0m1-4h0m0 2h0m1-7h0m1-1h0m2-6h0m1-3h0m1-1h0m0 1h0m1-5h0m0 1h0m0 1h0m1-4h0m1-2h0m3-7h0m1-4h0m0 2h0m1-2h0m2-6h0m0 2h0m1-4h0m0 2h0m1-4h0m1-2h0m0 2h0m1-4h0m3-3h0m2-5h0m2-3h0m2-2h0m8-5h0" stroke-opacity="0.44"/><path d="M1244 123h0m1-4h0m2-7h0m4-9h0m2-7h0m0 1h0m1-4h0m3-8h0m0 2h0m1-4h0m0 1h0m1-4h0m0 1h0m1-3h0m0 2h0m1-4h0m1-3h0m0 1h0m1-3h0m0 2h0m1-3h0m2-4h0m1-2h0m1-2h0m0 1h0m1-3h0m1-2h0m0 1h0m4-7h0m0 1h0m1-1h0m1-3h0m2-2h0m5-3h0" stroke-opacity="0.52"/><path d="M1256 89h0m9-21h0m4-7h0m2-4h0m1-2h0m0 1h0m1-2h0m2-3h0m1-1h0m1-1h0m1-1h0m1-2h0m0 1h0m1-2h0m0 1h0m1-1h0m1-1h0m1-1h0m1 0h0m1-1h0m1 0h0m1 0h0" stroke-opacity="0.58"/></g></g><path d="M477.1 171.4v-1.8M477.1 20.6v1.8M496.3 171.4v-1.8M496.3 20.6v1.8M515.5 171.4v-1.8M515.5 20.6v1.8M534.8 171.4v-1.8M534.8 20.6v1.8M554.0 171.4v-1.8M554.0 20.6v1.8M573.2 171.4v-1.8M573.2 20.6v1.8M592.4 171.4v-1.8M592.4 20.6v1.8M611.6 171.4v-1.8M611.6 20.6v1.8M630.9 171.4v-1.8M630.9 20.6v1.8M650.1 171.4v-1.8M650.1 20.6v1.8M669.3 171.4v-1.8M669.3 20.6v1.8M467.5 171.4h1.8M683.2 171.4h-1.8M467.5 156.3h1.8M683.2 156.3h-1.8M467.5 141.2h1.8M683.2 141.2h-1.8M467.5 126.2h1.8M683.2 126.2h-1.8M467.5 111.1h1.8M683.2 111.1h-1.8M467.5 96.0h1.8M683.2 96.0h-1.8M467.5 80.9h1.8M683.2 80.9h-1.8M467.5 65.8h1.8M683.2 65.8h-1.8M467.5 50.8h1.8M683.2 50.8h-1.8M467.5 35.7h1.8M683.2 35.7h-1.8M467.5 20.6h1.8M683.2 20.6h-1.8" stroke="#a0a0a0" stroke-width="0.6" fill="none"/><g font-size="3.4" fill="#222" stroke="#222" stroke-width="0.07"><text x="477.1" y="176.0" text-anchor="middle">6</text><text x="496.3" y="176.0" text-anchor="middle">8</text><text x="515.5" y="176.0" text-anchor="middle">10</text><text x="534.8" y="176.0" text-anchor="middle">12</text><text x="554.0" y="176.0" text-anchor="middle">14</text><text x="573.2" y="176.0" text-anchor="middle">16</text><text x="592.4" y="176.0" text-anchor="middle">18</text><text x="611.6" y="176.0" text-anchor="middle">20</text><text x="630.9" y="176.0" text-anchor="middle">22</text><text x="650.1" y="176.0" text-anchor="middle">24</text><text x="669.3" y="176.0" text-anchor="middle">26</text><text x="466.2" y="173.3" text-anchor="end">0</text><text x="466.2" y="158.2" text-anchor="end">0.1</text><text x="466.2" y="143.1" text-anchor="end">0.2</text><text x="466.2" y="128.1" text-anchor="end">0.3</text><text x="466.2" y="113.0" text-anchor="end">0.4</text><text x="466.2" y="97.9" text-anchor="end">0.5</text><text x="466.2" y="82.8" text-anchor="end">0.6</text><text x="466.2" y="67.7" text-anchor="end">0.7</text><text x="466.2" y="52.7" text-anchor="end">0.8</text><text x="466.2" y="37.6" text-anchor="end">0.9</text><text x="466.2" y="22.5" text-anchor="end">1</text></g><text x="575.4" y="180.4" font-size="3.4" fill="#222" stroke="#222" stroke-width="0.07" text-anchor="middle" xml:space="preserve">Aging population (C5)</text><text transform="translate(460.5 96.3) rotate(-90)" font-size="3.4" fill="#222" stroke="#222" stroke-width="0.11" text-anchor="middle">Certainty degree</text><rect x="665.6" y="149.1" width="15.6" height="19.8" fill="#fff" stroke="#a8a8a8" stroke-width="0.6"/><circle cx="671.1" cy="151.5" r="0.45" fill="#ff0000" fill-opacity="0.5"/><text x="675.9" y="152.6" font-size="3.2" fill="#444">V</text><circle cx="671.1" cy="155.3" r="0.45" fill="#ffff00" fill-opacity="0.5"/><text x="675.9" y="156.4" font-size="3.2" fill="#444">IV</text><circle cx="671.1" cy="159.0" r="0.45" fill="#0000ff" fill-opacity="0.5"/><text x="675.9" y="160.1" font-size="3.2" fill="#444">III</text><circle cx="671.1" cy="162.8" r="0.45" fill="#00ffff" fill-opacity="0.5"/><text x="675.9" y="163.9" font-size="3.2" fill="#444">II</text><circle cx="671.1" cy="166.6" r="0.45" fill="#00ff00" fill-opacity="0.5"/><text x="675.9" y="167.7" font-size="3.2" fill="#444">I</text><text x="458.2" y="15.7" font-size="23.5" font-weight="bold" fill="#000">c</text></g><g><path d="M26.0 217.3V368.3M47.3 217.3V368.3M68.6 217.3V368.3M89.9 217.3V368.3M111.2 217.3V368.3M132.5 217.3V368.3M153.8 217.3V368.3M175.1 217.3V368.3M196.4 217.3V368.3M217.7 217.3V368.3M10.5 353.2H226.2M10.5 338.1H226.2M10.5 323.0H226.2M10.5 307.9H226.2M10.5 292.8H226.2M10.5 277.7H226.2M10.5 262.6H226.2M10.5 247.5H226.2M10.5 232.4H226.2" stroke="#ececec" stroke-width="0.6" fill="none"/><rect x="10.5" y="217.3" width="215.7" height="151.0" fill="none" stroke="#bcbcbc" stroke-width="1.0"/><g clip-path="url(#cpd)"><path d="M10.5 217.3H25.5" stroke="#ff4a4a" stroke-width="1.25"/><g transform="scale(0.5)" stroke="#ff0000" stroke-width="1.7" stroke-linecap="round" fill="none"><path d="M51 435h0m0 2h0m0 2h0m0 12h0m0 23h0m0 32h0m1-68h0m0 1h0m0 1h0m0 1h0m0 10h0m0 5h0m0 7h0m0 4h0m0 23h0m1-50h0m0 2h0m0 2h0m0 3h0m0 9h0m0 1h0m0 6h0m0 1h0m0 25h0m0 23h0m0 57h0m0 98h0m1-232h0m0 5h0m0 3h0m0 1h0m0 2h0m0 2h0m0 4h0m0 4h0m0 4h0m0 3h0m0 24h0m0 7h0m1-58h0m0 2h0m0 4h0m0 3h0m0 3h0m0 6h0m0 3h0m0 6h0m0 8h0m0 2h0m0 13h0m1-48h0m0 9h0m0 3h0m0 1h0m0 1h0m0 3h0m0 1h0m0 2h0m0 2h0m0 6h0m0 1h0m0 1h0m0 1h0m0 7h0m0 6h0m0 2h0m0 4h0m0 12h0m0 70h0m1-131h0m0 8h0m0 1h0m0 11h0m0 4h0m0 9h0m0 1h0m0 12h0m0 4h0m0 29h0m0 159h0m1-229h0m0 1h0m0 6h0m0 2h0m0 3h0m0 3h0m0 1h0m0 6h0m0 1h0m0 1h0m0 1h0m0 1h0m0 3h0m0 8h0m0 7h0m0 13h0m0 2h0m0 2h0m0 8h0m0 4h0m0 4h0m0 11h0m0 76h0m0 5h0m1-175h0m0 1h0m0 2h0m0 2h0m0 2h0m0 4h0m0 2h0m0 9h0m0 2h0m0 1h0m0 1h0m0 2h0m0 2h0m0 1h0m0 2h0m0 18h0m0 8h0m0 5h0m0 6h0m0 11h0m0 14h0m0 32h0m0 79h0m1-205h0m0 2h0m0 2h0m0 1h0m0 1h0m0 4h0m0 3h0m0 1h0m0 1h0m0 2h0m0 1h0m0 2h0m0 4h0m0 3h0m0 1h0m0 1h0m0 1h0m0 1h0m0 6h0m0 7h0m0 2h0m0 10h0m0 4h0m0 8h0m0 11h0m0 5h0m0 13h0m0 60h0m0 42h0m1-196h0m0 1h0m0 4h0m0 2h0m0 5h0m0 1h0m0 6h0m0 6h0m0 7h0m0 1h0m0 9h0m0 1h0m0 3h0m0 5h0m0 4h0m0 3h0m0 11h0m0 8h0m0 29h0m0 24h0m1-123h0m0 5h0m0 3h0m0 2h0m0 1h0m0 1h0m0 2h0m0 1h0m0 1h0m0 6h0m0 3h0m0 8h0m0 4h0m0 5h0m0 2h0m0 1h0m0 1h0m0 3h0m0 4h0m0 6h0m0 14h0m0 32h0m0 10h0m0 84h0m1-202h0m0 7h0m0 2h0m0 1h0m0 1h0m0 5h0m0 1h0m0 2h0m0 4h0m0 3h0m0 2h0m0 7h0m0 6h0m0 5h0m0 6h0m0 4h0m0 10h0m0 1h0m0 1h0m0 14h0m0 13h0m0 3h0m0 1h0m1-90h0m0 3h0m0 3h0m0 9h0m0 3h0m0 1h0m0 11h0m0 4h0m0 4h0m0 5h0m0 4h0m0 4h0m0 2h0m0 11h0m0 6h0m0 16h0m0 7h0m0 18h0m0 9h0m0 23h0m1-143h0m0 2h0m0 5h0m0 1h0m0 6h0m0 4h0m0 6h0m0 1h0m0 1h0m0 7h0m0 15h0m0 4h0m0 3h0m0 31h0m0 9h0m0 8h0m1-90h0m0 11h0m0 1h0m0 5h0m0 1h0m0 6h0m0 9h0m0 1h0m0 13h0m0 2h0m0 5h0m0 1h0m0 6h0m0 1h0m0 14h0m0 8h0m0 12h0m0 7h0m0 66h0m0 32h0m1-209h0m0 7h0m0 17h0m0 3h0m0 1h0m0 1h0m0 3h0m0 5h0m0 2h0m0 5h0m0 3h0m0 10h0m0 2h0m0 6h0m0 2h0m0 6h0m0 3h0m0 1h0m0 39h0m0 3h0m0 1h0m0 27h0m0 6h0m0 5h0m1-142h0m0 7h0m0 5h0m0 11h0m0 3h0m0 7h0m0 2h0m0 12h0m0 4h0m0 5h0m0 4h0m0 7h0m0 22h0m0 7h0m0 6h0m0 15h0m0 48h0m0 52h0m1-224h0m0 19h0m0 10h0m0 1h0m0 2h0m0 3h0m0 1h0m0 10h0m0 18h0m0 1h0m0 19h0m0 16h0m0 3h0m0 7h0m0 16h0m0 16h0m0 2h0m0 8h0m0 6h0m0 24h0m0 25h0m1-192h0m0 1h0m0 3h0m0 10h0m0 11h0m0 2h0m0 14h0m0 2h0m0 1h0m0 1h0m0 14h0m0 2h0m0 6h0m0 14h0m0 2h0m0 1h0m0 14h0m0 13h0m0 8h0m0 1h0m0 9h0m1-134h0m0 8h0m0 19h0m0 2h0m0 4h0m0 3h0m0 2h0m0 1h0m0 9h0m0 13h0m0 3h0m0 7h0m0 11h0m0 2h0m0 27h0m0 2h0m0 4h0m0 17h0m0 10h0m0 2h0m0 23h0m1-142h0m0 10h0m0 7h0m0 6h0m0 8h0m0 22h0m0 12h0m0 7h0m0 3h0m0 6h0m0 26h0m0 17h0m0 2h0m1-152h0m0 59h0m0 5h0m0 1h0m0 6h0m0 21h0m0 17h0m0 12h0m0 4h0m0 3h0m0 6h0m0 9h0m0 3h0m0 16h0m0 19h0m0 21h0m1-181h0m0 6h0m0 2h0m0 17h0m0 4h0m0 3h0m0 15h0m0 1h0m0 35h0m0 2h0m0 14h0m0 54h0m0 26h0m1-176h0m0 51h0m0 20h0m0 5h0m0 17h0m0 24h0m0 9h0m0 32h0m0 25h0m1-173h0m0 4h0m0 7h0m0 4h0m0 3h0m0 18h0m0 9h0m0 21h0m0 5h0m0 7h0m0 1h0m0 3h0m0 26h0m0 3h0m0 14h0m1-157h0m0 66h0m0 19h0m0 14h0m0 7h0m0 16h0m0 1h0m0 11h0m0 21h0m0 35h0m0 7h0m0 5h0m1-157h0m0 2h0m0 12h0m0 6h0m0 5h0m0 5h0m0 2h0m0 2h0m0 27h0m0 9h0m0 8h0m0 9h0m0 8h0m0 18h0m0 7h0m0 9h0m0 2h0m0 33h0m1-148h0m0 32h0m0 2h0m0 5h0m0 15h0m0 4h0m0 9h0m0 11h0m0 8h0m0 12h0m0 32h0m0 2h0m0 31h0m1-196h0m0 36h0m0 2h0m0 15h0m0 7h0m0 2h0m0 21h0m0 12h0m0 5h0m0 28h0m0 23h0m0 21h0m0 21h0m1-178h0m0 28h0m0 3h0m0 17h0m0 13h0m0 32h0m0 18h0m0 2h0m1-62h0m0 7h0m0 26h0m0 8h0m0 22h0m0 54h0m1-147h0m0 36h0m0 4h0m0 30h0m0 15h0m0 6h0m0 4h0m1-52h0m0 3h0m0 7h0m0 4h0m0 21h0m0 42h0m1-62h0m0 29h0m0 1h0m0 4h0m0 20h0m0 21h0m0 6h0m0 19h0m1-126h0m0 3h0m0 17h0m0 18h0m0 11h0m0 3h0m0 57h0m0 6h0m0 21h0m1-104h0m0 21h0m0 9h0m0 6h0m0 46h0m1-114h0m0 2h0m0 44h0m0 11h0m0 24h0m1-65h0m0 34h0m0 14h0m0 9h0m0 6h0m0 24h0m0 4h0m0 5h0m0 12h0m0 10h0m1-109h0m0 32h0m0 26h0m0 48h0m1-93h0m0 27h0m0 66h0m1-138h0m0 37h0m0 84h0m1-87h0m0 6h0m0 12h0m0 2h0m0 41h0m0 55h0m1-101h0m0 17h0m0 3h0m0 44h0m0 6h0m0 12h0m1-114h0m0 103h0m0 2h0m0 25h0m1-85h0m0 23h0m0 15h0m0 39h0m0 4h0m0 10h0m1-95h0m0 6h0m0 29h0m0 29h0m1-114h0m0 28h0m0 36h0m0 40h0m0 25h0m1-1h0m0 12h0m1-54h0m0 43h0m0 18h0m1-36h0m0 12h0m0 27h0m1-3h0m1-83h0m0 51h0m0 7h0m1-29h0m0 45h0m1-21h0m1-13h0m0 22h0m1-71h0m0 24h0m1 34h0m0 1h0m0 5h0m0 3h0m0 13h0m1-31h0m0 27h0m1-16h0m1 15h0m2-30h0m0 14h0m2 11h0m0 4h0m0 8h0m0 4h0m1-15h0m2-5h0m2 19h0m2-9h0m1 10h0m1 3h0m1-23h0m3 29h0m2-11h0m3-10h0m4 21h0m8-9h0m12 10h0m10 2h0" stroke-opacity="0.62"/><path d="M54 439h0m0 6h0m0 2h0m0 17h0m1-17h0m0 12h0m1-19h0m0 3h0m0 1h0m0 1h0m0 3h0m0 6h0m0 20h0m0 29h0m1-62h0m0 5h0m0 3h0m0 1h0m0 1h0m0 1h0m0 6h0m0 29h0m0 35h0m1-69h0m0 5h0m0 1h0m0 7h0m0 1h0m0 9h0m1-16h0m0 2h0m0 15h0m1-23h0m0 8h0m0 21h0m1-28h0m0 2h0m0 7h0m0 12h0m1 18h0m1-36h0m0 111h0m1-89h0m0 3h0m0 22h0m1-34h0m0 22h0m1-14h0m0 2h0m0 35h0m1 42h0m1-58h0m0 21h0m0 8h0m1-22h0m0 9h0m1-35h0m0 36h0m1 28h0m0 19h0m1-61h0m2 37h0m1 2h0m1-3h0m2 68h0m1-8h0m4 12h0m0 15h0m3 31h0m3-56h0m12 62h0" stroke-opacity="0.75"/><path d="M51 436h0m2 2h0m0 3h0m1-5h0m0 5h0m1-2h0m0 1h0m1 1h0m0 1h0m0 7h0m1-9h0m0 3h0m0 1h0m1-1h0m0 1h0m0 2h0m0 8h0m1-4h0m1 27h0m1-25h0m0 8h0m1-1h0m0 18h0m1-5h0m6 22h0" stroke-opacity="0.82"/><path d="M52 436h0m0 1h0m1-2h0m0 2h0m0 2h0m1-2h0m0 1h0m1 3h0m0 2h0m0 1h0m1 2h0m1-1h0" stroke-opacity="0.86"/><path d="M52 435h0m1 1h0" stroke-opacity="0.90"/></g><g transform="scale(0.5)" stroke="#ffff00" stroke-width="1.7" stroke-linecap="round" fill="none"><path d="M26 727h0m3-10h0m2-12h0m0 17h0m1 6h0m0 1h0m1-1h0m1 1h0m3 7h0m1-6h0m3-19h0m1 13h0m1-16h0m3 5h0m0 17h0m1 0h0m1-35h0m0 13h0m0 2h0m0 10h0m1-99h0m1 54h0m1-40h0m0 90h0m0 3h0m1 0h0m1-83h0m0 34h0m0 42h0m1-69h0m0 70h0m1-23h0m0 27h0m0 2h0m1-11h0m1-66h0m0 50h0m0 30h0m1-126h0m0 58h0m0 38h0m0 29h0m1-97h0m0 28h0m0 7h0m0 3h0m0 30h0m0 12h0m1-71h0m0 46h0m1-23h0m0 15h0m0 25h0m0 18h0m1-113h0m0 65h0m0 49h0m1-132h0m0 17h0m0 69h0m0 26h0m0 9h0m1-66h0m0 2h0m0 2h0m0 33h0m0 10h0m0 27h0m1-92h0m0 62h0m1-48h0m0 8h0m0 32h0m0 36h0m1-146h0m0 24h0m0 4h0m0 58h0m1-61h0m0 41h0m0 17h0m0 4h0m0 11h0m1-24h0m0 5h0m0 2h0m0 1h0m0 21h0m0 8h0m1-115h0m0 22h0m0 22h0m0 15h0m0 11h0m0 26h0m0 20h0m1-120h0m0 9h0m0 37h0m0 1h0m0 23h0m0 8h0m0 23h0m0 9h0m0 8h0m0 30h0m1-151h0m0 8h0m0 35h0m0 36h0m0 8h0m0 7h0m0 13h0m0 20h0m1-72h0m0 2h0m0 29h0m0 2h0m0 13h0m0 48h0m1-151h0m0 36h0m0 22h0m0 31h0m0 2h0m0 11h0m0 12h0m0 12h0m0 26h0m1-145h0m0 27h0m0 14h0m0 9h0m0 12h0m0 4h0m0 11h0m0 1h0m0 17h0m0 15h0m0 43h0m1-123h0m0 17h0m0 7h0m0 14h0m0 31h0m0 1h0m0 19h0m0 48h0m1-229h0m0 9h0m0 68h0m0 2h0m0 17h0m0 8h0m0 33h0m0 33h0m0 16h0m1-159h0m0 35h0m0 3h0m0 2h0m0 2h0m0 7h0m0 19h0m0 21h0m0 15h0m0 3h0m0 6h0m0 1h0m0 1h0m0 28h0m1-122h0m0 7h0m0 1h0m0 11h0m0 28h0m0 16h0m0 22h0m0 6h0m0 7h0m0 48h0m1-177h0m0 18h0m0 2h0m0 11h0m0 1h0m0 10h0m0 8h0m0 11h0m0 6h0m0 2h0m0 16h0m0 4h0m0 24h0m0 4h0m0 5h0m0 33h0m0 8h0m0 14h0m0 2h0m1-149h0m0 3h0m0 5h0m0 10h0m0 10h0m0 3h0m0 9h0m0 8h0m0 30h0m0 16h0m0 6h0m0 6h0m1-154h0m0 33h0m0 4h0m0 1h0m0 9h0m0 16h0m0 1h0m0 8h0m0 5h0m0 12h0m0 10h0m0 29h0m0 17h0m0 18h0m0 27h0m1-202h0m0 14h0m0 14h0m0 3h0m0 7h0m0 4h0m0 5h0m0 2h0m0 8h0m0 8h0m0 2h0m0 1h0m0 11h0m0 2h0m0 5h0m0 8h0m0 11h0m0 13h0m0 106h0m1-206h0m0 10h0m0 1h0m0 8h0m0 3h0m0 6h0m0 3h0m0 10h0m0 3h0m0 19h0m0 10h0m0 9h0m0 14h0m0 7h0m0 64h0m1-190h0m0 2h0m0 28h0m0 6h0m0 29h0m0 6h0m0 13h0m0 49h0m0 25h0m0 21h0m0 33h0m1-194h0m0 11h0m0 4h0m0 8h0m0 5h0m0 1h0m0 3h0m0 15h0m0 8h0m0 50h0m1-141h0m0 4h0m0 6h0m0 15h0m0 3h0m0 5h0m0 13h0m0 15h0m0 9h0m0 13h0m0 9h0m0 7h0m0 6h0m0 1h0m0 8h0m0 7h0m0 19h0m0 1h0m0 15h0m0 81h0m1-246h0m0 25h0m0 8h0m0 4h0m0 1h0m0 8h0m0 3h0m0 3h0m0 1h0m0 7h0m0 8h0m0 12h0m0 2h0m0 1h0m0 2h0m0 1h0m0 1h0m0 3h0m0 3h0m0 60h0m0 38h0m0 37h0m1-215h0m0 9h0m0 2h0m0 12h0m0 1h0m0 1h0m0 4h0m0 4h0m0 2h0m0 6h0m0 1h0m0 12h0m0 31h0m0 33h0m0 6h0m0 9h0m0 44h0m0 7h0m1-181h0m0 16h0m0 4h0m0 2h0m0 3h0m0 1h0m0 2h0m0 12h0m0 3h0m0 3h0m0 2h0m0 5h0m0 4h0m0 10h0m0 1h0m0 1h0m0 2h0m0 4h0m0 1h0m0 11h0m0 6h0m0 34h0m0 77h0m1-209h0m0 3h0m0 3h0m0 5h0m0 6h0m0 2h0m0 3h0m0 7h0m0 4h0m0 1h0m0 1h0m0 2h0m0 1h0m0 1h0m0 2h0m0 2h0m0 4h0m0 2h0m0 15h0m0 2h0m0 1h0m0 16h0m0 9h0m0 3h0m0 29h0m0 8h0m0 5h0m0 35h0m0 24h0m0 31h0m0 29h0m1-270h0m0 2h0m0 7h0m0 5h0m0 1h0m0 1h0m0 4h0m0 1h0m0 4h0m0 1h0m0 2h0m0 4h0m0 3h0m0 1h0m0 2h0m0 2h0m0 1h0m0 1h0m0 1h0m0 11h0m0 6h0m0 8h0m0 4h0m0 2h0m0 8h0m0 5h0m0 10h0m0 41h0m0 6h0m0 85h0m0 32h0m1-266h0m0 2h0m0 3h0m0 7h0m0 2h0m0 6h0m0 6h0m0 1h0m0 1h0m0 1h0m0 1h0m0 1h0m0 7h0m0 5h0m0 2h0m0 1h0m0 2h0m0 3h0m0 1h0m0 3h0m0 1h0m0 1h0m0 23h0m0 2h0m0 19h0m0 45h0m0 30h0m0 13h0m0 34h0m0 25h0m1-237h0m0 1h0m0 2h0m0 1h0m0 13h0m0 2h0m0 1h0m0 12h0m0 2h0m0 11h0m0 1h0m0 2h0m0 15h0m0 9h0m0 3h0m0 6h0m0 8h0m0 4h0m0 1h0m0 5h0m0 18h0m0 33h0m0 53h0m1-209h0m0 7h0m0 1h0m0 13h0m0 8h0m0 1h0m0 5h0m0 1h0m0 3h0m0 1h0m0 36h0m0 5h0m0 55h0m1-145h0m0 1h0m0 1h0m0 2h0m0 4h0m0 1h0m0 1h0m0 1h0m0 1h0m0 1h0m0 5h0m0 2h0m0 3h0m0 1h0m0 5h0m0 1h0m0 1h0m0 1h0m0 2h0m0 6h0m0 1h0m0 8h0m0 2h0m0 7h0m0 3h0m0 2h0m0 2h0m0 5h0m0 8h0m0 4h0m0 2h0m0 2h0m0 15h0m0 2h0m0 9h0m0 29h0m0 14h0m0 3h0m1-162h0m0 6h0m0 4h0m0 7h0m0 1h0m0 2h0m0 6h0m0 2h0m0 2h0m0 5h0m0 1h0m0 3h0m0 1h0m0 1h0m0 2h0m0 4h0m0 3h0m0 2h0m0 6h0m0 2h0m0 14h0m0 18h0m0 38h0m0 130h0m1-258h0m0 1h0m0 2h0m0 1h0m0 10h0m0 5h0m0 2h0m0 6h0m0 3h0m0 2h0m0 2h0m0 7h0m0 12h0m0 7h0m0 3h0m0 5h0m0 12h0m0 39h0m0 19h0m0 4h0m0 5h0m0 1h0m0 81h0m1-234h0m0 5h0m0 7h0m0 4h0m0 3h0m0 2h0m0 1h0m0 8h0m0 19h0m0 4h0m0 2h0m0 3h0m0 8h0m0 5h0m1-68h0m0 2h0m0 2h0m0 1h0m0 2h0m0 2h0m0 3h0m0 3h0m0 3h0m0 2h0m0 4h0m0 1h0m0 4h0m0 7h0m0 3h0m0 1h0m0 7h0m0 16h0m0 5h0m0 5h0m0 15h0m0 1h0m0 43h0m1-133h0m0 1h0m0 3h0m0 2h0m0 8h0m0 2h0m0 3h0m0 5h0m0 1h0m0 4h0m0 9h0m0 69h0m0 1h0m0 75h0m0 55h0m1-240h0m0 5h0m0 3h0m0 1h0m0 1h0m0 1h0m0 2h0m0 10h0m0 17h0m0 38h0m1-77h0m0 4h0m0 15h0m0 6h0m0 1h0m0 12h0m0 103h0m0 32h0m1-174h0m0 1h0m0 7h0m0 11h0m0 2h0m0 62h0m1-84h0m0 34h0m0 33h0m0 52h0m1-116h0m0 6h0m0 5h0m0 2h0m0 2h0m0 4h0m0 8h0m0 19h0m0 19h0m0 12h0m0 58h0m0 59h0m1-193h0m0 6h0m0 9h0m1-23h0m0 3h0m0 5h0m0 2h0m0 1h0m0 1h0m0 3h0m0 4h0m0 1h0m0 11h0m0 13h0m0 10h0m0 31h0m0 6h0m0 11h0m0 9h0m1-110h0m0 1h0m0 1h0m0 6h0m0 3h0m0 5h0m0 1h0m0 7h0m0 1h0m0 4h0m0 3h0m0 26h0m0 13h0m0 8h0m0 4h0m0 4h0m0 43h0m0 68h0m0 56h0m1-253h0m0 9h0m0 5h0m0 4h0m0 2h0m0 8h0m0 1h0m0 1h0m0 1h0m0 2h0m0 9h0m0 2h0m0 7h0m0 5h0m0 5h0m0 9h0m0 8h0m0 2h0m0 12h0m0 11h0m0 99h0m1-200h0m0 1h0m0 8h0m0 2h0m0 7h0m0 3h0m0 1h0m0 5h0m0 2h0m0 1h0m0 2h0m0 4h0m0 6h0m0 3h0m0 11h0m0 1h0m0 6h0m0 16h0m0 19h0m1-92h0m0 5h0m0 2h0m0 3h0m0 2h0m0 1h0m0 1h0m0 6h0m0 1h0m0 1h0m0 2h0m0 1h0m0 4h0m0 9h0m0 4h0m0 10h0m0 3h0m0 16h0m0 17h0m0 22h0m0 2h0m0 50h0m0 28h0m1-192h0m0 1h0m0 1h0m0 4h0m0 5h0m0 2h0m0 1h0m0 1h0m0 3h0m0 3h0m0 4h0m0 4h0m0 1h0m0 14h0m0 4h0m0 1h0m0 1h0m0 4h0m0 2h0m0 2h0m0 2h0m0 3h0m0 7h0m0 9h0m0 26h0m0 8h0m1-105h0m0 1h0m0 2h0m0 2h0m0 2h0m0 1h0m0 1h0m0 1h0m0 4h0m0 4h0m0 3h0m0 6h0m0 1h0m0 5h0m0 3h0m0 1h0m0 7h0m0 24h0m0 2h0m0 2h0m0 33h0m0 14h0m1-129h0m0 4h0m0 10h0m0 1h0m0 2h0m0 2h0m0 3h0m0 1h0m0 7h0m0 3h0m0 7h0m0 1h0m0 1h0m0 7h0m0 2h0m0 1h0m0 8h0m0 1h0m0 2h0m0 4h0m0 6h0m0 8h0m0 1h0m0 3h0m0 23h0m0 4h0m0 15h0m0 7h0m0 1h0m0 3h0m0 1h0m0 69h0m1-189h0m0 5h0m0 1h0m0 4h0m0 10h0m0 4h0m0 3h0m0 1h0m0 3h0m0 11h0m0 9h0m0 7h0m0 5h0m0 6h0m0 15h0m0 7h0m0 1h0m0 12h0m0 19h0m0 52h0m1-184h0m0 6h0m0 1h0m0 1h0m0 3h0m0 1h0m0 2h0m0 3h0m0 5h0m0 1h0m0 1h0m0 2h0m0 4h0m0 6h0m0 6h0m0 2h0m0 7h0m0 2h0m0 1h0m0 6h0m0 5h0m0 11h0m0 5h0m0 5h0m0 39h0m0 1h0m0 8h0m0 3h0m1-118h0m0 1h0m0 1h0m0 1h0m0 3h0m0 2h0m0 5h0m0 2h0m0 3h0m0 3h0m0 1h0m0 4h0m0 5h0m0 1h0m0 14h0m0 9h0m0 1h0m0 11h0m0 7h0m0 3h0m0 26h0m0 3h0m0 1h0m0 24h0m0 6h0m1-153h0m0 8h0m0 2h0m0 6h0m0 7h0m0 2h0m0 1h0m0 2h0m0 3h0m0 4h0m0 1h0m0 2h0m0 9h0m0 1h0m0 5h0m0 11h0m0 23h0m0 9h0m0 10h0m0 8h0m0 2h0m0 19h0m0 3h0m0 14h0m0 5h0m0 12h0m0 68h0m1-228h0m0 7h0m0 1h0m0 14h0m0 1h0m0 1h0m0 4h0m0 1h0m0 7h0m0 6h0m0 3h0m0 2h0m0 1h0m0 15h0m0 5h0m0 2h0m0 4h0m0 8h0m0 23h0m0 28h0m0 7h0m0 19h0m0 13h0m0 2h0m0 63h0m1-225h0m0 11h0m0 13h0m0 3h0m0 3h0m0 14h0m0 15h0m0 8h0m0 6h0m0 3h0m0 7h0m0 2h0m0 9h0m0 6h0m0 1h0m0 25h0m0 19h0m0 68h0m0 39h0m1-242h0m0 6h0m0 9h0m0 21h0m0 6h0m0 2h0m0 2h0m0 27h0m0 2h0m0 23h0m0 14h0m0 10h0m0 8h0m0 2h0m0 4h0m0 29h0m1-171h0m0 7h0m0 8h0m0 23h0m0 7h0m0 16h0m0 10h0m0 2h0m0 4h0m0 43h0m0 3h0m0 5h0m0 7h0m0 5h0m0 10h0m0 17h0m0 14h0m0 39h0m1-211h0m0 18h0m0 7h0m0 20h0m0 3h0m0 8h0m0 10h0m0 25h0m0 11h0m0 1h0m0 2h0m0 3h0m0 11h0m0 2h0m0 21h0m0 47h0m0 4h0m1-163h0m0 10h0m0 4h0m0 1h0m0 8h0m0 43h0m0 8h0m0 14h0m0 3h0m0 11h0m0 26h0m0 4h0m0 25h0m1-149h0m0 8h0m0 3h0m0 2h0m0 5h0m0 8h0m0 32h0m0 3h0m0 22h0m0 1h0m0 1h0m0 19h0m0 7h0m0 6h0m0 24h0m0 2h0m0 19h0m1-162h0m0 27h0m0 4h0m0 5h0m0 14h0m0 15h0m0 13h0m0 3h0m0 17h0m0 1h0m0 21h0m0 19h0m0 10h0m0 25h0m1-209h0m0 17h0m0 3h0m0 21h0m0 15h0m0 3h0m0 4h0m0 6h0m0 7h0m0 2h0m0 6h0m0 6h0m0 9h0m0 5h0m0 2h0m0 3h0m0 4h0m0 29h0m0 35h0m1-145h0m0 43h0m0 1h0m0 9h0m0 15h0m0 2h0m0 2h0m0 4h0m0 13h0m0 12h0m1-127h0m0 27h0m0 26h0m0 6h0m0 1h0m0 9h0m0 29h0m0 70h0m0 29h0m1-181h0m0 8h0m0 6h0m0 8h0m0 10h0m0 6h0m0 2h0m0 45h0m0 3h0m0 14h0m0 20h0m1-92h0m0 20h0m0 35h0m0 30h0m0 1h0m0 4h0m0 58h0m0 14h0m1-180h0m0 17h0m0 44h0m0 17h0m0 30h0m0 4h0m0 4h0m0 16h0m0 17h0m0 2h0m0 22h0m0 1h0m0 5h0m0 11h0m1-175h0m0 2h0m0 23h0m0 29h0m0 10h0m0 13h0m0 29h0m0 28h0m0 19h0m1-143h0m0 13h0m0 8h0m0 19h0m0 9h0m0 17h0m0 12h0m0 41h0m0 10h0m0 33h0m1-141h0m0 22h0m0 33h0m0 9h0m0 39h0m0 17h0m0 10h0m1-129h0m0 37h0m0 6h0m0 7h0m0 5h0m0 7h0m0 26h0m0 29h0m0 43h0m1-137h0m0 16h0m0 14h0m0 17h0m0 12h0m0 56h0m0 11h0m1-141h0m0 30h0m0 7h0m0 53h0m0 10h0m0 24h0m0 15h0m0 4h0m1-160h0m0 61h0m0 26h0m0 1h0m0 15h0m0 18h0m1-115h0m0 7h0m0 6h0m0 15h0m0 12h0m0 27h0m0 27h0m0 37h0m1-94h0m0 18h0m0 1h0m0 8h0m0 8h0m0 16h0m0 54h0m1-61h0m0 22h0m0 18h0m1 4h0m0 35h0m0 5h0m1-130h0m0 34h0m0 56h0m0 22h0m0 4h0m1-85h0m0 37h0m0 26h0m0 11h0m0 6h0m0 11h0m0 6h0m1-130h0m0 37h0m0 29h0m1 21h0m1-84h0m0 36h0m0 8h0m0 15h0m0 36h0m0 22h0m1-82h0m0 11h0m0 53h0m0 5h0m1 0h0m1-35h0m1 42h0m1-50h0m0 20h0m0 23h0m0 16h0m1-23h0m0 1h0m0 3h0m0 19h0m1-28h0m0 3h0m0 18h0m1-59h0m0 74h0m1-89h0m0 49h0m0 2h0m1-50h0m0 27h0m0 49h0m2-28h0m3 42h0m1-6h0m7-2h0m1-50h0m14 41h0m10 13h0m2-13h0" stroke-opacity="0.43"/><path d="M56 661h0m23-90h0m2-45h0m0 85h0m0 76h0m2-141h0m3-44h0m0 61h0m1-51h0m1 39h0m0 24h0m5-104h0m0 4h0m0 10h0m0 6h0m0 10h0m0 106h0m1-149h0m0 14h0m0 3h0m0 103h0m1-118h0m0 7h0m0 7h0m0 11h0m1-11h0m0 17h0m0 26h0m0 3h0m1-72h0m0 1h0m0 2h0m0 9h0m0 3h0m0 5h0m0 29h0m1-53h0m0 4h0m0 3h0m0 1h0m0 4h0m0 1h0m0 13h0m0 2h0m1-30h0m0 2h0m0 1h0m0 3h0m0 3h0m0 23h0m1-35h0m0 1h0m0 10h0m0 2h0m0 3h0m0 2h0m0 9h0m0 12h0m1-39h0m0 6h0m0 1h0m0 2h0m0 3h0m0 2h0m0 78h0m1-88h0m1-8h0m0 3h0m0 3h0m2-3h0m0 1h0m0 2h0m1-1h0m1 0h0m0 6h0m1-5h0m0 1h0m1 2h0m0 2h0m0 3h0m0 2h0m0 14h0m0 7h0m1-30h0m0 4h0m0 2h0m0 6h0m0 6h0m1-18h0m0 4h0m0 18h0m1-21h0m0 1h0m0 6h0m0 4h0m0 7h0m1-10h0m0 9h0m0 22h0m1-32h0m0 1h0m0 5h0m0 22h0m0 8h0m0 26h0m1-61h0m0 2h0m0 2h0m0 19h0m0 22h0m1 37h0m0 75h0m1-135h0m0 10h0m1-2h0m0 1h0m0 12h0m0 28h0m1-35h0m0 19h0m0 11h0m0 45h0m1-87h0m0 50h0m1-35h0m0 20h0m2-24h0m1 24h0m0 18h0m0 50h0m1-55h0m0 4h0m7 104h0m4-15h0" stroke-opacity="0.52"/><path d="M91 484h0m3-3h0m0 6h0m2-33h0m1 4h0m0 28h0m1-43h0m0 2h0m1-2h0m0 4h0m0 2h0m1-7h0m0 1h0m0 2h0m1-7h0m0 3h0m1-5h0m0 1h0m0 8h0m1-6h0m0 1h0m0 3h0m2-8h0m0 1h0m1 2h0m1-3h0m0 3h0m0 3h0m0 1h0m0 1h0m0 2h0m1-5h0m0 5h0m1-5h0m0 2h0m0 1h0m0 4h0m1-8h0m0 2h0m0 2h0m0 1h0m0 1h0m0 4h0m1-5h0m0 1h0m0 8h0m1-6h0m0 5h0m0 3h0m1-2h0m3 24h0m3 2h0m1 31h0" stroke-opacity="0.57"/><path d="M101 440h0m0 2h0m1-3h0m0 1h0m0 2h0m1-5h0m1 0h0m2-1h0m0 1h0m1 0h0m0 2h0m1-1h0m1 3h0m2 2h0m4 26h0" stroke-opacity="0.60"/><path d="M102 438h0m1-2h0m1-1h0m0 1h0m2-1h0m1 1h0m1 1h0" stroke-opacity="0.63"/></g><g transform="scale(0.5)" stroke="#0000ff" stroke-width="1.7" stroke-linecap="round" fill="none"><path d="M41 736h0m19-22h0m1 8h0m6 1h0m8-9h0m7-36h0m1 39h0m1 5h0m3-40h0m1 21h0m1-12h0m0 3h0m0 42h0m2-78h0m1 25h0m0 10h0m0 18h0m1-43h0m1 27h0m1-38h0m0 41h0m1 4h0m0 32h0m1-68h0m0 31h0m0 8h0m0 24h0m1-84h0m0 87h0m1-51h0m0 5h0m0 41h0m1-26h0m1-74h0m1 69h0m1-13h0m0 1h0m0 39h0m1-91h0m0 47h0m1 32h0m1-99h0m0 16h0m0 34h0m0 24h0m0 22h0m1-59h0m0 25h0m0 8h0m0 33h0m0 11h0m1-100h0m0 74h0m0 13h0m1-76h0m0 96h0m1-118h0m0 46h0m0 5h0m0 47h0m0 16h0m1-156h0m0 8h0m0 41h0m0 66h0m1-60h0m0 14h0m0 9h0m0 10h0m0 44h0m0 4h0m0 8h0m1-100h0m0 30h0m0 27h0m0 42h0m1-136h0m1 101h0m0 38h0m1-153h0m0 49h0m0 10h0m0 22h0m0 43h0m0 19h0m1-137h0m0 1h0m0 65h0m0 11h0m0 50h0m1-145h0m0 31h0m0 21h0m0 120h0m1-41h0m0 1h0m0 15h0m1-126h0m0 14h0m0 37h0m0 2h0m0 73h0m0 13h0m0 2h0m0 5h0m0 1h0m1-170h0m0 9h0m0 7h0m0 4h0m0 16h0m0 7h0m0 17h0m0 2h0m0 40h0m1-122h0m0 34h0m0 2h0m0 17h0m0 7h0m0 32h0m1-98h0m0 23h0m0 42h0m0 50h0m0 15h0m0 9h0m0 52h0m1-147h0m0 1h0m0 18h0m0 14h0m0 48h0m0 44h0m0 9h0m1-142h0m0 5h0m0 5h0m0 10h0m0 6h0m0 36h0m0 6h0m0 11h0m0 60h0m0 23h0m1-188h0m0 1h0m0 8h0m0 92h0m0 8h0m0 13h0m0 7h0m0 28h0m0 20h0m1-184h0m0 10h0m0 1h0m0 6h0m0 15h0m0 6h0m0 4h0m0 13h0m0 13h0m0 10h0m0 20h0m0 24h0m0 3h0m0 17h0m1-136h0m0 42h0m0 4h0m0 7h0m0 4h0m0 1h0m0 19h0m0 23h0m0 15h0m1-129h0m0 13h0m0 15h0m0 21h0m0 1h0m0 13h0m0 6h0m0 19h0m0 3h0m0 9h0m0 7h0m0 3h0m0 6h0m1-113h0m0 1h0m0 19h0m0 2h0m0 15h0m0 7h0m0 7h0m0 21h0m0 22h0m0 21h0m0 13h0m0 7h0m0 48h0m1-201h0m0 7h0m0 3h0m0 15h0m0 12h0m0 10h0m0 9h0m0 7h0m0 1h0m0 8h0m0 3h0m0 3h0m0 11h0m0 12h0m0 10h0m0 12h0m0 55h0m1-206h0m0 19h0m0 5h0m0 11h0m0 12h0m0 3h0m0 12h0m0 1h0m0 4h0m0 1h0m0 28h0m0 16h0m0 15h0m0 95h0m1-184h0m0 22h0m0 13h0m0 1h0m0 16h0m0 3h0m0 10h0m0 15h0m0 23h0m0 10h0m0 7h0m0 39h0m1-174h0m0 4h0m0 27h0m0 11h0m0 3h0m0 15h0m0 11h0m0 25h0m0 17h0m0 1h0m0 18h0m0 3h0m0 30h0m1-178h0m0 1h0m0 17h0m0 7h0m0 5h0m0 9h0m0 2h0m0 4h0m0 13h0m0 6h0m0 13h0m0 39h0m0 53h0m0 33h0m1-207h0m0 7h0m0 44h0m0 19h0m0 19h0m0 2h0m0 4h0m0 4h0m0 1h0m0 15h0m0 4h0m0 24h0m0 7h0m0 4h0m0 20h0m0 36h0m0 19h0m1-242h0m0 8h0m0 38h0m0 2h0m0 4h0m0 4h0m0 17h0m0 1h0m0 3h0m0 1h0m0 29h0m0 3h0m0 31h0m0 28h0m0 78h0m1-251h0m0 13h0m0 1h0m0 1h0m0 2h0m0 1h0m0 20h0m0 6h0m0 8h0m0 11h0m0 4h0m0 2h0m0 9h0m0 4h0m0 47h0m0 25h0m0 2h0m0 14h0m0 9h0m0 50h0m1-232h0m0 19h0m0 6h0m0 3h0m0 7h0m0 3h0m0 2h0m0 7h0m0 8h0m0 5h0m0 9h0m0 11h0m0 10h0m0 25h0m0 14h0m0 70h0m1-195h0m0 3h0m0 3h0m0 2h0m0 3h0m0 3h0m0 1h0m0 1h0m0 6h0m0 4h0m0 3h0m0 2h0m0 11h0m0 8h0m0 4h0m0 3h0m0 7h0m0 3h0m0 5h0m0 26h0m0 7h0m0 92h0m1-192h0m0 13h0m0 3h0m0 18h0m0 3h0m0 2h0m0 1h0m0 7h0m0 9h0m0 3h0m0 5h0m0 6h0m0 10h0m0 17h0m0 21h0m0 2h0m0 52h0m1-186h0m0 1h0m0 1h0m0 3h0m0 4h0m0 8h0m0 8h0m0 6h0m0 1h0m0 5h0m0 2h0m0 7h0m0 6h0m0 4h0m0 6h0m0 3h0m0 1h0m0 5h0m0 8h0m0 7h0m0 6h0m0 12h0m0 45h0m0 20h0m1-169h0m0 9h0m0 1h0m0 2h0m0 2h0m0 9h0m0 9h0m0 11h0m0 7h0m0 8h0m0 4h0m0 1h0m0 7h0m0 4h0m0 10h0m0 1h0m0 6h0m0 17h0m0 10h0m0 62h0m1-186h0m0 1h0m0 4h0m0 3h0m0 5h0m0 2h0m0 5h0m0 1h0m0 1h0m0 2h0m0 9h0m0 1h0m0 1h0m0 1h0m0 2h0m0 4h0m0 3h0m0 6h0m0 2h0m0 5h0m0 1h0m0 4h0m0 11h0m0 4h0m0 3h0m0 10h0m0 6h0m0 13h0m0 11h0m0 35h0m1-163h0m0 25h0m0 1h0m0 9h0m0 3h0m0 1h0m0 2h0m0 2h0m0 4h0m0 4h0m0 8h0m0 10h0m0 19h0m0 5h0m0 2h0m0 16h0m0 3h0m0 20h0m0 7h0m0 76h0m1-215h0m0 3h0m0 9h0m0 4h0m0 3h0m0 11h0m0 12h0m0 6h0m0 40h0m0 4h0m0 2h0m0 24h0m0 12h0m0 100h0m1-229h0m0 1h0m0 2h0m0 2h0m0 3h0m0 1h0m0 3h0m0 2h0m0 1h0m0 1h0m0 3h0m0 2h0m0 3h0m0 2h0m0 3h0m0 4h0m0 1h0m0 1h0m0 1h0m0 6h0m0 9h0m0 9h0m0 2h0m0 5h0m0 11h0m0 136h0m1-219h0m0 11h0m0 1h0m0 1h0m0 5h0m0 3h0m0 6h0m0 5h0m0 6h0m0 1h0m0 5h0m0 35h0m0 13h0m0 23h0m0 128h0m1-242h0m0 5h0m0 1h0m0 2h0m0 3h0m0 1h0m0 1h0m0 4h0m0 2h0m0 1h0m0 3h0m0 2h0m0 7h0m0 5h0m0 7h0m0 1h0m0 11h0m0 95h0m0 54h0m1-209h0m0 1h0m0 1h0m0 5h0m0 1h0m0 1h0m0 3h0m0 3h0m0 3h0m0 1h0m0 3h0m0 3h0m0 1h0m0 5h0m0 9h0m0 4h0m0 32h0m0 13h0m0 74h0m0 122h0m1-285h0m0 2h0m0 2h0m0 1h0m0 4h0m0 2h0m0 3h0m0 5h0m0 3h0m0 1h0m0 5h0m0 2h0m0 3h0m0 1h0m0 11h0m0 18h0m0 140h0m1-206h0m0 1h0m0 9h0m0 1h0m0 1h0m0 5h0m0 3h0m0 1h0m0 1h0m0 4h0m0 2h0m0 7h0m0 4h0m0 2h0m0 5h0m0 1h0m0 5h0m0 102h0m0 26h0m1-174h0m0 2h0m0 2h0m0 5h0m0 7h0m0 2h0m0 1h0m0 3h0m0 3h0m0 4h0m0 6h0m0 1h0m0 5h0m0 6h0m0 4h0m0 11h0m0 16h0m1-80h0m0 5h0m0 8h0m0 3h0m0 2h0m0 1h0m0 1h0m0 13h0m0 10h0m0 56h0m0 73h0m1-173h0m0 2h0m0 2h0m0 4h0m0 1h0m0 4h0m0 13h0m0 19h0m0 4h0m0 2h0m0 14h0m0 9h0m0 48h0m1-123h0m0 2h0m0 1h0m0 10h0m0 49h0m0 22h0m0 19h0m0 99h0m1-195h0m0 16h0m0 9h0m0 235h0m1-268h0m0 3h0m0 3h0m0 8h0m0 34h0m1-45h0m0 8h0m0 41h0m0 2h0m0 49h0m1-97h0m0 2h0m0 1h0m0 1h0m0 16h0m0 1h0m0 7h0m0 4h0m0 35h0m0 24h0m1-100h0m0 1h0m0 7h0m0 5h0m0 2h0m0 3h0m0 1h0m0 10h0m0 1h0m0 2h0m0 2h0m0 9h0m0 9h0m0 28h0m0 27h0m0 88h0m1-193h0m0 10h0m0 1h0m0 3h0m0 1h0m0 9h0m0 6h0m0 9h0m0 43h0m0 178h0m1-256h0m0 2h0m0 1h0m0 3h0m0 3h0m0 3h0m0 1h0m0 9h0m0 1h0m0 3h0m0 7h0m0 24h0m0 4h0m0 10h0m0 37h0m1-105h0m0 2h0m0 1h0m0 3h0m0 4h0m0 1h0m0 4h0m0 1h0m0 4h0m0 5h0m0 1h0m0 2h0m0 1h0m0 4h0m0 3h0m0 10h0m0 7h0m0 1h0m0 4h0m0 60h0m0 38h0m0 48h0m1-205h0m0 1h0m0 4h0m0 6h0m0 3h0m0 7h0m0 3h0m0 2h0m0 6h0m0 3h0m0 4h0m0 7h0m0 2h0m0 39h0m0 9h0m0 9h0m0 12h0m1-117h0m0 3h0m0 1h0m0 1h0m0 4h0m0 3h0m0 1h0m0 4h0m0 3h0m0 2h0m0 1h0m0 2h0m0 4h0m0 1h0m0 1h0m0 2h0m0 1h0m0 2h0m0 4h0m0 5h0m0 2h0m0 13h0m0 3h0m0 3h0m0 1h0m0 19h0m0 1h0m0 101h0m0 72h0m1-257h0m0 1h0m0 5h0m0 4h0m0 1h0m0 1h0m0 3h0m0 4h0m0 12h0m0 1h0m0 3h0m0 2h0m0 3h0m0 1h0m0 51h0m0 7h0m0 23h0m1-126h0m0 6h0m0 1h0m0 2h0m0 1h0m0 2h0m0 1h0m0 1h0m0 1h0m0 1h0m0 2h0m0 6h0m0 2h0m0 2h0m0 4h0m0 4h0m0 2h0m0 11h0m0 3h0m0 1h0m0 5h0m0 1h0m0 17h0m0 3h0m0 3h0m1-73h0m0 2h0m0 2h0m0 10h0m0 7h0m0 7h0m0 2h0m0 4h0m0 4h0m0 8h0m0 2h0m0 3h0m0 1h0m0 1h0m0 7h0m0 6h0m0 30h0m0 5h0m0 1h0m0 2h0m0 3h0m0 123h0m0 51h0m1-288h0m0 3h0m0 1h0m0 4h0m0 2h0m0 2h0m0 6h0m0 5h0m0 5h0m0 9h0m0 3h0m0 10h0m0 7h0m0 4h0m0 14h0m0 5h0m0 2h0m0 9h0m0 10h0m0 7h0m0 1h0m0 26h0m0 12h0m0 72h0m1-196h0m0 1h0m0 1h0m0 3h0m0 8h0m0 3h0m0 6h0m0 7h0m0 4h0m0 4h0m0 1h0m0 2h0m0 2h0m0 12h0m0 4h0m0 1h0m0 2h0m0 31h0m0 48h0m0 22h0m1-171h0m0 12h0m0 5h0m0 1h0m0 2h0m0 3h0m0 4h0m0 13h0m0 1h0m0 8h0m0 4h0m0 2h0m0 11h0m0 5h0m0 11h0m0 6h0m0 13h0m0 3h0m0 11h0m0 18h0m0 3h0m0 18h0m0 6h0m1-153h0m0 4h0m0 3h0m0 7h0m0 1h0m0 1h0m0 1h0m0 4h0m0 1h0m0 1h0m0 1h0m0 18h0m0 14h0m0 11h0m0 4h0m0 15h0m0 6h0m0 9h0m0 1h0m0 3h0m0 38h0m0 30h0m1-174h0m0 7h0m0 8h0m0 10h0m0 2h0m0 5h0m0 5h0m0 3h0m0 13h0m0 4h0m0 1h0m0 1h0m0 7h0m0 3h0m0 4h0m0 8h0m0 6h0m0 2h0m0 2h0m0 25h0m0 15h0m0 35h0m0 22h0m0 24h0m1-207h0m0 14h0m0 15h0m0 7h0m0 3h0m0 15h0m0 4h0m0 4h0m0 2h0m0 8h0m0 4h0m0 4h0m0 2h0m0 36h0m0 5h0m0 10h0m0 16h0m0 16h0m0 63h0m0 16h0m1-259h0m0 18h0m0 5h0m0 14h0m0 30h0m0 12h0m0 8h0m0 15h0m0 47h0m0 34h0m1-170h0m0 6h0m0 4h0m0 14h0m0 4h0m0 2h0m0 7h0m0 4h0m0 4h0m0 8h0m0 11h0m0 1h0m0 4h0m0 1h0m0 4h0m0 7h0m0 11h0m0 12h0m0 6h0m0 4h0m0 13h0m0 10h0m0 2h0m0 9h0m0 5h0m0 18h0m0 26h0m0 37h0m1-233h0m0 28h0m0 6h0m0 1h0m0 12h0m0 3h0m0 4h0m0 13h0m0 10h0m0 25h0m0 3h0m0 7h0m0 21h0m0 1h0m0 63h0m0 9h0m1-189h0m0 26h0m0 4h0m0 2h0m0 12h0m0 15h0m0 4h0m0 3h0m0 83h0m1-144h0m0 14h0m0 5h0m0 5h0m0 7h0m0 4h0m0 39h0m0 11h0m0 17h0m0 1h0m0 23h0m0 4h0m0 17h0m0 22h0m0 14h0m0 20h0m0 6h0m0 18h0m1-198h0m0 14h0m0 10h0m0 25h0m0 17h0m0 7h0m0 16h0m0 8h0m0 7h0m0 16h0m1-147h0m0 26h0m0 4h0m0 6h0m0 4h0m0 24h0m0 8h0m0 1h0m0 4h0m0 6h0m0 1h0m0 6h0m0 1h0m0 20h0m0 95h0m1-190h0m0 17h0m0 2h0m0 1h0m0 23h0m0 14h0m0 13h0m0 4h0m0 9h0m0 31h0m0 10h0m0 19h0m1-114h0m0 22h0m0 23h0m0 4h0m0 12h0m0 21h0m0 10h0m0 2h0m0 14h0m0 45h0m1-171h0m0 10h0m0 5h0m0 1h0m0 9h0m0 7h0m0 14h0m0 8h0m0 5h0m0 87h0m1-165h0m0 23h0m0 17h0m0 26h0m0 9h0m0 28h0m0 6h0m0 11h0m0 3h0m0 60h0m0 27h0m1-183h0m0 19h0m0 27h0m0 1h0m0 11h0m0 6h0m0 31h0m0 16h0m0 4h0m0 30h0m0 14h0m0 7h0m0 9h0m0 18h0m1-237h0m0 77h0m0 1h0m0 14h0m0 32h0m0 10h0m0 2h0m0 10h0m0 19h0m0 22h0m0 16h0m0 22h0m1-175h0m0 33h0m0 1h0m0 59h0m0 6h0m0 3h0m1-118h0m0 25h0m0 1h0m0 41h0m0 64h0m1-113h0m0 38h0m0 13h0m0 5h0m0 53h0m0 50h0m1-111h0m0 17h0m0 7h0m0 2h0m0 6h0m0 47h0m0 1h0m0 15h0m0 21h0m1-175h0m0 20h0m0 26h0m0 13h0m0 14h0m0 8h0m0 9h0m0 21h0m0 8h0m0 7h0m0 33h0m0 3h0m1-105h0m0 37h0m0 6h0m0 12h0m0 9h0m0 47h0m0 9h0m1-131h0m0 23h0m0 12h0m0 11h0m0 58h0m0 4h0m0 19h0m1-124h0m0 12h0m0 27h0m0 31h0m0 45h0m1-30h0m1-72h0m0 4h0m0 1h0m0 28h0m0 2h0m0 75h0m1-132h0m0 17h0m0 29h0m0 25h0m1-4h0m0 6h0m0 38h0m0 37h0m1-118h0m0 15h0m0 56h0m0 9h0m0 6h0m1-5h0m0 6h0m0 33h0m1-106h0m0 49h0m0 23h0m0 1h0m0 3h0m0 9h0m0 7h0m1-47h0m0 33h0m0 13h0m0 3h0m1-54h0m0 34h0m1-4h0m0 9h0m0 13h0m1-79h0m0 12h0m1-18h0m0 10h0m0 25h0m0 25h0m0 2h0m0 18h0m0 18h0m1-44h0m0 25h0m1 2h0m1-54h0m0 22h0m0 56h0m1-82h0m1 78h0m1-3h0m1-80h0m0 25h0m0 1h0m0 2h0m0 24h0m0 19h0m1 2h0m1-61h0m0 6h0m0 30h0m1 15h0m1 14h0m1-54h0m0 57h0m1-79h0m2 79h0m2-40h0m0 16h0m2 8h0m1 24h0m1-46h0m0 15h0m0 7h0m1 7h0m1-18h0m1 26h0m1-63h0m1 75h0m2 8h0m2-12h0m1-1h0m5 15h0m4-4h0m1-2h0m5 1h0m5-15h0m16 18h0" stroke-opacity="0.62"/><path d="M122 622h0m4-30h0m2-18h0m4-87h0m0 111h0m0 4h0m1-48h0m1-12h0m1 26h0m2-76h0m1 2h0m2 9h0m0 2h0m1-35h0m0 11h0m0 2h0m0 9h0m0 67h0m0 6h0m1-91h0m0 3h0m0 4h0m1-10h0m0 8h0m0 28h0m1-24h0m1-30h0m0 2h0m0 1h0m0 7h0m0 4h0m0 31h0m1-40h0m0 21h0m0 8h0m0 6h0m0 18h0m1-53h0m0 7h0m0 13h0m1-30h0m0 5h0m0 6h0m0 8h0m1-19h0m0 6h0m0 5h0m0 1h0m0 5h0m0 9h0m1-31h0m0 2h0m0 5h0m0 3h0m0 20h0m1-35h0m0 1h0m0 7h0m0 6h0m0 3h0m0 10h0m1-21h0m0 6h0m0 19h0m1-29h0m0 1h0m0 7h0m0 1h0m0 1h0m0 1h0m1-12h0m0 3h0m0 3h0m0 3h0m0 19h0m2-30h0m0 6h0m1-6h0m0 2h0m1-3h0m0 34h0m1-32h0m1-3h0m0 4h0m0 2h0m0 1h0m0 11h0m1-16h0m0 2h0m0 6h0m0 1h0m1-8h0m0 8h0m0 4h0m1-8h0m0 4h0m0 20h0m0 7h0m0 23h0m1-53h0m0 5h0m0 1h0m0 4h0m0 3h0m1-7h0m0 1h0m0 2h0m0 3h0m0 13h0m1-19h0m0 2h0m0 7h0m1 4h0m0 6h0m0 23h0m0 39h0m1-69h0m0 3h0m0 8h0m0 10h0m0 4h0m0 3h0m1-16h0m0 9h0m0 8h0m1-26h0m0 10h0m0 24h0m0 6h0m0 16h0m1-57h0m0 73h0m1-69h0m1 17h0m1 3h0m1 0h0m0 2h0m0 59h0m0 5h0m1-3h0m1-57h0m0 18h0m0 63h0m0 24h0m0 20h0m2-53h0m7 81h0m1-71h0m3 31h0" stroke-opacity="0.75"/><path d="M132 501h0m10-5h0m4-35h0m0 13h0m1-24h0m1 7h0m0 6h0m1-12h0m1-7h0m1-3h0m0 12h0m1-10h0m0 2h0m0 1h0m1-9h0m0 1h0m0 1h0m0 3h0m0 4h0m1-10h0m0 4h0m1-2h0m2-3h0m0 1h0m1 1h0m1 2h0m0 1h0m1-2h0m0 5h0m1-3h0m0 1h0m1-2h0m0 2h0m0 1h0m0 2h0m0 1h0m1 3h0m0 9h0m1-12h0m0 7h0m1-6h0m0 5h0m1-1h0m1 3h0m5 21h0" stroke-opacity="0.82"/><path d="M146 471h0m6-32h0m0 3h0m2-4h0m1-3h0m0 2h0m1-1h0m4 0h0m0 4h0m1-2h0" stroke-opacity="0.86"/><path d="M154 437h0m1-1h0m1-1h0m2 0h0m1 0h0m0 1h0m0 1h0m1 0h0" stroke-opacity="0.90"/></g><g transform="scale(0.5)" stroke="#00ffff" stroke-width="1.7" stroke-linecap="round" fill="none"><path d="M74 736h0m40 0h0m3-17h0m2 11h0m9-12h0m2 7h0m1 0h0m1 9h0m2-7h0m1-16h0m1-5h0m6 14h0m2-77h0m0 74h0m0 8h0m1-37h0m0 4h0m1-5h0m0 29h0m0 14h0m1-91h0m3 32h0m0 12h0m0 44h0m1-96h0m0 67h0m0 12h0m0 2h0m1-71h0m1 74h0m1-53h0m0 20h0m1-46h0m1 19h0m1 55h0m1-24h0m0 44h0m1-76h0m0 28h0m1 6h0m1-47h0m1 28h0m0 21h0m1-41h0m0 29h0m1-8h0m0 47h0m1-60h0m1 51h0m1-8h0m0 11h0m0 5h0m1-29h0m0 20h0m0 17h0m1-74h0m0 30h0m1-78h0m0 38h0m0 13h0m0 9h0m0 3h0m1-40h0m0 95h0m1-113h0m0 16h0m0 14h0m0 76h0m1-93h0m0 32h0m1-33h0m0 9h0m0 36h0m0 38h0m1-128h0m0 6h0m0 91h0m0 19h0m0 9h0m1-107h0m0 7h0m0 31h0m0 8h0m0 1h0m0 7h0m0 15h0m1-86h0m0 16h0m0 30h0m0 2h0m0 39h0m0 55h0m1-89h0m0 13h0m0 22h0m0 20h0m1-93h0m0 50h0m0 7h0m0 4h0m0 36h0m0 47h0m1-159h0m0 15h0m0 12h0m0 1h0m0 31h0m0 23h0m0 8h0m1-127h0m0 18h0m0 15h0m0 62h0m0 9h0m0 1h0m0 40h0m1-101h0m0 4h0m0 61h0m0 9h0m0 2h0m0 5h0m0 2h0m0 13h0m0 16h0m1-133h0m0 33h0m0 53h0m0 5h0m0 5h0m1-84h0m0 28h0m0 12h0m0 66h0m1-93h0m0 47h0m0 100h0m2-138h0m0 7h0m0 18h0m0 5h0m0 13h0m0 8h0m0 49h0m1-135h0m0 5h0m0 7h0m0 51h0m0 2h0m0 5h0m0 6h0m0 5h0m0 38h0m1-144h0m0 1h0m0 67h0m0 43h0m0 4h0m0 16h0m1-143h0m0 23h0m0 5h0m0 32h0m0 7h0m0 1h0m0 9h0m0 45h0m0 40h0m1-167h0m0 9h0m0 7h0m0 18h0m0 18h0m0 5h0m0 45h0m0 19h0m0 47h0m1-163h0m0 1h0m0 37h0m0 16h0m0 40h0m0 72h0m1-166h0m0 31h0m0 10h0m0 8h0m0 7h0m0 20h0m0 6h0m0 26h0m0 7h0m0 7h0m0 36h0m1-167h0m0 19h0m0 1h0m0 7h0m0 9h0m0 44h0m0 14h0m0 5h0m0 51h0m0 25h0m0 38h0m0 3h0m1-224h0m0 20h0m0 32h0m0 44h0m0 5h0m0 20h0m1-113h0m0 6h0m0 19h0m0 4h0m0 3h0m0 3h0m0 13h0m0 2h0m0 15h0m0 2h0m0 18h0m0 7h0m0 10h0m0 15h0m0 3h0m0 37h0m1-176h0m0 34h0m0 9h0m0 13h0m0 8h0m0 1h0m0 7h0m0 11h0m0 2h0m0 23h0m0 6h0m0 8h0m0 7h0m0 29h0m0 22h0m0 47h0m1-238h0m0 41h0m0 13h0m0 16h0m0 2h0m0 1h0m0 99h0m0 54h0m1-204h0m0 5h0m0 11h0m0 10h0m0 4h0m0 23h0m0 7h0m0 6h0m0 6h0m0 37h0m0 21h0m0 5h0m0 28h0m0 14h0m1-184h0m0 9h0m0 11h0m0 16h0m0 11h0m0 8h0m0 8h0m0 28h0m0 10h0m0 10h0m0 20h0m0 48h0m1-196h0m0 6h0m0 19h0m0 17h0m0 5h0m0 4h0m0 2h0m0 1h0m0 4h0m0 8h0m0 11h0m0 52h0m0 56h0m1-147h0m0 10h0m0 47h0m0 8h0m0 3h0m0 23h0m1-124h0m0 10h0m0 8h0m0 1h0m0 20h0m0 9h0m0 3h0m0 8h0m0 11h0m0 1h0m0 1h0m0 2h0m0 15h0m0 27h0m0 12h0m0 12h0m0 23h0m1-152h0m0 7h0m0 8h0m0 6h0m0 2h0m0 8h0m0 7h0m0 25h0m0 7h0m0 22h0m0 5h0m0 20h0m0 23h0m1-161h0m0 11h0m0 5h0m0 5h0m0 20h0m0 69h0m0 12h0m0 12h0m1-130h0m0 5h0m0 10h0m0 19h0m0 4h0m0 6h0m0 5h0m0 14h0m0 8h0m0 7h0m0 6h0m0 5h0m0 2h0m0 4h0m0 3h0m0 11h0m0 3h0m0 11h0m0 25h0m0 32h0m1-166h0m0 8h0m0 21h0m0 30h0m0 4h0m0 6h0m0 52h0m0 18h0m0 67h0m1-238h0m0 25h0m0 1h0m0 2h0m0 1h0m0 5h0m0 4h0m0 1h0m0 8h0m0 13h0m0 17h0m0 6h0m0 1h0m0 1h0m0 3h0m0 1h0m0 2h0m0 2h0m0 6h0m0 17h0m1-109h0m0 5h0m0 1h0m0 2h0m0 16h0m0 3h0m0 9h0m0 3h0m0 17h0m0 10h0m0 49h0m0 20h0m1-147h0m0 4h0m0 11h0m0 1h0m0 15h0m0 1h0m0 2h0m0 1h0m0 3h0m0 1h0m0 5h0m0 5h0m0 4h0m0 1h0m0 18h0m0 13h0m0 4h0m0 3h0m0 23h0m0 19h0m0 26h0m1-152h0m0 7h0m0 3h0m0 10h0m0 10h0m0 1h0m0 18h0m0 2h0m0 10h0m0 28h0m0 11h0m0 9h0m1-121h0m0 5h0m0 4h0m0 7h0m0 4h0m0 5h0m0 1h0m0 2h0m0 1h0m0 8h0m0 2h0m0 3h0m0 18h0m0 13h0m0 2h0m0 6h0m0 8h0m0 15h0m0 2h0m0 7h0m0 36h0m1-149h0m0 10h0m0 2h0m0 1h0m0 11h0m0 1h0m0 3h0m0 3h0m0 1h0m0 1h0m0 6h0m0 6h0m0 4h0m0 6h0m0 7h0m0 12h0m0 18h0m0 2h0m0 3h0m0 15h0m0 10h0m0 25h0m1-143h0m0 1h0m0 7h0m0 6h0m0 6h0m0 3h0m0 6h0m0 5h0m0 32h0m0 4h0m0 47h0m0 25h0m1-146h0m0 7h0m0 6h0m0 4h0m0 1h0m0 3h0m0 12h0m0 10h0m0 7h0m0 9h0m0 53h0m0 121h0m1-239h0m0 7h0m0 1h0m0 6h0m0 1h0m0 1h0m0 5h0m0 2h0m0 5h0m0 2h0m0 2h0m0 24h0m0 7h0m0 6h0m0 41h0m0 5h0m0 8h0m0 17h0m1-141h0m0 1h0m0 10h0m0 12h0m0 2h0m0 7h0m0 4h0m0 3h0m0 18h0m0 37h0m0 12h0m0 74h0m1-179h0m0 4h0m0 3h0m0 3h0m0 2h0m0 9h0m0 5h0m0 5h0m0 2h0m0 1h0m0 1h0m0 1h0m0 2h0m0 1h0m0 8h0m0 8h0m0 20h0m0 48h0m0 43h0m0 80h0m1-247h0m0 1h0m0 2h0m0 1h0m0 4h0m0 1h0m0 1h0m0 2h0m0 1h0m0 3h0m0 14h0m0 3h0m0 3h0m0 7h0m0 11h0m0 1h0m0 2h0m0 6h0m0 26h0m1-90h0m0 6h0m0 1h0m0 1h0m0 1h0m0 4h0m0 1h0m0 3h0m0 1h0m0 2h0m0 3h0m0 6h0m0 5h0m0 10h0m0 14h0m0 7h0m0 5h0m0 5h0m0 44h0m0 12h0m1-137h0m0 1h0m0 2h0m0 4h0m0 8h0m0 1h0m0 3h0m0 2h0m0 1h0m0 5h0m0 3h0m0 1h0m0 6h0m0 12h0m0 48h0m0 10h0m0 7h0m1-113h0m0 1h0m0 1h0m0 2h0m0 1h0m0 1h0m0 2h0m0 1h0m0 5h0m0 1h0m0 7h0m0 1h0m0 4h0m0 4h0m0 4h0m0 4h0m0 2h0m0 21h0m0 16h0m0 3h0m0 16h0m0 51h0m1-144h0m0 5h0m0 1h0m0 1h0m0 2h0m0 1h0m0 2h0m0 5h0m0 2h0m0 6h0m0 9h0m0 10h0m0 30h0m0 16h0m0 28h0m0 29h0m1-154h0m0 12h0m0 2h0m0 1h0m0 1h0m0 17h0m0 4h0m0 3h0m0 5h0m0 2h0m0 3h0m0 2h0m0 38h0m1-84h0m0 2h0m0 1h0m0 1h0m0 6h0m0 2h0m0 5h0m0 9h0m0 5h0m0 82h0m0 137h0m1-252h0m0 5h0m0 6h0m0 1h0m0 8h0m0 9h0m0 22h0m0 21h0m0 33h0m1-112h0m0 5h0m0 3h0m0 1h0m0 1h0m0 3h0m0 1h0m0 83h0m0 34h0m1-126h0m0 3h0m0 1h0m0 1h0m0 1h0m0 17h0m1-26h0m0 2h0m0 1h0m0 6h0m0 14h0m0 7h0m0 4h0m0 8h0m0 42h0m0 7h0m0 35h0m1-122h0m0 5h0m0 117h0m0 26h0m1-154h0m0 20h0m0 220h0m1-238h0m0 5h0m0 14h0m0 3h0m0 189h0m1-210h0m0 3h0m0 4h0m0 8h0m0 3h0m0 92h0m1-108h0m0 1h0m0 3h0m0 2h0m0 11h0m1-17h0m0 3h0m0 1h0m0 3h0m0 12h0m0 9h0m0 18h0m0 50h0m1-93h0m0 12h0m0 4h0m0 19h0m0 45h0m0 15h0m1-101h0m0 8h0m0 1h0m0 3h0m0 1h0m0 25h0m0 6h0m0 12h0m0 21h0m1-74h0m0 2h0m0 3h0m0 1h0m0 10h0m0 6h0m0 3h0m0 2h0m0 3h0m0 5h0m0 1h0m0 5h0m0 1h0m0 20h0m0 1h0m0 4h0m0 1h0m0 2h0m1-70h0m0 13h0m0 3h0m0 2h0m0 1h0m0 1h0m0 6h0m0 41h0m0 3h0m0 50h0m0 22h0m1-136h0m0 2h0m0 7h0m0 6h0m0 2h0m0 3h0m0 1h0m0 4h0m0 17h0m0 22h0m1-68h0m0 5h0m0 2h0m0 2h0m0 2h0m0 4h0m0 1h0m0 2h0m0 1h0m0 2h0m0 1h0m0 1h0m0 1h0m0 2h0m0 3h0m0 10h0m0 1h0m0 17h0m0 19h0m0 5h0m0 11h0m0 16h0m0 36h0m0 42h0m0 81h0m1-267h0m0 1h0m0 7h0m0 1h0m0 10h0m0 3h0m0 2h0m0 6h0m0 9h0m0 9h0m0 9h0m0 18h0m0 7h0m0 29h0m0 16h0m0 1h0m0 7h0m0 29h0m1-160h0m0 5h0m0 3h0m0 7h0m0 1h0m0 1h0m0 6h0m0 6h0m0 1h0m0 2h0m0 1h0m0 1h0m0 4h0m0 8h0m0 3h0m0 5h0m0 1h0m0 55h0m0 10h0m0 40h0m0 22h0m0 16h0m1-201h0m0 6h0m0 3h0m0 2h0m0 5h0m0 4h0m0 4h0m0 1h0m0 15h0m0 3h0m0 5h0m0 7h0m0 9h0m0 6h0m0 4h0m0 5h0m0 1h0m0 31h0m1-105h0m0 7h0m0 9h0m0 5h0m0 35h0m0 7h0m0 7h0m0 28h0m0 23h0m1-114h0m0 1h0m0 2h0m0 2h0m0 1h0m0 4h0m0 1h0m0 1h0m0 1h0m0 1h0m0 1h0m0 5h0m0 1h0m0 4h0m0 1h0m0 10h0m0 8h0m0 15h0m0 2h0m0 9h0m0 43h0m0 18h0m0 19h0m1-158h0m0 18h0m0 2h0m0 5h0m0 1h0m0 1h0m0 2h0m0 2h0m0 2h0m0 2h0m0 3h0m0 9h0m0 1h0m0 9h0m0 3h0m0 20h0m0 16h0m0 3h0m0 10h0m1-93h0m0 10h0m0 6h0m0 10h0m0 4h0m0 22h0m0 12h0m0 4h0m0 5h0m0 20h0m0 5h0m0 10h0m0 123h0m1-237h0m0 11h0m0 1h0m0 1h0m0 4h0m0 1h0m0 2h0m0 8h0m0 4h0m0 1h0m0 4h0m0 1h0m0 3h0m0 11h0m0 1h0m0 13h0m0 5h0m0 3h0m0 34h0m0 1h0m0 10h0m0 36h0m0 75h0m0 6h0m1-238h0m0 5h0m0 5h0m0 8h0m0 1h0m0 2h0m0 4h0m0 1h0m0 5h0m0 12h0m0 3h0m0 2h0m0 8h0m0 30h0m0 8h0m0 14h0m0 1h0m0 1h0m0 13h0m0 3h0m0 76h0m1-197h0m0 16h0m0 5h0m0 11h0m0 2h0m0 5h0m0 7h0m0 8h0m0 25h0m0 54h0m0 32h0m0 19h0m1-176h0m0 2h0m0 12h0m0 1h0m0 9h0m0 1h0m0 25h0m0 1h0m0 19h0m0 5h0m0 9h0m0 21h0m0 2h0m0 17h0m0 13h0m0 12h0m1-157h0m0 15h0m0 9h0m0 2h0m0 11h0m0 2h0m0 3h0m0 2h0m0 4h0m0 6h0m0 6h0m0 1h0m0 17h0m0 1h0m0 19h0m0 8h0m0 12h0m0 15h0m0 26h0m0 51h0m1-193h0m0 11h0m0 3h0m0 5h0m0 7h0m0 4h0m0 22h0m0 9h0m0 23h0m0 5h0m0 24h0m0 1h0m0 6h0m0 41h0m0 29h0m0 60h0m1-265h0m0 3h0m0 7h0m0 2h0m0 2h0m0 7h0m0 9h0m0 9h0m0 3h0m0 4h0m0 11h0m0 3h0m0 14h0m0 18h0m0 3h0m0 2h0m0 4h0m0 3h0m0 12h0m0 3h0m0 11h0m0 30h0m0 108h0m1-255h0m0 6h0m0 7h0m0 8h0m0 9h0m0 7h0m0 6h0m0 10h0m0 15h0m0 3h0m0 1h0m0 1h0m0 13h0m0 2h0m0 6h0m0 15h0m0 32h0m0 3h0m0 52h0m0 22h0m1-213h0m0 19h0m0 2h0m0 13h0m0 3h0m0 9h0m0 71h0m0 41h0m0 16h0m1-165h0m0 22h0m0 12h0m0 31h0m0 30h0m1-94h0m0 9h0m0 4h0m0 2h0m0 9h0m0 7h0m0 25h0m0 18h0m0 10h0m0 2h0m0 4h0m0 17h0m0 32h0m0 8h0m0 21h0m1-142h0m0 12h0m0 6h0m0 3h0m0 24h0m0 26h0m0 100h0m0 1h0m1-208h0m0 23h0m0 10h0m0 1h0m0 18h0m0 1h0m0 7h0m0 7h0m0 1h0m0 5h0m0 1h0m0 10h0m0 7h0m0 26h0m0 1h0m0 40h0m0 10h0m0 3h0m0 29h0m1-153h0m0 4h0m0 22h0m0 4h0m0 144h0m1-187h0m0 8h0m0 4h0m0 10h0m0 5h0m0 6h0m0 1h0m0 15h0m0 23h0m0 11h0m0 72h0m0 41h0m1-204h0m0 13h0m0 2h0m0 7h0m0 5h0m0 2h0m0 18h0m0 7h0m0 2h0m0 8h0m1-42h0m0 5h0m0 1h0m0 27h0m0 14h0m0 6h0m0 15h0m0 16h0m0 47h0m0 27h0m0 22h0m1-198h0m0 5h0m0 45h0m0 22h0m0 3h0m0 7h0m0 19h0m0 1h0m0 5h0m0 3h0m0 33h0m0 51h0m0 2h0m1-180h0m0 7h0m0 14h0m0 9h0m0 24h0m0 26h0m0 2h0m0 67h0m1-175h0m0 28h0m0 34h0m0 12h0m0 8h0m0 3h0m0 8h0m0 11h0m0 5h0m0 3h0m0 5h0m0 48h0m1-110h0m0 14h0m0 23h0m0 11h0m0 3h0m0 8h0m1-99h0m0 23h0m0 28h0m0 4h0m0 11h0m0 3h0m0 38h0m0 45h0m1-129h0m0 10h0m0 5h0m0 12h0m0 3h0m0 2h0m0 19h0m0 24h0m0 2h0m0 40h0m0 33h0m0 10h0m1-148h0m0 13h0m0 1h0m0 8h0m0 22h0m0 61h0m0 20h0m1-126h0m0 8h0m0 2h0m0 8h0m0 11h0m0 9h0m0 4h0m0 21h0m0 8h0m0 1h0m0 16h0m0 20h0m0 6h0m1-28h0m0 5h0m0 13h0m0 9h0m0 50h0m1-154h0m0 4h0m0 3h0m0 51h0m0 7h0m0 12h0m0 15h0m0 15h0m1-118h0m0 52h0m0 14h0m1-78h0m0 40h0m0 15h0m0 26h0m0 19h0m0 20h0m1-102h0m0 20h0m0 15h0m0 2h0m0 32h0m0 16h0m0 29h0m0 28h0m0 34h0m1-188h0m0 23h0m0 15h0m0 36h0m0 2h0m0 69h0m1-126h0m0 49h0m0 34h0m0 34h0m1-75h0m0 32h0m0 10h0m0 63h0m1-153h0m0 71h0m0 62h0m0 3h0m1-115h0m0 43h0m0 1h0m0 5h0m0 35h0m0 23h0m1-96h0m0 64h0m0 17h0m0 7h0m0 4h0m1-78h0m0 43h0m0 76h0m1-156h0m0 55h0m0 2h0m0 22h0m0 26h0m0 17h0m0 23h0m0 21h0m1-145h0m0 14h0m0 23h0m0 6h0m0 11h0m0 3h0m0 27h0m0 34h0m1-127h0m0 59h0m1 22h0m0 12h0m0 14h0m1-78h0m0 56h0m0 34h0m1-55h0m0 92h0m1-192h0m0 90h0m0 51h0m0 4h0m0 23h0m0 21h0m1-139h0m0 21h0m0 25h0m0 12h0m0 40h0m0 21h0m1-65h0m0 14h0m1-51h0m0 40h0m0 72h0m1-99h0m0 34h0m1-43h0m0 60h0m0 14h0m2-33h0m1-5h0m0 11h0m0 64h0m1-67h0m1-15h0m1 67h0m0 27h0m1-73h0m0 11h0m0 27h0m0 15h0m0 11h0m6-95h0m0 61h0m2 7h0m0 5h0m0 1h0m2-24h0m3 44h0m1-1h0m1-14h0m0 11h0m5-22h0m0 13h0m1-4h0m0 10h0m2-44h0m1 22h0m2 30h0m0 1h0m2-5h0m3-79h0m6 91h0m12-11h0m7 9h0" stroke-opacity="0.38"/><path d="M171 698h0m14-20h0m3-117h0m2 48h0m1 15h0m3-87h0m3 9h0m3 26h0m1 24h0m1-5h0m3-85h0m3-11h0m0 39h0m2 10h0m1-49h0m1-10h0m0 9h0m1-21h0m0 1h0m0 3h0m3-10h0m0 65h0m1-72h0m0 6h0m1-19h0m1-3h0m0 5h0m0 3h0m0 12h0m1-15h0m0 16h0m0 21h0m1-40h0m0 2h0m0 2h0m0 4h0m1-10h0m0 4h0m0 12h0m1-18h0m0 1h0m0 5h0m0 11h0m1-13h0m0 1h0m1-7h0m0 1h0m0 2h0m0 2h0m0 8h0m0 65h0m1-82h0m0 3h0m0 1h0m0 4h0m0 2h0m0 6h0m0 9h0m2-22h0m1-1h0m1-1h0m0 3h0m3-3h0m1-2h0m0 3h0m0 5h0m1-1h0m0 4h0m1-6h0m0 1h0m0 6h0m0 1h0m1-9h0m0 2h0m0 1h0m0 1h0m0 1h0m0 8h0m0 2h0m1-16h0m0 1h0m0 2h0m0 3h0m0 4h0m0 20h0m0 192h0m1-219h0m0 3h0m0 26h0m1-26h0m0 8h0m0 16h0m1-25h0m0 3h0m0 6h0m0 4h0m0 13h0m1-28h0m0 4h0m0 7h0m1-4h0m0 2h0m0 6h0m0 3h0m0 15h0m1-24h0m0 3h0m0 2h0m0 7h0m2 1h0m0 28h0m1-32h0m1 7h0m0 2h0m0 2h0m0 12h0m1 25h0m1-7h0m1-34h0m4 26h0m4 44h0m1-17h0m4 58h0m16 93h0m2-93h0m9 27h0m1 25h0" stroke-opacity="0.46"/><path d="M214 462h0m4 4h0m0 5h0m3-18h0m0 13h0m2-22h0m0 5h0m1-9h0m0 2h0m0 3h0m1-7h0m0 1h0m0 3h0m1-5h0m0 1h0m0 5h0m0 2h0m0 3h0m1-7h0m0 5h0m1-11h0m0 3h0m1-2h0m1 0h0m4 1h0m1 0h0m0 2h0m1 0h0m0 3h0m1-2h0m0 7h0m1-4h0m1-1h0m0 3h0m1 0h0m0 6h0m1 3h0m0 13h0m2-7h0m2 55h0m1-25h0m1-20h0m7 77h0" stroke-opacity="0.51"/><path d="M227 436h0m0 2h0m1-1h0m4-1h0m1 0h0m1 0h0m1 0h0m0 2h0m1 0h0" stroke-opacity="0.53"/><path d="M227 437h0m1-1h0m1-1h0m1 0h0m2 0h0m1 0h0" stroke-opacity="0.56"/></g><path d="M179.0 217.3H226.2" stroke="#74ff64" stroke-width="1.25"/><g transform="scale(0.5)" stroke="#00ff00" stroke-width="1.7" stroke-linecap="round" fill="none"><path d="M99 736h0m38-1h0m7-2h0m1-9h0m2-8h0m12 16h0m2-6h0m7-7h0m13-9h0m2 22h0m2-23h0m1 4h0m3 15h0m0 7h0m1-38h0m3-2h0m2 32h0m10-5h0m4-42h0m4 23h0m1-3h0m3-33h0m0 48h0m1-29h0m0 28h0m2-16h0m3-16h0m0 34h0m1-43h0m0 38h0m3-27h0m4-47h0m0 45h0m1-14h0m3-16h0m0 29h0m0 43h0m1-50h0m0 51h0m1-68h0m1-18h0m0 58h0m0 25h0m1-18h0m1-79h0m1 87h0m1-44h0m1 28h0m1-27h0m0 21h0m0 8h0m0 30h0m1-85h0m0 22h0m0 27h0m0 20h0m1-134h0m0 67h0m0 20h0m0 5h0m0 20h0m0 39h0m1-3h0m1-88h0m1 39h0m0 2h0m0 39h0m1-77h0m1-41h0m0 77h0m1-79h0m0 11h0m2 61h0m0 19h0m2-29h0m2-54h0m0 23h0m0 50h0m0 23h0m1-104h0m0 67h0m1 26h0m0 2h0m0 22h0m2-112h0m0 15h0m0 66h0m1 11h0m1-78h0m0 1h0m0 28h0m0 23h0m1-79h0m0 89h0m0 34h0m1-73h0m1-58h0m0 4h0m0 19h0m0 62h0m0 8h0m1-72h0m0 15h0m0 27h0m0 5h0m1-74h0m0 17h0m0 48h0m1-98h0m0 44h0m0 38h0m1-78h0m0 28h0m0 3h0m0 74h0m1-21h0m0 9h0m0 73h0m1-123h0m0 10h0m0 18h0m0 23h0m1-71h0m0 21h0m0 14h0m0 115h0m1-92h0m1-41h0m0 8h0m1-39h0m0 54h0m0 44h0m0 58h0m1-161h0m0 131h0m1-106h0m0 32h0m1-40h0m0 9h0m0 23h0m0 62h0m0 6h0m0 5h0m0 7h0m0 4h0m1-118h0m0 15h0m0 43h0m1-68h0m0 27h0m0 11h0m0 62h0m1-116h0m0 50h0m0 43h0m0 27h0m1-102h0m0 38h0m0 12h0m0 6h0m0 8h0m0 7h0m1-114h0m0 40h0m0 18h0m0 3h0m0 47h0m1-79h0m0 47h0m0 9h0m0 2h0m0 12h0m0 45h0m1-97h0m0 9h0m0 24h0m0 51h0m1-110h0m0 24h0m0 14h0m0 7h0m0 19h0m1 83h0m1-59h0m0 42h0m1-117h0m0 27h0m0 4h0m0 40h0m1-61h0m0 8h0m0 59h0m0 20h0m1-111h0m0 7h0m0 83h0m0 18h0m1-146h0m0 7h0m0 51h0m0 15h0m0 70h0m0 72h0m1-209h0m0 9h0m0 56h0m0 9h0m0 11h0m0 42h0m1-145h0m0 17h0m0 45h0m0 13h0m0 15h0m1-81h0m0 65h0m0 36h0m0 47h0m0 4h0m1-119h0m0 9h0m0 10h0m0 10h0m0 59h0m1-101h0m0 18h0m0 9h0m0 7h0m0 2h0m0 41h0m1-61h0m0 22h0m0 5h0m0 20h0m0 1h0m0 13h0m0 62h0m1-155h0m0 26h0m0 12h0m0 21h0m0 33h0m0 1h0m0 1h0m1-27h0m0 1h0m0 34h0m1-111h0m0 29h0m0 18h0m0 2h0m0 14h0m0 94h0m0 68h0m1-195h0m0 4h0m0 14h0m0 6h0m0 22h0m0 20h0m0 13h0m1-98h0m0 4h0m0 18h0m0 5h0m0 8h0m0 11h0m1-55h0m0 21h0m0 21h0m0 9h0m0 21h0m0 16h0m1-87h0m0 5h0m0 5h0m0 6h0m0 4h0m0 12h0m0 14h0m0 20h0m0 24h0m0 11h0m1-108h0m0 31h0m0 3h0m0 10h0m0 4h0m0 23h0m0 7h0m0 4h0m1-82h0m0 21h0m0 29h0m0 13h0m0 23h0m0 20h0m0 35h0m0 48h0m1-195h0m0 3h0m0 68h0m0 7h0m0 2h0m0 14h0m0 52h0m0 14h0m1-136h0m0 1h0m0 5h0m0 6h0m0 1h0m0 36h0m0 14h0m1-54h0m0 1h0m0 10h0m0 23h0m0 12h0m0 3h0m0 8h0m1-92h0m0 6h0m0 9h0m0 17h0m0 30h0m0 5h0m0 26h0m0 3h0m0 13h0m1-112h0m0 8h0m0 22h0m0 14h0m0 16h0m0 8h0m0 17h0m0 3h0m0 19h0m0 4h0m0 19h0m0 91h0m1-217h0m0 16h0m0 4h0m0 2h0m0 4h0m0 7h0m0 24h0m0 7h0m0 12h0m0 4h0m0 43h0m0 16h0m1-143h0m0 25h0m0 1h0m0 9h0m0 1h0m0 4h0m0 10h0m0 5h0m0 15h0m0 19h0m0 86h0m1-179h0m0 20h0m0 3h0m0 3h0m0 3h0m0 2h0m0 2h0m0 4h0m0 11h0m0 12h0m0 6h0m0 48h0m1-108h0m0 3h0m0 3h0m0 21h0m0 4h0m0 17h0m0 2h0m0 16h0m1-78h0m0 1h0m0 21h0m0 1h0m0 11h0m0 1h0m0 5h0m0 8h0m0 1h0m0 18h0m0 69h0m1-128h0m0 3h0m0 20h0m0 4h0m0 1h0m0 13h0m0 2h0m0 4h0m0 3h0m0 6h0m0 8h0m0 9h0m0 7h0m0 1h0m0 1h0m0 12h0m0 21h0m0 12h0m0 15h0m1-136h0m0 23h0m0 2h0m0 13h0m0 1h0m0 9h0m0 37h0m0 2h0m0 53h0m1-140h0m0 1h0m0 3h0m0 19h0m0 4h0m0 2h0m0 3h0m0 9h0m0 8h0m0 12h0m0 34h0m1-112h0m0 12h0m0 3h0m0 9h0m0 1h0m0 25h0m0 1h0m0 3h0m0 12h0m0 2h0m0 55h0m0 64h0m1-185h0m0 1h0m0 13h0m0 1h0m0 6h0m0 9h0m0 12h0m0 7h0m0 6h0m0 2h0m1-51h0m0 1h0m0 3h0m0 10h0m0 2h0m0 10h0m0 17h0m0 2h0m0 26h0m0 16h0m1-106h0m0 10h0m0 15h0m0 2h0m0 16h0m0 1h0m0 1h0m0 9h0m0 4h0m0 1h0m0 2h0m0 11h0m0 6h0m0 18h0m0 20h0m0 8h0m0 13h0m1-119h0m0 2h0m0 2h0m0 5h0m0 1h0m0 6h0m0 1h0m0 18h0m0 24h0m0 36h0m1-94h0m0 3h0m0 9h0m0 1h0m0 5h0m0 74h0m1-112h0m0 3h0m0 7h0m0 2h0m0 3h0m0 21h0m0 11h0m0 4h0m0 5h0m0 20h0m1-74h0m0 3h0m0 2h0m0 3h0m0 2h0m0 7h0m0 1h0m0 3h0m0 4h0m0 6h0m0 7h0m0 10h0m0 1h0m0 76h0m1-129h0m0 6h0m0 7h0m0 3h0m0 4h0m0 11h0m0 12h0m0 41h0m0 57h0m1-119h0m0 8h0m0 6h0m0 14h0m0 22h0m0 9h0m0 17h0m0 16h0m1-113h0m0 3h0m0 7h0m0 2h0m0 2h0m0 6h0m0 2h0m0 1h0m0 15h0m0 26h0m0 28h0m1-89h0m0 9h0m0 2h0m0 4h0m0 2h0m0 3h0m0 6h0m0 3h0m0 2h0m0 9h0m0 37h0m1-79h0m0 9h0m0 20h0m0 4h0m0 32h0m0 4h0m1-68h0m0 4h0m0 1h0m0 1h0m0 1h0m0 1h0m0 2h0m0 1h0m0 3h0m0 1h0m0 1h0m0 7h0m0 6h0m0 6h0m0 12h0m0 12h0m0 3h0m0 12h0m1-73h0m0 1h0m0 4h0m0 3h0m0 3h0m0 11h0m0 1h0m0 4h0m0 1h0m0 14h0m1-47h0m0 2h0m0 3h0m0 3h0m0 2h0m0 1h0m0 3h0m0 6h0m0 19h0m0 1h0m0 44h0m1-87h0m0 3h0m0 1h0m0 1h0m0 12h0m0 4h0m0 5h0m0 35h0m0 7h0m1-69h0m0 5h0m0 3h0m0 12h0m0 3h0m0 3h0m0 4h0m0 3h0m0 12h0m0 36h0m0 72h0m1-144h0m0 8h0m0 51h0m1-69h0m0 8h0m0 1h0m0 2h0m0 4h0m0 1h0m0 1h0m0 8h0m0 1h0m0 7h0m0 6h0m0 2h0m0 24h0m1-64h0m0 2h0m0 1h0m0 2h0m0 2h0m0 2h0m0 3h0m0 3h0m1-18h0m0 3h0m0 3h0m0 3h0m0 2h0m0 5h0m0 1h0m0 16h0m0 8h0m0 22h0m0 15h0m1-76h0m0 2h0m0 3h0m0 2h0m0 3h0m0 1h0m0 1h0m0 1h0m0 2h0m0 1h0m0 2h0m0 3h0m0 24h0m0 18h0m1-64h0m0 5h0m0 5h0m0 6h0m0 68h0m0 143h0m1-230h0m0 2h0m0 3h0m0 1h0m0 3h0m0 2h0m0 2h0m0 1h0m0 19h0m1-33h0m0 9h0m1-9h0m0 2h0m0 2h0m0 1h0m0 7h0m0 16h0m0 4h0m0 56h0m1-89h0m0 2h0m0 1h0m0 9h0m0 1h0m0 15h0m0 5h0m1-29h0m0 7h0m1-12h0m0 7h0m0 4h0m0 6h0m0 1h0m0 5h0m1-19h0m0 2h0m0 5h0m0 36h0m0 17h0m1-61h0m0 17h0m1-19h0m0 1h0m1-1h0m0 1h0m1 3h0" stroke-opacity="0.50"/><path d="M257 645h0m20-57h0m23 9h0m2-15h0m7-40h0m1 0h0m1-15h0m3-37h0m3 51h0m1-60h0m1 161h0m2-160h0m1 17h0m0 35h0m1-14h0m5 9h0m1-66h0m2-6h0m0 20h0m1-9h0m2 10h0m1-25h0m0 11h0m1-11h0m1-5h0m0 7h0m1-8h0m0 27h0m1-25h0m0 4h0m1-5h0m0 1h0m0 4h0m0 3h0m0 18h0m1-31h0m0 1h0m0 2h0m0 9h0m0 5h0m1 15h0m1-22h0m1-13h0m0 3h0m0 1h0m0 2h0m0 1h0m0 2h0m0 18h0m1-27h0m1 1h0m0 3h0m1-6h0m0 2h0m0 1h0m1-3h0m0 4h0m2-2h0m0 1h0m0 2h0m2-6h0m0 2h0m0 2h0m1-6h0m1 0h0m0 4h0m1-1h0m2-3h0" stroke-opacity="0.60"/><path d="M315 495h0m15-32h0m8-8h0m2-9h0m2 1h0m1 1h0m2-3h0m1-6h0m0 4h0m2-4h0m0 2h0m0 2h0m1-5h0m0 2h0m0 8h0m1-11h0m1 0h0m0 1h0m1 0h0m1-1h0" stroke-opacity="0.66"/><path d="M337 447h0m11-7h0m3-4h0m1 0h0m2 0h0m0 1h0m1-2h0" stroke-opacity="0.69"/><path d="M353 436h0m3-1h0" stroke-opacity="0.72"/></g></g><path d="M26.0 368.3v-1.8M26.0 217.3v1.8M47.3 368.3v-1.8M47.3 217.3v1.8M68.6 368.3v-1.8M68.6 217.3v1.8M89.9 368.3v-1.8M89.9 217.3v1.8M111.2 368.3v-1.8M111.2 217.3v1.8M132.5 368.3v-1.8M132.5 217.3v1.8M153.8 368.3v-1.8M153.8 217.3v1.8M175.1 368.3v-1.8M175.1 217.3v1.8M196.4 368.3v-1.8M196.4 217.3v1.8M217.7 368.3v-1.8M217.7 217.3v1.8M10.5 368.3h1.8M226.2 368.3h-1.8M10.5 353.2h1.8M226.2 353.2h-1.8M10.5 338.1h1.8M226.2 338.1h-1.8M10.5 323.0h1.8M226.2 323.0h-1.8M10.5 307.9h1.8M226.2 307.9h-1.8M10.5 292.8h1.8M226.2 292.8h-1.8M10.5 277.7h1.8M226.2 277.7h-1.8M10.5 262.6h1.8M226.2 262.6h-1.8M10.5 247.5h1.8M226.2 247.5h-1.8M10.5 232.4h1.8M226.2 232.4h-1.8M10.5 217.3h1.8M226.2 217.3h-1.8" stroke="#a0a0a0" stroke-width="0.6" fill="none"/><g font-size="3.4" fill="#222" stroke="#222" stroke-width="0.07"><text x="26.0" y="372.9" text-anchor="middle">0.1</text><text x="47.3" y="372.9" text-anchor="middle">0.15</text><text x="68.6" y="372.9" text-anchor="middle">0.2</text><text x="89.9" y="372.9" text-anchor="middle">0.25</text><text x="111.2" y="372.9" text-anchor="middle">0.3</text><text x="132.5" y="372.9" text-anchor="middle">0.35</text><text x="153.8" y="372.9" text-anchor="middle">0.4</text><text x="175.1" y="372.9" text-anchor="middle">0.45</text><text x="196.4" y="372.9" text-anchor="middle">0.5</text><text x="217.7" y="372.9" text-anchor="middle">0.55</text><text x="9.2" y="370.2" text-anchor="end">0</text><text x="9.2" y="355.1" text-anchor="end">0.1</text><text x="9.2" y="340.0" text-anchor="end">0.2</text><text x="9.2" y="324.9" text-anchor="end">0.3</text><text x="9.2" y="309.8" text-anchor="end">0.4</text><text x="9.2" y="294.7" text-anchor="end">0.5</text><text x="9.2" y="279.6" text-anchor="end">0.6</text><text x="9.2" y="264.5" text-anchor="end">0.7</text><text x="9.2" y="249.4" text-anchor="end">0.8</text><text x="9.2" y="234.3" text-anchor="end">0.9</text><text x="9.2" y="219.2" text-anchor="end">1</text></g><text x="118.3" y="377.3" font-size="3.5" fill="#222" stroke="#222" stroke-width="0.07" text-anchor="middle" xml:space="preserve">Agricultural carbon emissions  (C13)</text><text transform="translate(3.5 293.1) rotate(-90)" font-size="3.4" fill="#222" stroke="#222" stroke-width="0.11" text-anchor="middle">Certainty degree</text><rect x="208.6" y="346.0" width="15.6" height="19.8" fill="#fff" stroke="#a8a8a8" stroke-width="0.6"/><circle cx="214.1" cy="348.4" r="0.45" fill="#ff0000" fill-opacity="0.5"/><text x="218.9" y="349.5" font-size="3.2" fill="#444">V</text><circle cx="214.1" cy="352.2" r="0.45" fill="#ffff00" fill-opacity="0.5"/><text x="218.9" y="353.3" font-size="3.2" fill="#444">IV</text><circle cx="214.1" cy="355.9" r="0.45" fill="#0000ff" fill-opacity="0.5"/><text x="218.9" y="357.0" font-size="3.2" fill="#444">III</text><circle cx="214.1" cy="359.7" r="0.45" fill="#00ffff" fill-opacity="0.5"/><text x="218.9" y="360.8" font-size="3.2" fill="#444">II</text><circle cx="214.1" cy="363.5" r="0.45" fill="#00ff00" fill-opacity="0.5"/><text x="218.9" y="364.6" font-size="3.2" fill="#444">I</text><text x="12.3" y="212.8" font-size="23.6" font-weight="bold" fill="#000">d</text></g><g><path d="M260.7 217.3V368.3M283.1 217.3V368.3M305.5 217.3V368.3M327.9 217.3V368.3M350.3 217.3V368.3M372.7 217.3V368.3M395.1 217.3V368.3M417.5 217.3V368.3M439.9 217.3V368.3M240.6 353.2H455.7M240.6 338.1H455.7M240.6 323.0H455.7M240.6 307.9H455.7M240.6 292.8H455.7M240.6 277.7H455.7M240.6 262.6H455.7M240.6 247.5H455.7M240.6 232.4H455.7" stroke="#ececec" stroke-width="0.6" fill="none"/><rect x="240.6" y="217.3" width="215.1" height="151.0" fill="none" stroke="#bcbcbc" stroke-width="1.0"/><g clip-path="url(#cpe)"><path d="M240.6 217.3H242.2" stroke="#ff4a4a" stroke-width="1.25"/><g transform="scale(0.5)" stroke="#ff0000" stroke-width="1.4" stroke-linecap="round" fill="none"><path d="M485 451h0m1-3h0m0 40h0m0 3h0m0 2h0m1 14h0m0 2h0m0 26h0m0 4h0m0 1h0m0 3h0m0 1h0m1-14h0m0 1h0m0 3h0m0 2h0m0 6h0m0 4h0m0 23h0m0 12h0m0 3h0m0 4h0m0 3h0m0 2h0m0 5h0m0 3h0m0 4h0m1-23h0m0 5h0m0 10h0m0 1h0m0 2h0m0 1h0m0 2h0m0 2h0m0 2h0m0 3h0m0 2h0m0 1h0m0 2h0m0 5h0m0 1h0m0 19h0m0 3h0m0 4h0m0 1h0m1-22h0m0 12h0m0 10h0m0 1h0m0 5h0m0 2h0m0 9h0m0 3h0m0 5h0m0 2h0m0 1h0m0 1h0m0 2h0m0 4h0m0 1h0m1-15h0m0 8h0m0 4h0m0 2h0m0 6h0m0 2h0m0 1h0m0 1h0m0 5h0m0 3h0m0 3h0m0 3h0m0 1h0m1-9h0m0 8h0m0 7h0m0 2h0m0 3h0m1-6h0m0 3h0m0 6h0m0 1h0m0 3h0m0 1h0m0 1h0m4 8h0" stroke-opacity="0.32"/><path d="M486 449h0m0 29h0m0 8h0m0 1h0m0 2h0m0 1h0m1 8h0m0 4h0m0 17h0m0 6h0m0 5h0m0 3h0m0 4h0m0 1h0m0 3h0m1-2h0m0 2h0m0 9h0m0 3h0m0 2h0m0 1h0m0 2h0m0 10h0m0 6h0m0 3h0m0 2h0m0 1h0m0 6h0m0 4h0m0 2h0m0 2h0m1-10h0m0 5h0m0 2h0m0 2h0m0 1h0m0 2h0m0 3h0m0 5h0m0 10h0m0 3h0m0 6h0m0 1h0m0 3h0m0 1h0m0 4h0m0 2h0m0 2h0m0 3h0m1 0h0m0 5h0m0 2h0m0 1h0m0 3h0m0 3h0m0 6h0m0 2h0m0 5h0m0 3h0m0 2h0m0 1h0m0 6h0m1-2h0m0 6h0m0 2h0m0 1h0m0 1h0m0 9h0m0 2h0m0 2h0m1 6h0m0 5h0m0 2h0m0 6h0m1 7h0m1 7h0m1 1h0" stroke-opacity="0.45"/><path d="M486 459h0m0 2h0m0 5h0m0 2h0m0 6h0m0 2h0m0 8h0m0 1h0m1 2h0m0 1h0m0 2h0m0 2h0m0 1h0m0 4h0m0 6h0m0 2h0m0 1h0m0 6h0m0 2h0m0 3h0m0 1h0m0 4h0m0 1h0m0 1h0m0 5h0m0 2h0m0 3h0m1 3h0m0 1h0m0 5h0m0 1h0m0 4h0m0 1h0m0 2h0m0 3h0m0 5h0m0 3h0m0 1h0m0 1h0m0 2h0m0 4h0m0 3h0m0 5h0m0 4h0m0 1h0m0 2h0m1 5h0m0 5h0m0 7h0m0 4h0m0 2h0m0 1h0m0 7h0m0 2h0m0 4h0m0 7h0m0 1h0m0 1h0m0 7h0m1 2h0m0 1h0m0 14h0m0 2h0m0 1h0m0 2h0m0 2h0m0 1h0m0 1h0m1 7h0m1 33h0m0 2h0m1 11h0" stroke-opacity="0.55"/><path d="M485 448h0m0 1h0m0 1h0m1 0h0m0 2h0m0 3h0m0 2h0m0 7h0m0 1h0m0 4h0m0 1h0m0 1h0m0 1h0m0 3h0m0 2h0m0 2h0m0 1h0m0 1h0m0 1h0m0 1h0m1 6h0m0 2h0m0 3h0m0 1h0m0 1h0m0 3h0m0 2h0m0 3h0m0 4h0m0 2h0m0 1h0m0 2h0m0 2h0m0 5h0m0 6h0m0 1h0m0 1h0m0 4h0m1 8h0m0 5h0m0 7h0m0 8h0m0 1h0m0 6h0m0 8h0m1 44h0m1 33h0m0 15h0m1 23h0" stroke-opacity="0.65"/><path d="M485 435h0m0 1h0m0 1h0m0 1h0m0 1h0m0 1h0m0 1h0m0 1h0m0 1h0m0 1h0m0 1h0m0 1h0m0 1h0m1 4h0m0 2h0m0 1h0m0 2h0m0 2h0m0 2h0m0 2h0m0 1h0m0 4h0m0 6h0m1 27h0m0 21h0" stroke-opacity="0.72"/></g><g transform="scale(0.5)" stroke="#ffff00" stroke-width="1.4" stroke-linecap="round" fill="none"><path d="M479 677h0m0 4h0m0 2h0m1-2h0m1-17h0m0 5h0m0 7h0m1-20h0m0 1h0m0 9h0m0 1h0m1-20h0m0 2h0m0 8h0m1-18h0m0 1h0m0 1h0m0 3h0m0 1h0m0 6h0m0 1h0m1-21h0m0 1h0m0 7h0m1-20h0m0 3h0m0 4h0m0 6h0m1-22h0m0 2h0m0 8h0m0 3h0m1-24h0m0 8h0m0 4h0m0 2h0m1-28h0m0 4h0m0 3h0m0 4h0m1-21h0m0 3h0m0 8h0m0 4h0m1-28h0m0 2h0m0 1h0m0 1h0m0 2h0m0 10h0m1-26h0m1 0h0m1-26h0m0 1h0m0 2h0m0 7h0m0 4h0m1-23h0m0 1h0m0 7h0m0 1h0m0 5h0m1-27h0m1-10h0m0 9h0m0 3h0m0 1h0m1-23h0m0 11h0m0 2h0m2-21h0m1-18h0m3-17h0m9 14h0m1 8h0m1 8h0m1 9h0m1 8h0m0 2h0m1-2h0m1 17h0m0 4h0m0 2h0m0 1h0m1-3h0m0 1h0m0 11h0m0 3h0m1 11h0m1-3h0m0 1h0m1 12h0m0 2h0m0 2h0m1 4h0m0 1h0m0 2h0m0 2h0m0 12h0m1-3h0m0 14h0m0 1h0m1-3h0m0 4h0m0 7h0m0 2h0m0 2h0m1-3h0m0 1h0m0 2h0m0 5h0m0 2h0m0 2h0m1-8h0m0 9h0m0 6h0m0 4h0m0 1h0m1-4h0m0 14h0m1-2h0m0 5h0m0 2h0m0 5h0m0 1h0m1-1h0m0 5h0m0 2h0m0 6h0m1-7h0m0 1h0m0 5h0m0 3h0m0 6h0m1-6h0m0 5h0m0 2h0m0 1h0m0 2h0m1 0h0m0 4h0m0 2h0m0 1h0m0 3h0m1 0h0m0 4h0m0 3h0m1 1h0m0 3h0m0 1h0m0 3h0m1-3h0m0 1h0m0 1h0m0 2h0m0 1h0m0 4h0m1-3h0m0 1h0m0 1h0m0 2h0m0 2h0m1 1h0m0 2h0m0 1h0m0 2h0m0 1h0m1-3h0m0 3h0m0 2h0m0 1h0m0 4h0m1-4h0m0 6h0m1-2h0m0 2h0m0 3h0m1 1h0m1 3h0m0 1h0m1 1h0m0 3h0m2 2h0m0 2h0m1-2h0m0 3h0m0 1h0m2 0h0m1 3h0m2 2h0m2 1h0m6 2h0m9 0h0m9 1h0" stroke-opacity="0.22"/><path d="M480 678h0m0 2h0m1-13h0m0 6h0m0 1h0m1-16h0m0 1h0m1-8h0m0 1h0m0 2h0m1-12h0m0 5h0m0 3h0m1-17h0m0 1h0m0 1h0m0 2h0m0 3h0m0 1h0m1-20h0m0 2h0m0 1h0m0 3h0m1-18h0m0 6h0m0 2h0m0 2h0m0 3h0m1-24h0m0 6h0m0 1h0m0 1h0m0 2h0m0 2h0m1-24h0m0 4h0m0 11h0m1-20h0m0 2h0m0 2h0m0 2h0m1-24h0m0 12h0m1-22h0m0 5h0m0 3h0m1-20h0m0 4h0m0 5h0m0 1h0m1-18h0m0 6h0m1-23h0m0 12h0m1-17h0m0 5h0m0 2h0m1-16h0m0 2h0m1-15h0m0 7h0m3-29h0m2-21h0m2-4h0m5-6h0m3 12h0m2 13h0m0 9h0m1 0h0m0 1h0m1 13h0m0 2h0m0 3h0m1 0h0m0 3h0m0 4h0m0 4h0m1 0h0m0 2h0m0 4h0m1 5h0m0 9h0m1 1h0m0 3h0m0 2h0m0 4h0m0 4h0m1 2h0m0 1h0m0 3h0m1 3h0m0 14h0m0 1h0m1 2h0m0 2h0m1 6h0m0 3h0m0 1h0m0 3h0m0 2h0m1 3h0m0 6h0m0 2h0m1 5h0m0 4h0m0 1h0m0 2h0m0 4h0m1-1h0m0 2h0m0 1h0m0 1h0m0 2h0m0 4h0m1 0h0m0 1h0m0 1h0m0 3h0m0 5h0m1 6h0m0 5h0m1 0h0m0 2h0m0 2h0m0 1h0m0 4h0m0 2h0m1-2h0m0 2h0m0 1h0m0 2h0m0 3h0m0 1h0m1 2h0m0 2h0m0 3h0m0 3h0m1 3h0m0 4h0m1-2h0m0 5h0m0 4h0m1 0h0m0 3h0m1 10h0m0 1h0m1 1h0m1 5h0m2 10h0m0 1h0m0 2h0m1 0h0m1 4h0m0 2h0m0 1h0m2 4h0m7 12h0m1 0h0m5 3h0" stroke-opacity="0.32"/><path d="M480 677h0m1-7h0m1-9h0m0 1h0m0 1h0m0 1h0m0 1h0m1-9h0m2-20h0m0 2h0m1-10h0m1-17h0m0 2h0m0 3h0m0 2h0m1-17h0m1-13h0m0 3h0m0 2h0m0 2h0m0 3h0m0 1h0m1-23h0m0 1h0m0 2h0m0 3h0m0 2h0m1-17h0m0 2h0m0 1h0m0 1h0m0 1h0m0 1h0m0 1h0m1-18h0m0 1h0m0 3h0m0 3h0m0 1h0m1-21h0m0 1h0m0 3h0m0 1h0m0 1h0m0 5h0m1-22h0m0 5h0m0 1h0m0 3h0m1-21h0m0 1h0m0 2h0m0 1h0m0 5h0m1-24h0m0 1h0m0 1h0m0 1h0m0 4h0m0 1h0m0 1h0m0 1h0m0 2h0m1-22h0m0 1h0m0 1h0m0 3h0m0 5h0m1-20h0m0 8h0m1-14h0m0 1h0m0 3h0m0 1h0m0 2h0m1-19h0m0 6h0m0 2h0m1-16h0m0 1h0m1-1h0m5-23h0m4 3h0m3 23h0m2 10h0m0 3h0m0 4h0m1 0h0m0 8h0m1 8h0m0 3h0m0 1h0m1 5h0m0 6h0m1 2h0m0 4h0m0 2h0m0 4h0m1 0h0m0 1h0m0 6h0m0 3h0m0 1h0m1 1h0m0 1h0m0 3h0m0 1h0m0 2h0m0 1h0m0 1h0m0 1h0m0 1h0m1-1h0m0 2h0m0 4h0m0 1h0m0 1h0m0 1h0m0 2h0m0 1h0m1 1h0m0 4h0m0 2h0m0 5h0m0 1h0m1 0h0m0 1h0m0 3h0m0 1h0m0 2h0m0 2h0m0 1h0m0 1h0m1 2h0m0 2h0m0 1h0m0 2h0m0 2h0m0 2h0m1 5h0m1 12h0m1 8h0m0 1h0m0 2h0m0 1h0m0 1h0m0 1h0m1 3h0m0 1h0m1 11h0m1 16h0m2 15h0m1 5h0m7 38h0" stroke-opacity="0.39"/><path d="M480 679h0m4-33h0m4-44h0m1-8h0m1-14h0m2-26h0m0 5h0m0 3h0m1-20h0m0 4h0m1-16h0m0 1h0m0 3h0m0 1h0m1-16h0m0 3h0m0 5h0m1-18h0m1-11h0m0 1h0m1-12h0m0 1h0m0 2h0m0 1h0m0 1h0m0 2h0m1-19h0m0 1h0m0 1h0m0 1h0m0 3h0m0 1h0m0 3h0m1-17h0m0 4h0m1-10h0m0 1h0m0 2h0m1-13h0m0 2h0m0 2h0m1-4h0m1-6h0m2-8h0m6 5h0m0 5h0m1 1h0m0 1h0m0 1h0m0 2h0m0 1h0m1 2h0m0 1h0m0 2h0m0 2h0m1 1h0m0 3h0m0 1h0m0 2h0m0 1h0m1 4h0m0 1h0m0 2h0m0 1h0m0 1h0m1 2h0m0 1h0m0 1h0m0 1h0m0 2h0m1 5h0m0 1h0m0 2h0m0 1h0m0 3h0m1 4h0m0 2h0m0 4h0m0 1h0m1 5h0m0 1h0m0 1h0m0 2h0m0 2h0m1 6h0m0 2h0m0 1h0m0 3h0m2 17h0m0 6h0m1 5h0m0 5h0m0 1h0m0 1h0m2 15h0m3 43h0m1 3h0m0 4h0m1 10h0m3 21h0" stroke-opacity="0.45"/><path d="M496 510h0m2-24h0m2-17h0m0 1h0m0 1h0m0 3h0m1-13h0m0 3h0m0 2h0m1-13h0m0 2h0m0 2h0m0 1h0m1-11h0m0 1h0m0 1h0m0 1h0m0 1h0m1-9h0m0 1h0m0 1h0m0 1h0m1-7h0m0 1h0m0 1h0m0 1h0m1-5h0m0 1h0m1-2h0m2 0h0m0 1h0m1 1h0m0 1h0m0 1h0m1 1h0m0 1h0m0 1h0m0 1h0m1 1h0m0 1h0m0 1h0m0 1h0m1 5h0m1 3h0m0 3h0m0 2h0m1 3h0m0 1h0m0 3h0" stroke-opacity="0.50"/></g><g transform="scale(0.5)" stroke="#0000ff" stroke-width="1.4" stroke-linecap="round" fill="none"><path d="M483 733h0m1 0h0m1-1h0m2 0h0m1 0h0m1-2h0m1 0h0m2-3h0m1 0h0m1 0h0m2-2h0m1 0h0m1-4h0m1-1h0m1-2h0m1-2h0m0 2h0m1-4h0m1-2h0m0 3h0m1-6h0m0 2h0m1-1h0m1-5h0m0 3h0m1-4h0m0 3h0m1-2h0m1-7h0m0 2h0m1-4h0m0 4h0m1-9h0m1-2h0m0 3h0m1-3h0m1-11h0m0 3h0m0 1h0m0 3h0m1-5h0m1-10h0m0 4h0m0 1h0m0 1h0m0 1h0m1-8h0m0 2h0m0 1h0m0 2h0m1-8h0m0 2h0m1-15h0m0 1h0m0 4h0m0 1h0m0 2h0m0 4h0m1-15h0m0 2h0m0 3h0m0 3h0m1-12h0m0 3h0m0 4h0m0 1h0m1-11h0m0 1h0m0 2h0m0 1h0m0 2h0m1-14h0m0 3h0m0 5h0m1-11h0m0 2h0m0 1h0m1-12h0m1-9h0m0 8h0m1-11h0m0 2h0m0 3h0m0 3h0m1-14h0m0 1h0m0 3h0m0 1h0m0 1h0m0 3h0m1-18h0m0 8h0m0 3h0m1-17h0m0 1h0m0 1h0m0 2h0m0 6h0m0 2h0m1-21h0m0 3h0m0 6h0m0 3h0m0 1h0m1-18h0m0 2h0m0 2h0m0 6h0m1-17h0m0 1h0m0 2h0m0 1h0m1-9h0m0 2h0m0 4h0m0 1h0m0 1h0m0 4h0m1-22h0m0 1h0m0 1h0m0 6h0m1-14h0m0 1h0m1-9h0m0 2h0m0 1h0m0 2h0m0 5h0m0 1h0m1-18h0m0 3h0m0 7h0m1-16h0m0 2h0m0 6h0m0 2h0m1-7h0m1-7h0m0 1h0m0 1h0m1-6h0m1-18h0m0 8h0m1-6h0m1-14h0m0 8h0m1-14h0m1-6h0m0 1h0m0 6h0m0 1h0m1-6h0m2-17h0m3-12h0m5-13h0m8 0h0m8 25h0m0 1h0m0 5h0m1 5h0m1-1h0m0 6h0m0 1h0m1 4h0m0 2h0m1-2h0m1 14h0m1 7h0m1-3h0m2 15h0m0 2h0m0 5h0m1 4h0m0 6h0m1-5h0m0 11h0m1-3h0m0 4h0m1 3h0m0 2h0m1 4h0m0 4h0m0 4h0m0 1h0m0 2h0m1 0h0m0 2h0m0 2h0m0 2h0m1-3h0m0 2h0m0 6h0m0 1h0m1-3h0m0 5h0m0 2h0m0 3h0m0 1h0m1-4h0m0 1h0m0 1h0m0 5h0m0 3h0m1-2h0m0 8h0m0 2h0m1-4h0m0 1h0m0 7h0m0 1h0m0 1h0m0 1h0m1-6h0m0 5h0m0 4h0m0 2h0m1-5h0m0 7h0m0 3h0m1-2h0m0 3h0m0 3h0m0 1h0m0 4h0m1-5h0m0 3h0m0 1h0m0 5h0m1-5h0m0 2h0m0 5h0m0 6h0m1-5h0m0 6h0m1-1h0m0 2h0m0 2h0m0 5h0m0 3h0m1 2h0m0 3h0m1-8h0m0 13h0m1 1h0m0 1h0m0 2h0m0 2h0m1-3h0m0 1h0m0 7h0m2-1h0m0 9h0m0 1h0m1-2h0m0 1h0m0 2h0m0 4h0m1-4h0m0 1h0m0 4h0m1-4h0m0 5h0m0 1h0m1 0h0m0 1h0m0 2h0m0 1h0m1 0h0m0 1h0m0 3h0m0 1h0m0 4h0m1-5h0m0 1h0m0 1h0m0 3h0m0 1h0m1-5h0m0 1h0m0 5h0m2 3h0m0 1h0m0 1h0m1 2h0m0 2h0m1 0h0m1 1h0m0 3h0m0 1h0m1-1h0m0 1h0m0 1h0m0 1h0m2-1h0m0 3h0m1 1h0m0 1h0m0 1h0m1 1h0m0 2h0m2-1h0m0 1h0m0 1h0m0 1h0m2-1h0m3 5h0m0 1h0m1 1h0m2 1h0m1 1h0m1 1h0m9 3h0m6 1h0m3 0h0" stroke-opacity="0.32"/><path d="M485 733h0m4-2h0m14-17h0m3-7h0m1-1h0m1-5h0m0 1h0m1-5h0m0 4h0m1-6h0m0 3h0m2-8h0m1-7h0m0 1h0m0 2h0m0 2h0m2-7h0m2-14h0m1-4h0m0 1h0m1-7h0m1-6h0m0 2h0m1-5h0m0 7h0m0 2h0m1-18h0m0 2h0m1-7h0m0 2h0m0 1h0m0 2h0m0 1h0m1-10h0m0 1h0m0 2h0m1-7h0m0 3h0m1-6h0m2-19h0m0 3h0m0 5h0m0 1h0m1-14h0m0 3h0m0 1h0m1-8h0m0 2h0m0 1h0m1-11h0m0 1h0m0 1h0m0 2h0m1-10h0m1-10h0m0 3h0m0 3h0m1-9h0m0 1h0m1-11h0m0 5h0m1-12h0m1-10h0m0 6h0m1-13h0m0 3h0m0 2h0m0 2h0m2-14h0m1-11h0m0 1h0m0 3h0m1-12h0m0 9h0m1-11h0m0 4h0m1-14h0m0 1h0m0 5h0m3-23h0m0 1h0m3-12h0m1-10h0m5-14h0m12-3h0m3 13h0m1 5h0m2 6h0m1 2h0m2 11h0m1 12h0m1-1h0m0 7h0m1 4h0m0 2h0m1 0h0m0 7h0m0 1h0m1 0h0m0 5h0m1-1h0m0 3h0m0 4h0m0 1h0m1-1h0m0 1h0m0 6h0m0 1h0m1 2h0m0 1h0m0 4h0m1-1h0m0 4h0m0 3h0m0 1h0m1 3h0m0 1h0m0 3h0m1 0h0m0 1h0m0 5h0m1 0h0m0 11h0m1-1h0m0 2h0m1 10h0m1 7h0m1 0h0m0 1h0m0 1h0m1 5h0m0 3h0m0 1h0m1 2h0m0 3h0m0 2h0m0 2h0m1 0h0m0 1h0m0 4h0m0 3h0m1-2h0m0 2h0m0 1h0m0 3h0m0 1h0m1 5h0m1 2h0m0 2h0m0 1h0m0 2h0m1-1h0m0 7h0m1-1h0m0 3h0m1 6h0m1 3h0m0 1h0m1 9h0m1 2h0m0 2h0m1 1h0m0 1h0m0 2h0m1 5h0m2 7h0m1 2h0m0 4h0m1 1h0m1 4h0m1 5h0m1 6h0m1 0h0m3 8h0m1 2h0m2 4h0m1 1h0m1 5h0m2 2h0m2 3h0m2 1h0m7 6h0m6 3h0" stroke-opacity="0.45"/><path d="M501 717h0m3-4h0m7-20h0m2-6h0m2-8h0m1-7h0m7-31h0m0 1h0m2-18h0m0 1h0m0 2h0m0 3h0m1-12h0m0 2h0m0 1h0m1-7h0m0 1h0m1-7h0m2-15h0m0 3h0m1-11h0m0 1h0m1-7h0m0 3h0m0 1h0m1-8h0m0 1h0m2-17h0m0 2h0m0 3h0m1-14h0m0 2h0m0 4h0m1-12h0m0 4h0m1-13h0m0 7h0m1-14h0m0 2h0m0 1h0m0 3h0m0 2h0m1-14h0m0 1h0m0 1h0m0 5h0m1-14h0m0 4h0m0 2h0m0 1h0m1-13h0m0 2h0m0 2h0m0 1h0m1-11h0m0 2h0m0 2h0m1-9h0m0 1h0m0 1h0m1-10h0m0 1h0m0 1h0m0 1h0m0 2h0m0 1h0m1-8h0m0 1h0m2-17h0m0 1h0m1-1h0m0 1h0m1-10h0m0 2h0m0 2h0m2-13h0m4-13h0m15 9h0m1 8h0m2 9h0m1 2h0m0 1h0m1 6h0m1 8h0m1 0h0m0 2h0m0 3h0m1 2h0m0 1h0m0 2h0m0 1h0m1 0h0m0 1h0m0 1h0m0 1h0m0 1h0m1 4h0m0 1h0m0 2h0m1 2h0m0 1h0m0 4h0m0 3h0m1-1h0m0 5h0m1 3h0m0 1h0m0 2h0m1 3h0m0 1h0m0 3h0m0 1h0m0 1h0m1 2h0m0 1h0m0 3h0m1 0h0m0 1h0m0 2h0m0 4h0m0 1h0m1 3h0m0 3h0m1 3h0m0 1h0m0 2h0m1 8h0m0 1h0m1 1h0m0 1h0m0 1h0m0 2h0m1 4h0m0 1h0m0 1h0m0 1h0m1 6h0m0 1h0m1 4h0m0 1h0m0 3h0m1 5h0m1 7h0m2 13h0m2 8h0m0 4h0m0 1h0m3 14h0m2 11h0m0 2h0m1 2h0m0 2h0m0 1h0m1 1h0m3 12h0" stroke-opacity="0.55"/><path d="M522 645h0m5-33h0m2-11h0m5-36h0m1-5h0m1-7h0m0 1h0m0 3h0m1-11h0m0 3h0m1-11h0m0 2h0m1-8h0m0 1h0m1-8h0m0 1h0m0 2h0m1-10h0m1-8h0m0 2h0m1-10h0m0 2h0m2-10h0m1-10h0m0 1h0m0 1h0m0 1h0m1-6h0m0 1h0m0 1h0m1-9h0m0 3h0m0 1h0m1-11h0m0 2h0m0 1h0m0 1h0m1-7h0m1-4h0m0 2h0m1-6h0m0 2h0m1-4h0m1-7h0m0 2h0m0 1h0m1-3h0m2-8h0m9 0h0m1 0h0m1 5h0m1 3h0m1 0h0m0 1h0m0 2h0m1 2h0m0 1h0m1 1h0m0 3h0m1 1h0m0 1h0m0 2h0m0 1h0m2 6h0m0 3h0m0 1h0m1 1h0m0 1h0m0 1h0m0 2h0m1 3h0m0 1h0m0 1h0m1 3h0m0 3h0m1 2h0m0 3h0m1 8h0m1 4h0m0 2h0m1 5h0m0 2h0m1 5h0m1 6h0m4 29h0m8 53h0m2 14h0m2 11h0" stroke-opacity="0.65"/><path d="M548 475h0m0 1h0m2-10h0m1-7h0m0 2h0m1-6h0m0 2h0m1-6h0m0 1h0m0 1h0m1-5h0m1-4h0m0 1h0m0 1h0m1-4h0m0 1h0m1-3h0m0 1h0m1-3h0m0 1h0m1-3h0m0 1h0m1-2h0m0 1h0m1-1h0m2 0h0m1 0h0m0 1h0m1 0h0m0 1h0m1 1h0m1 2h0m0 1h0m1 1h0m0 1h0m1 1h0m0 1h0m0 1h0m1 3h0m1 2h0m1 4h0m0 1h0m1 4h0m1 4h0m0 2h0m3 13h0m1 8h0" stroke-opacity="0.72"/></g><g transform="scale(0.5)" stroke="#00ffff" stroke-width="1.4" stroke-linecap="round" fill="none"><path d="M517 734h0m4-1h0m2 0h0m3-1h0m2 0h0m2-2h0m0 1h0m1-2h0m3 0h0m1-2h0m0 2h0m1 0h0m2-1h0m2-3h0m2-2h0m1 0h0m1 0h0m2-3h0m0 2h0m1-2h0m1 1h0m1-3h0m0 1h0m1-3h0m0 2h0m0 1h0m1-4h0m0 2h0m1-1h0m1-1h0m0 1h0m1-5h0m0 1h0m1 2h0m1-3h0m0 1h0m1-4h0m0 1h0m0 3h0m1-4h0m1 2h0m2-4h0m1-2h0m1-4h0m0 1h0m0 1h0m0 1h0m1-4h0m1-5h0m0 2h0m0 1h0m1-4h0m0 1h0m1-2h0m0 4h0m1-5h0m0 1h0m2-7h0m0 1h0m0 7h0m1-9h0m0 2h0m0 2h0m1-8h0m0 1h0m1-4h0m0 5h0m1-8h0m0 2h0m0 2h0m1-2h0m0 2h0m1-2h0m1-8h0m0 2h0m0 3h0m1-8h0m0 3h0m1-5h0m0 6h0m0 1h0m1-12h0m0 2h0m0 2h0m0 1h0m0 1h0m1-7h0m1-1h0m0 1h0m0 2h0m0 1h0m1-9h0m0 1h0m0 1h0m0 1h0m0 2h0m0 1h0m1-11h0m0 2h0m0 4h0m1-8h0m0 1h0m0 4h0m0 4h0m1-9h0m0 1h0m1-8h0m0 1h0m0 4h0m0 2h0m1-7h0m0 4h0m1-12h0m0 3h0m0 4h0m0 1h0m1-5h0m0 1h0m1-3h0m1-13h0m0 6h0m0 2h0m0 1h0m1-8h0m0 4h0m1-10h0m0 2h0m0 3h0m0 1h0m0 2h0m1-11h0m0 4h0m1-9h0m0 1h0m0 1h0m0 4h0m1-8h0m1-1h0m1-8h0m0 2h0m0 1h0m0 1h0m0 2h0m0 2h0m1-11h0m0 1h0m1-3h0m0 3h0m0 2h0m1-7h0m0 1h0m1-10h0m0 6h0m0 2h0m0 3h0m1-15h0m0 3h0m0 3h0m0 2h0m1-10h0m0 1h0m0 1h0m0 6h0m1-10h0m0 1h0m0 2h0m1-9h0m1-8h0m0 2h0m0 5h0m1-12h0m0 8h0m0 2h0m0 1h0m1-12h0m0 3h0m0 3h0m1-12h0m0 7h0m0 2h0m1-14h0m0 2h0m0 7h0m1-11h0m0 2h0m0 5h0m1-9h0m0 4h0m1-9h0m0 4h0m0 4h0m1-14h0m0 1h0m0 4h0m0 3h0m1-6h0m1-9h0m2-9h0m0 1h0m0 1h0m0 2h0m0 2h0m0 2h0m1-6h0m1-8h0m0 3h0m0 1h0m0 2h0m1-4h0m0 1h0m1-11h0m1-2h0m1-4h0m0 4h0m1-8h0m0 5h0m1-4h0m0 1h0m1-9h0m0 5h0m2-7h0m2-10h0m1-3h0m0 4h0m1-3h0m1-3h0m1-2h0m1-6h0m2-1h0m3-8h0m4-5h0m1 1h0m13 0h0m0 2h0m1-1h0m4 6h0m1 5h0m2 4h0m1 0h0m3 6h0m0 1h0m2 5h0m0 5h0m1-2h0m0 5h0m1-3h0m0 1h0m0 2h0m0 2h0m2 7h0m1 4h0m0 1h0m1 2h0m0 1h0m1-2h0m0 6h0m1-3h0m0 5h0m0 1h0m2 1h0m0 8h0m1-2h0m1 5h0m0 3h0m1 0h0m1 1h0m0 2h0m0 5h0m0 1h0m1-4h0m0 3h0m0 4h0m0 1h0m1 3h0m1-2h0m0 6h0m0 1h0m1 1h0m0 1h0m1 0h0m1 0h0m0 5h0m0 2h0m0 2h0m1-3h0m0 7h0m0 2h0m1 1h0m1-1h0m0 7h0m1-2h0m0 1h0m0 6h0m1-3h0m0 1h0m0 2h0m0 4h0m0 1h0m1 1h0m0 5h0m1-6h0m0 4h0m0 2h0m0 4h0m1-5h0m0 3h0m0 2h0m0 3h0m1-7h0m0 6h0m0 1h0m0 2h0m1-1h0m0 3h0m0 3h0m0 3h0m1-6h0m0 1h0m0 3h0m0 2h0m0 2h0m1-5h0m0 3h0m0 2h0m0 2h0m1-1h0m0 1h0m0 1h0m0 2h0m1-3h0m0 1h0m0 4h0m0 4h0m1-3h0m1 3h0m0 9h0m1 2h0m0 1h0m1-2h0m0 2h0m0 2h0m0 3h0m1-5h0m0 2h0m0 2h0m0 2h0m0 1h0m1-4h0m0 1h0m0 6h0m1-2h0m1-1h0m0 4h0m0 1h0m0 3h0m0 1h0m0 1h0m1-2h0m0 3h0m0 1h0m1 0h0m0 1h0m0 1h0m0 2h0m1 0h0m0 3h0m1-4h0m0 8h0m0 2h0m0 2h0m1-8h0m0 1h0m0 3h0m0 2h0m0 1h0m2 1h0m0 7h0m1-4h0m0 1h0m0 1h0m0 1h0m0 2h0m0 1h0m1-6h0m1 8h0m0 1h0m0 4h0m1-5h0m0 1h0m0 3h0m0 1h0m1-2h0m0 2h0m0 1h0m0 1h0m0 1h0m2 2h0m0 1h0m0 4h0m0 1h0m1-2h0m1 4h0m1-2h0m0 5h0m0 1h0m1 1h0m1-3h0m0 4h0m1 0h0m0 1h0m2 5h0m0 1h0m1-2h0m0 3h0m1 0h0m0 3h0m1-2h0m0 3h0m0 2h0m1-2h0m1 2h0m2 1h0m0 4h0m1-2h0m1 6h0m1-1h0m1 2h0m2 4h0m0 2h0m1-4h0m1 4h0m0 1h0m1-2h0m2 3h0m0 1h0m1 0h0m0 2h0m2 1h0m1 1h0m1 1h0m1 0h0m1 1h0m2 1h0m0 1h0m1 0h0m1 1h0m9 3h0m0 1h0m9 2h0m1 0h0m9 2h0m7 0h0" stroke-opacity="0.20"/><path d="M545 722h0m1-1h0m14-17h0m1 0h0m0 1h0m1-5h0m0 1h0m1-4h0m1 1h0m1 0h0m4-9h0m1-1h0m3-10h0m0 1h0m0 1h0m0 1h0m1-4h0m1-2h0m1-3h0m1-1h0m0 1h0m1-6h0m0 1h0m1-2h0m2-6h0m3-9h0m0 4h0m1-8h0m0 4h0m1-9h0m1 0h0m1-7h0m0 1h0m1-4h0m1-5h0m0 2h0m0 3h0m1-4h0m0 1h0m1-9h0m0 3h0m0 2h0m1-3h0m2-11h0m0 1h0m1-4h0m0 2h0m1-6h0m0 1h0m0 2h0m1-4h0m0 1h0m2-11h0m0 4h0m1-9h0m0 3h0m1-8h0m0 2h0m0 1h0m0 3h0m1-8h0m0 2h0m0 2h0m1-12h0m0 2h0m0 1h0m0 2h0m1-1h0m1-8h0m0 5h0m1-7h0m1-6h0m0 3h0m2-15h0m0 5h0m1-5h0m2-8h0m0 1h0m0 1h0m1-9h0m0 2h0m0 1h0m0 3h0m1-7h0m1-6h0m0 1h0m0 2h0m0 1h0m1-6h0m0 2h0m1-9h0m0 4h0m1-6h0m0 2h0m2-11h0m0 4h0m2-13h0m1-1h0m0 2h0m1-8h0m0 4h0m1-9h0m1 2h0m5-20h0m1 1h0m8-20h0m1-4h0m4-4h0m6-5h0m10 6h0m6 8h0m3 10h0m2 6h0m1 2h0m1 3h0m2 3h0m0 4h0m2 2h0m0 1h0m0 1h0m3 12h0m2 3h0m0 1h0m0 3h0m1 0h0m0 1h0m0 1h0m0 1h0m0 2h0m1 3h0m0 2h0m1-1h0m1 3h0m0 2h0m1 1h0m0 4h0m1 4h0m0 1h0m1 0h0m0 1h0m0 2h0m2 10h0m1 2h0m0 1h0m1-1h0m0 3h0m0 4h0m1-2h0m0 1h0m0 3h0m0 2h0m1 3h0m1 1h0m1 5h0m0 1h0m0 1h0m1-2h0m0 3h0m0 3h0m0 1h0m1-1h0m0 1h0m1 5h0m0 4h0m1-1h0m0 3h0m0 2h0m1-2h0m0 2h0m1 4h0m0 3h0m1 1h0m0 1h0m1 6h0m0 3h0m1-4h0m1 8h0m0 2h0m1-1h0m0 4h0m0 2h0m1 0h0m1 3h0m0 1h0m1 1h0m1 4h0m1 5h0m0 2h0m1-2h0m0 1h0m1 6h0m1 3h0m2 11h0m1 0h0m0 1h0m2 5h0m0 1h0m1 2h0m2 6h0m0 3h0m1 2h0m3 10h0m1 1h0m1 0h0m0 2h0m1 1h0m0 1h0m1 0h0m0 1h0m1 1h0m1 4h0m1 4h0m2 2h0m3 3h0m1 3h0m2 4h0m0 3h0m1-1h0m3 6h0m2 4h0m15 12h0m2 2h0" stroke-opacity="0.28"/><path d="M558 709h0m1-2h0m3-4h0m5-9h0m9-20h0m9-26h0m1-5h0m1-3h0m3-10h0m3-11h0m0 1h0m1-5h0m1-3h0m4-14h0m1-5h0m0 2h0m1-6h0m0 3h0m2-13h0m1 1h0m1-11h0m0 5h0m1-8h0m1-2h0m0 1h0m1-7h0m0 1h0m1-6h0m0 1h0m0 1h0m0 1h0m0 1h0m0 2h0m1-8h0m1-5h0m0 1h0m0 2h0m1-8h0m0 1h0m0 1h0m0 1h0m1-5h0m1-7h0m2-7h0m1-2h0m1-5h0m0 2h0m1-4h0m1-6h0m0 2h0m1-7h0m1-3h0m0 1h0m1-5h0m0 2h0m1-5h0m0 2h0m1-5h0m1-6h0m0 2h0m0 1h0m0 1h0m1-5h0m0 1h0m1-6h0m0 1h0m0 2h0m1-5h0m1-1h0m2-7h0m0 1h0m1-5h0m1-3h0m0 1h0m1-5h0m1-2h0m1-3h0m1-2h0m0 2h0m1-2h0m11-17h0m14 7h0m2 4h0m1 1h0m3 9h0m1 0h0m3 8h0m2 8h0m0 1h0m1 2h0m1 1h0m0 4h0m2 3h0m0 3h0m1 2h0m0 1h0m1 2h0m0 3h0m1-1h0m0 2h0m0 1h0m1 2h0m0 1h0m0 2h0m1 3h0m2 4h0m0 3h0m0 1h0m2 5h0m0 1h0m1 2h0m0 2h0m1 6h0m1 0h0m0 1h0m0 1h0m1 2h0m0 1h0m0 1h0m1 3h0m0 4h0m1 3h0m1 2h0m0 1h0m1 3h0m0 1h0m1 1h0m0 4h0m1 2h0m1 6h0m1 4h0m1 2h0m0 3h0m1 2h0m1 3h0m0 4h0m5 17h0m1 4h0m0 2h0m1 1h0m0 3h0m0 1h0m1-2h0m1 9h0m1 2h0m8 28h0m2 6h0m6 17h0m1 0h0m5 16h0m3 3h0m5 11h0m18 22h0" stroke-opacity="0.34"/><path d="M594 616h0m8-33h0m1-2h0m12-50h0m2-9h0m1-3h0m1-6h0m0 1h0m2-6h0m2-9h0m0 2h0m1-7h0m1-1h0m2-9h0m1-2h0m1-5h0m0 2h0m0 1h0m1-6h0m0 1h0m0 1h0m1-5h0m0 1h0m0 1h0m1-5h0m0 1h0m1-4h0m0 2h0m1-5h0m1-2h0m1-2h0m1-3h0m0 1h0m3-8h0m1-2h0m1-1h0m0 1h0m1-3h0m1-2h0m5-4h0m8-2h0m3 2h0m3 5h0m4 6h0m0 1h0m1 1h0m0 1h0m3 6h0m1 4h0m1 1h0m0 1h0m0 1h0m1 1h0m1 2h0m0 1h0m1 2h0m0 1h0m2 6h0m0 1h0m0 1h0m1 3h0m1 2h0m0 1h0m1 1h0m0 1h0m1 3h0m0 2h0m1 2h0m3 12h0m0 1h0m2 8h0m0 1h0m3 10h0m1 5h0m2 7h0m4 19h0m15 58h0" stroke-opacity="0.40"/><path d="M621 507h0m14-46h0m3-8h0m1-3h0m0 1h0m1-2h0m1-2h0m2-3h0m1-2h0m1-2h0m0 1h0m1-2h0m1-1h0m1-1h0m1-1h0m1 0h0m1-1h0m5 0h0m1 1h0m1 0h0m1 1h0m1 1h0m1 1h0m1 1h0m1 1h0m1 2h0m0 1h0m1 0h0m0 1h0m1 2h0m3 5h0m0 1h0m1 2h0m1 3h0m1 1h0m0 1h0m2 6h0m1 3h0" stroke-opacity="0.45"/></g><path d="M405.5 217.3H455.7" stroke="#74ff64" stroke-width="1.25"/><g transform="scale(0.5)" stroke="#00ff00" stroke-width="1.4" stroke-linecap="round" fill="none"><path d="M525 736h0m42-1h0m6 0h0m13-2h0m4 0h0m8-1h0m2 0h0m7-3h0m1 1h0m1 0h0m2-1h0m9-2h0m4-3h0m1 0h0m0 1h0m3-4h0m3 0h0m4-1h0m2-3h0m1 0h0m1 0h0m1-1h0m2-3h0m2 2h0m3-3h0m1-3h0m0 2h0m1-2h0m1-1h0m1-2h0m1-1h0m1 0h0m1-1h0m1 3h0m1-4h0m0 2h0m1-2h0m2-2h0m1-2h0m1 0h0m1-1h0m0 1h0m1-1h0m1-5h0m1-1h0m0 2h0m0 2h0m0 1h0m1-5h0m0 2h0m1-1h0m0 1h0m1-5h0m0 2h0m1 0h0m2-4h0m1-4h0m0 2h0m1-1h0m0 1h0m0 3h0m1-5h0m1-3h0m0 1h0m1 1h0m1-2h0m0 1h0m2-9h0m0 2h0m0 4h0m1-4h0m0 2h0m2-8h0m0 3h0m0 1h0m0 2h0m1-8h0m0 3h0m1-5h0m0 3h0m1-3h0m0 1h0m0 2h0m1-2h0m0 1h0m1-5h0m0 3h0m1 0h0m1-7h0m0 1h0m0 2h0m1-2h0m0 2h0m0 1h0m1-7h0m0 1h0m0 1h0m0 2h0m1-6h0m0 3h0m0 1h0m0 1h0m1-6h0m0 2h0m0 1h0m1-4h0m1-5h0m0 6h0m1-8h0m0 2h0m0 3h0m0 1h0m1-6h0m2-2h0m0 1h0m0 2h0m1-9h0m0 1h0m1-2h0m0 3h0m0 7h0m1-9h0m1-7h0m0 5h0m0 1h0m0 1h0m1-7h0m0 3h0m0 4h0m1-7h0m1-3h0m0 1h0m0 2h0m1-9h0m0 3h0m0 3h0m0 1h0m1-5h0m0 6h0m1-9h0m0 1h0m0 4h0m1-7h0m0 1h0m0 2h0m1-9h0m1-1h0m0 2h0m0 2h0m0 1h0m0 1h0m1 0h0m1-11h0m0 1h0m0 5h0m1-3h0m1-5h0m0 3h0m0 1h0m1-7h0m0 1h0m0 2h0m1-5h0m0 2h0m0 1h0m0 1h0m0 1h0m0 1h0m1-10h0m0 1h0m0 5h0m1-5h0m0 2h0m0 3h0m1-10h0m0 6h0m0 1h0m1-9h0m0 2h0m0 7h0m1-10h0m0 1h0m0 2h0m0 3h0m1-6h0m0 1h0m0 1h0m0 1h0m1-7h0m0 1h0m0 1h0m0 1h0m0 2h0m0 1h0m1-9h0m0 1h0m0 4h0m1-9h0m0 2h0m0 5h0m1-10h0m0 2h0m0 3h0m2-9h0m0 1h0m0 1h0m0 3h0m1-7h0m0 1h0m0 3h0m0 2h0m1-8h0m0 2h0m0 3h0m0 3h0m1-13h0m0 2h0m0 1h0m0 2h0m0 3h0m1-8h0m0 1h0m0 1h0m0 1h0m0 1h0m1-9h0m0 7h0m1-3h0m1-1h0m1-4h0m0 1h0m1-8h0m0 1h0m0 1h0m0 1h0m0 2h0m0 1h0m1-2h0m1-10h0m0 3h0m0 4h0m1-3h0m1-6h0m0 1h0m0 3h0m0 5h0m1-13h0m1 0h0m0 3h0m1-9h0m0 4h0m0 3h0m1-7h0m0 2h0m0 1h0m1-8h0m0 1h0m0 1h0m0 1h0m0 2h0m0 3h0m1-10h0m0 1h0m0 1h0m0 3h0m0 1h0m0 2h0m1-7h0m0 1h0m0 2h0m1-8h0m0 5h0m0 3h0m1-10h0m0 5h0m1-7h0m0 4h0m1-8h0m0 1h0m0 3h0m0 2h0m1-7h0m1-3h0m0 2h0m0 3h0m1-6h0m0 5h0m1-4h0m1-6h0m0 4h0m0 1h0m1-7h0m0 2h0m1-4h0m0 2h0m1-1h0m1-1h0m1-3h0m2-9h0m0 1h0m0 4h0m1-2h0m1-3h0m1-2h0m0 1h0m1-2h0m2-8h0m1 2h0m1-6h0m1 2h0m1-1h0m1-2h0m1-3h0m2-6h0m0 1h0m0 3h0m1-5h0m2-3h0m1 2h0m1-2h0m2-5h0m1 1h0m1-1h0m14-12h0" stroke-opacity="0.26"/><path d="M611 728h0m30-12h0m6-3h0m6-7h0m4-4h0m10-11h0m9-12h0m2-4h0m2-2h0m3-2h0m11-24h0m0 5h0m1-4h0m0 2h0m4-10h0m1-2h0m2-1h0m2-5h0m0 1h0m1-6h0m0 4h0m1-4h0m2-4h0m1-3h0m0 1h0m2-5h0m0 1h0m1-5h0m1 1h0m1-4h0m1-3h0m0 2h0m0 1h0m1-6h0m0 1h0m7-16h0m1-4h0m1-3h0m1 1h0m3-9h0m0 1h0m0 1h0m0 1h0m0 1h0m2-9h0m4-10h0m0 2h0m1-6h0m0 2h0m0 3h0m1-7h0m0 1h0m0 2h0m0 1h0m0 2h0m1-6h0m3-11h0m0 3h0m0 1h0m0 1h0m1-4h0m1-2h0m1-5h0m0 3h0m1-5h0m0 2h0m1-5h0m0 1h0m1-2h0m1-2h0m2-3h0m1-4h0m1-4h0m0 2h0m2-7h0m0 3h0m1-3h0m3-7h0m1-4h0m1-2h0m1-2h0m1-2h0m0 1h0m1-3h0m0 1h0m1-5h0m0 1h0m4-9h0m1-2h0m1-2h0m0 3h0m1-5h0m0 3h0m0 1h0m1-3h0m2-6h0m0 1h0m2-5h0m0 3h0m1-4h0m3-3h0m4-8h0m2 0h0m12-13h0m1-2h0" stroke-opacity="0.36"/><path d="M654 706h0m20-24h0m26-43h0m7-15h0m6-12h0m8-20h0m0 1h0m1-3h0m1 0h0m5-15h0m1-3h0m1 0h0m1-3h0m1-4h0m0 2h0m1-4h0m2-4h0m4-9h0m1-4h0m0 1h0m2-7h0m1-3h0m1-1h0m1-4h0m4-7h0m1-4h0m2-4h0m3-7h0m0 2h0m1-4h0m0 1h0m1-4h0m0 1h0m1-4h0m1-1h0m0 1h0m1-2h0m1-2h0m3-7h0m1-2h0m1-3h0m0 1h0m1-3h0m0 1h0m1-4h0m2-4h0m0 1h0m1-3h0m1-2h0m1 0h0m2-6h0m0 2h0m1-3h0m1 0h0m1-3h0m1-1h0m1-2h0m1-2h0m1-2h0m0 2h0m2-3h0m4-7h0m1-1h0m2-1h0m3-4h0m1-1h0m1-1h0m9-5h0m3 0h0" stroke-opacity="0.44"/><path d="M754 512h0m4-9h0m6-13h0m2-5h0m1-2h0m1-1h0m1-3h0m0 1h0m2-4h0m1-2h0m1-3h0m0 1h0m1-1h0m1-3h0m2-3h0m2-4h0m2-2h0m1-2h0m1-2h0m0 1h0m2-4h0m0 1h0m2-2h0m2-3h0m1-2h0m0 1h0m2-3h0m0 1h0m1-2h0m0 1h0m1-1h0m1-1h0m3-3h0m1 0h0m4-3h0m2 0h0" stroke-opacity="0.52"/><path d="M765 488h0m11-21h0m8-13h0m2-3h0m0 1h0m1-2h0m1-1h0m3-4h0m5-4h0m1-1h0m3-2h0m1-1h0m1 0h0m2-1h0m2-1h0m1 0h0" stroke-opacity="0.58"/></g></g><path d="M260.7 368.3v-1.8M260.7 217.3v1.8M283.1 368.3v-1.8M283.1 217.3v1.8M305.5 368.3v-1.8M305.5 217.3v1.8M327.9 368.3v-1.8M327.9 217.3v1.8M350.3 368.3v-1.8M350.3 217.3v1.8M372.7 368.3v-1.8M372.7 217.3v1.8M395.1 368.3v-1.8M395.1 217.3v1.8M417.5 368.3v-1.8M417.5 217.3v1.8M439.9 368.3v-1.8M439.9 217.3v1.8M240.6 368.3h1.8M455.7 368.3h-1.8M240.6 353.2h1.8M455.7 353.2h-1.8M240.6 338.1h1.8M455.7 338.1h-1.8M240.6 323.0h1.8M455.7 323.0h-1.8M240.6 307.9h1.8M455.7 307.9h-1.8M240.6 292.8h1.8M455.7 292.8h-1.8M240.6 277.7h1.8M455.7 277.7h-1.8M240.6 262.6h1.8M455.7 262.6h-1.8M240.6 247.5h1.8M455.7 247.5h-1.8M240.6 232.4h1.8M455.7 232.4h-1.8M240.6 217.3h1.8M455.7 217.3h-1.8" stroke="#a0a0a0" stroke-width="0.6" fill="none"/><g font-size="3.4" fill="#222" stroke="#222" stroke-width="0.07"><text x="260.7" y="372.9" text-anchor="middle">1</text><text x="283.1" y="372.9" text-anchor="middle">2</text><text x="305.5" y="372.9" text-anchor="middle">3</text><text x="327.9" y="372.9" text-anchor="middle">4</text><text x="350.3" y="372.9" text-anchor="middle">5</text><text x="372.7" y="372.9" text-anchor="middle">6</text><text x="395.1" y="372.9" text-anchor="middle">7</text><text x="417.5" y="372.9" text-anchor="middle">8</text><text x="439.9" y="372.9" text-anchor="middle">9</text><text x="239.3" y="370.2" text-anchor="end">0</text><text x="239.3" y="355.1" text-anchor="end">0.1</text><text x="239.3" y="340.0" text-anchor="end">0.2</text><text x="239.3" y="324.9" text-anchor="end">0.3</text><text x="239.3" y="309.8" text-anchor="end">0.4</text><text x="239.3" y="294.7" text-anchor="end">0.5</text><text x="239.3" y="279.6" text-anchor="end">0.6</text><text x="239.3" y="264.5" text-anchor="end">0.7</text><text x="239.3" y="249.4" text-anchor="end">0.8</text><text x="239.3" y="234.3" text-anchor="end">0.9</text><text x="239.3" y="219.2" text-anchor="end">1</text></g><text x="348.1" y="377.3" font-size="3.5" fill="#222" stroke="#222" stroke-width="0.07" text-anchor="middle" xml:space="preserve">Agricultural research expenditure (C22)</text><text transform="translate(233.6 293.1) rotate(-90)" font-size="3.4" fill="#222" stroke="#222" stroke-width="0.11" text-anchor="middle">Certainty degree</text><rect x="438.1" y="346.0" width="15.6" height="19.8" fill="#fff" stroke="#a8a8a8" stroke-width="0.6"/><circle cx="443.6" cy="348.4" r="0.45" fill="#ff0000" fill-opacity="0.5"/><text x="448.4" y="349.5" font-size="3.2" fill="#444">I</text><circle cx="443.6" cy="352.2" r="0.45" fill="#ffff00" fill-opacity="0.5"/><text x="448.4" y="353.3" font-size="3.2" fill="#444">II</text><circle cx="443.6" cy="355.9" r="0.45" fill="#0000ff" fill-opacity="0.5"/><text x="448.4" y="357.0" font-size="3.2" fill="#444">III</text><circle cx="443.6" cy="359.7" r="0.45" fill="#00ffff" fill-opacity="0.5"/><text x="448.4" y="360.8" font-size="3.2" fill="#444">IV</text><circle cx="443.6" cy="363.5" r="0.45" fill="#00ff00" fill-opacity="0.5"/><text x="448.4" y="364.6" font-size="3.2" fill="#444">V</text><text x="449.4" y="377.3" font-size="3.4" fill="#222" stroke="#222" stroke-width="0.07">× 10</text><text x="455.5" y="374.3" font-size="2.4" fill="#222" stroke="#222" stroke-width="0.05">4</text><text x="231.6" y="213.8" font-size="24.2" font-weight="normal" fill="#000" stroke="#000" stroke-width="0.6">e</text></g><g><path d="M468.2 217.3V368.3M490.8 217.3V368.3M513.5 217.3V368.3M536.1 217.3V368.3M558.8 217.3V368.3M581.5 217.3V368.3M604.1 217.3V368.3M626.8 217.3V368.3M649.4 217.3V368.3M672.0 217.3V368.3M468.2 353.2H681.8M468.2 338.1H681.8M468.2 323.0H681.8M468.2 307.9H681.8M468.2 292.8H681.8M468.2 277.7H681.8M468.2 262.6H681.8M468.2 247.5H681.8M468.2 232.4H681.8" stroke="#ececec" stroke-width="0.6" fill="none"/><rect x="468.2" y="217.3" width="213.6" height="151.0" fill="none" stroke="#bcbcbc" stroke-width="1.0"/><g clip-path="url(#cpf)"><path d="M468.2 217.3H468.8" stroke="#ff4a4a" stroke-width="1.25"/><g transform="scale(0.5)" stroke="#ff0000" stroke-width="1.4" stroke-linecap="round" fill="none"><path d="M939 497h0m0 11h0m0 4h0m0 7h0m0 5h0m0 2h0m0 31h0m0 4h0m0 1h0m0 2h0m0 5h0m1-20h0m0 7h0m0 7h0m0 2h0m0 4h0m0 8h0m0 1h0m0 4h0m0 5h0m0 1h0m0 6h0m0 1h0m0 22h0m0 1h0m0 8h0m0 4h0m0 6h0m0 1h0m0 4h0m0 3h0m0 7h0m0 1h0m0 2h0m0 2h0m0 1h0m0 2h0m1-19h0m0 7h0m0 2h0m0 1h0m0 6h0m0 5h0m0 7h0m0 9h0m0 1h0m0 1h0m0 3h0m0 3h0m0 2h0m0 2h0m0 7h0m0 2h0m0 2h0m0 2h0m0 4h0m1-6h0m0 1h0m0 1h0m0 5h0m0 1h0m0 7h0m0 1h0m0 5h0m0 2h0m1-1h0m0 3h0m0 1h0m0 1h0m0 5h0m0 2h0m1 0h0m1 1h0" stroke-opacity="0.32"/><path d="M939 471h0m0 9h0m0 13h0m0 11h0m0 3h0m0 16h0m0 2h0m0 11h0m0 8h0m0 1h0m0 9h0m0 2h0m0 3h0m0 6h0m1 3h0m0 5h0m0 7h0m0 1h0m0 3h0m0 18h0m0 4h0m0 1h0m0 1h0m0 3h0m0 1h0m0 7h0m0 3h0m0 3h0m0 7h0m0 2h0m0 8h0m0 4h0m0 3h0m1-1h0m0 10h0m0 1h0m0 4h0m0 6h0m0 2h0m0 2h0m0 1h0m0 7h0m0 3h0m0 4h0m0 4h0m0 3h0m0 14h0m1-6h0m0 9h0m0 6h0m0 1h0m3 17h0" stroke-opacity="0.45"/><path d="M938 455h0m0 13h0m0 1h0m0 1h0m0 1h0m1-2h0m0 1h0m0 3h0m0 14h0m0 1h0m0 1h0m0 2h0m0 5h0m0 2h0m0 1h0m0 3h0m0 3h0m0 1h0m0 3h0m0 2h0m0 4h0m0 1h0m0 1h0m0 1h0m0 2h0m0 2h0m0 5h0m0 3h0m0 3h0m0 1h0m0 1h0m0 4h0m0 1h0m0 1h0m0 1h0m0 1h0m0 3h0m0 1h0m0 1h0m0 1h0m0 1h0m0 1h0m0 1h0m0 1h0m1 2h0m0 4h0m0 3h0m0 8h0m0 2h0m0 3h0m0 1h0m0 7h0m0 2h0m0 1h0m0 4h0m0 2h0m0 1h0m0 6h0m0 2h0m0 4h0m0 5h0m0 3h0m0 1h0m0 1h0m0 1h0m0 4h0m0 15h0m0 4h0m0 1h0m0 3h0m0 2h0m1 6h0m0 6h0m0 7h0m0 1h0m0 2h0m0 13h0m0 3h0m0 3h0m0 4h0m0 1h0m0 3h0m1 11h0m0 4h0m0 1h0m0 3h0m0 4h0m1 11h0" stroke-opacity="0.55"/><path d="M938 457h0m0 2h0m0 2h0m0 1h0m0 1h0m0 2h0m0 1h0m1 6h0m0 4h0m0 1h0m0 1h0m0 1h0m0 2h0m0 1h0m0 1h0m0 1h0m0 1h0m0 9h0m0 1h0m0 5h0m0 3h0m0 7h0m0 3h0m0 1h0m0 7h0m0 7h0m0 3h0m0 1h0m0 6h0m0 20h0m1 8h0m0 1h0m0 4h0m0 3h0m0 15h0m0 2h0m0 5h0m0 1h0m0 1h0m0 5h0m0 1h0m0 17h0m0 2h0m0 4h0m0 1h0m0 1h0m1 31h0m0 6h0m0 9h0m2 54h0m0 2h0" stroke-opacity="0.65"/><path d="M938 435h0m0 1h0m0 1h0m0 1h0m0 1h0m0 1h0m0 1h0m0 1h0m0 1h0m0 1h0m0 1h0m0 1h0m0 1h0m0 1h0m0 1h0m0 1h0m0 1h0m0 1h0m0 1h0m0 1h0m0 2h0m0 2h0m0 2h0m0 4h0m0 3h0m1 7h0m0 1h0m0 11h0m0 4h0m0 2h0m0 9h0" stroke-opacity="0.72"/></g><g transform="scale(0.5)" stroke="#ffff00" stroke-width="1.4" stroke-linecap="round" fill="none"><path d="M934 722h0m1-8h0m0 7h0m0 1h0m1-16h0m0 1h0m0 2h0m0 3h0m0 1h0m1-23h0m0 6h0m0 9h0m1-39h0m0 4h0m0 5h0m0 1h0m0 1h0m0 6h0m0 1h0m0 1h0m0 4h0m0 1h0m0 3h0m0 2h0m1-50h0m0 4h0m0 1h0m0 1h0m0 1h0m0 3h0m0 2h0m0 5h0m0 3h0m0 2h0m0 6h0m0 1h0m0 1h0m0 4h0m1-59h0m0 1h0m0 5h0m0 3h0m0 5h0m0 3h0m0 1h0m0 2h0m0 9h0m0 1h0m0 2h0m1-65h0m0 4h0m0 1h0m0 4h0m0 1h0m0 4h0m0 10h0m0 3h0m0 4h0m0 3h0m0 3h0m0 1h0m1-77h0m0 3h0m0 1h0m0 4h0m0 2h0m0 1h0m0 8h0m0 18h0m0 3h0m0 5h0m0 1h0m1-76h0m0 2h0m0 2h0m0 4h0m0 8h0m0 1h0m0 7h0m0 4h0m0 15h0m1-76h0m0 24h0m0 7h0m0 6h0m1-63h0m0 30h0m1-28h0m2-21h0m1-1h0m0 18h0m1 25h0m1-3h0m0 34h0m0 1h0m0 3h0m0 2h0m1-8h0m0 1h0m0 1h0m0 7h0m0 1h0m0 16h0m0 11h0m0 3h0m0 3h0m1-9h0m0 2h0m0 2h0m0 4h0m0 1h0m0 6h0m0 8h0m0 10h0m0 1h0m0 1h0m0 9h0m0 6h0m1-14h0m0 1h0m0 5h0m0 2h0m0 1h0m0 3h0m0 10h0m0 3h0m0 7h0m0 2h0m0 7h0m1-8h0m0 2h0m0 11h0m0 1h0m0 1h0m0 6h0m0 4h0m0 1h0m0 1h0m0 1h0m0 1h0m0 4h0m1-5h0m0 1h0m0 6h0m0 5h0m0 1h0m0 6h0m0 4h0m0 1h0m0 1h0m0 4h0m0 2h0m1-6h0m0 2h0m0 4h0m0 1h0m0 9h0m0 1h0m0 3h0m0 2h0m1-4h0m0 3h0m0 3h0m0 5h0m0 1h0m0 1h0m0 3h0m1 2h0m0 6h0m0 3h0m0 1h0m0 1h0m0 3h0m1-4h0m0 2h0m0 4h0m1 0h0m0 1h0m0 1h0m0 3h0m1 1h0m0 1h0m0 1h0m0 1h0m0 1h0m1 1h0m0 4h0m4 2h0" stroke-opacity="0.22"/><path d="M935 716h0m0 2h0m0 1h0m1-14h0m0 3h0m0 3h0m0 4h0m1-23h0m0 1h0m0 1h0m0 5h0m1-28h0m0 1h0m0 7h0m0 7h0m0 1h0m1-34h0m0 3h0m0 2h0m0 2h0m0 3h0m0 1h0m0 7h0m1-49h0m0 1h0m0 7h0m0 1h0m0 2h0m0 6h0m0 2h0m0 1h0m0 6h0m1-58h0m0 3h0m0 1h0m0 4h0m0 2h0m0 3h0m0 5h0m0 2h0m0 3h0m0 4h0m0 9h0m1-71h0m0 2h0m0 3h0m0 4h0m0 11h0m0 5h0m1-57h0m0 1h0m0 9h0m0 19h0m0 1h0m1-67h0m0 1h0m0 2h0m0 1h0m0 1h0m0 5h0m0 3h0m0 7h0m0 6h0m0 7h0m0 4h0m6-40h0m1-3h0m0 4h0m0 14h0m0 4h0m0 2h0m1 11h0m0 1h0m0 2h0m0 9h0m0 6h0m0 6h0m0 7h0m0 4h0m1-2h0m0 15h0m0 3h0m0 7h0m0 2h0m0 1h0m0 6h0m0 6h0m1-3h0m0 1h0m0 9h0m0 1h0m0 4h0m0 5h0m0 2h0m0 5h0m0 5h0m1-6h0m0 4h0m0 8h0m0 3h0m0 4h0m0 6h0m0 9h0m1 1h0m0 6h0m0 4h0m0 2h0m0 2h0m0 4h0m1 7h0m0 1h0m0 6h0m0 3h0m0 4h0m1 10h0m0 4h0m0 1h0m0 2h0m1 4h0m0 1h0m1 9h0m0 2h0m5 17h0" stroke-opacity="0.32"/><path d="M937 704h0m1-31h0m0 5h0m0 4h0m1-28h0m0 5h0m0 9h0m0 2h0m1-46h0m0 3h0m0 1h0m0 4h0m0 4h0m0 7h0m0 1h0m0 1h0m1-57h0m0 7h0m0 7h0m0 4h0m0 1h0m0 2h0m0 3h0m0 4h0m0 7h0m1-58h0m0 1h0m0 3h0m0 5h0m0 2h0m0 1h0m0 1h0m0 3h0m0 1h0m0 1h0m0 1h0m0 2h0m0 1h0m0 2h0m0 1h0m1-63h0m0 1h0m0 2h0m0 2h0m0 4h0m0 2h0m0 1h0m0 1h0m0 3h0m0 1h0m0 1h0m0 2h0m0 1h0m0 2h0m0 4h0m0 2h0m0 1h0m1-69h0m0 7h0m0 3h0m0 2h0m0 1h0m0 3h0m0 1h0m0 5h0m0 1h0m0 2h0m0 4h0m0 4h0m1-61h0m0 5h0m0 5h0m0 3h0m0 2h0m0 8h0m0 3h0m0 1h0m1-28h0m3-6h0m1 3h0m0 5h0m0 8h0m0 10h0m0 1h0m0 1h0m1 1h0m0 10h0m0 1h0m0 1h0m0 3h0m0 3h0m0 10h0m0 1h0m0 1h0m1 5h0m0 2h0m0 3h0m0 1h0m0 1h0m0 2h0m0 2h0m0 4h0m0 2h0m0 6h0m0 2h0m0 2h0m0 1h0m0 2h0m1 3h0m0 2h0m0 3h0m0 2h0m0 1h0m0 3h0m0 1h0m0 7h0m0 1h0m0 1h0m0 1h0m0 2h0m1 14h0m0 3h0m0 3h0m0 3h0m0 2h0m0 2h0m0 7h0m0 1h0m0 1h0m0 1h0m1 7h0m0 1h0m0 1h0m0 1h0m0 1h0m0 3h0m0 6h0m0 1h0m0 1h0m0 5h0m1 9h0m0 1h0m0 2h0m0 1h0m0 6h0m0 13h0m1 0h0m0 5h0m0 1h0m0 1h0m0 3h0m0 2h0m1 7h0m0 1h0m0 2h0m0 2h0m1 14h0m0 2h0m0 1h0m1 3h0" stroke-opacity="0.39"/><path d="M938 688h0m2-63h0m1-21h0m0 11h0m1-54h0m0 2h0m0 5h0m0 2h0m0 1h0m0 1h0m0 7h0m1-60h0m0 2h0m0 4h0m0 4h0m0 2h0m0 6h0m0 4h0m0 10h0m1-59h0m0 1h0m0 4h0m0 5h0m0 1h0m0 5h0m0 7h0m0 3h0m0 2h0m1-58h0m0 2h0m0 2h0m0 1h0m0 1h0m0 1h0m0 2h0m0 1h0m0 2h0m0 2h0m0 1h0m0 1h0m0 1h0m0 3h0m0 2h0m0 1h0m1-43h0m0 11h0m0 2h0m0 5h0m1-18h0m2 9h0m0 1h0m0 3h0m0 1h0m1-1h0m0 3h0m0 1h0m0 1h0m0 3h0m0 2h0m0 3h0m0 2h0m0 1h0m0 1h0m0 3h0m0 1h0m0 1h0m1 4h0m0 2h0m0 2h0m0 1h0m0 1h0m0 1h0m0 1h0m0 1h0m0 5h0m0 1h0m0 3h0m0 2h0m0 2h0m0 2h0m0 1h0m0 1h0m0 1h0m0 1h0m1 16h0m0 4h0m0 1h0m0 1h0m0 5h0m0 2h0m0 3h0m0 2h0m1 8h0m0 8h0m0 6h0m0 2h0m0 10h0m1 21h0m0 6h0m1 33h0m4 68h0m1 12h0" stroke-opacity="0.45"/><path d="M942 573h0m2-79h0m0 13h0m0 7h0m1-53h0m0 2h0m0 17h0m0 1h0m1-38h0m0 1h0m0 1h0m0 1h0m0 1h0m0 1h0m0 1h0m0 1h0m0 1h0m0 1h0m0 2h0m0 2h0m0 1h0m0 1h0m1-23h0m0 1h0m0 1h0m0 1h0m0 1h0m0 1h0m0 1h0m1-6h0m0 1h0m0 1h0m0 1h0m0 1h0m1 1h0m0 1h0m0 1h0m0 1h0m0 1h0m0 1h0m0 1h0m0 1h0m0 1h0m0 1h0m0 1h0m0 4h0m1 3h0m0 5h0m0 2h0m0 2h0m0 1h0m0 6h0m0 1h0m0 4h0m1 13h0m1 44h0" stroke-opacity="0.50"/></g><g transform="scale(0.5)" stroke="#0000ff" stroke-width="1.4" stroke-linecap="round" fill="none"><path d="M935 723h0m1 2h0m1-5h0m0 2h0m0 1h0m0 2h0m1-6h0m1-4h0m0 1h0m0 1h0m1-4h0m0 2h0m1-6h0m0 2h0m1-11h0m0 5h0m0 1h0m0 2h0m0 2h0m1-12h0m0 1h0m0 4h0m1-11h0m0 1h0m0 4h0m0 1h0m0 5h0m1-14h0m0 2h0m0 1h0m0 4h0m1-11h0m0 2h0m1-14h0m0 2h0m0 4h0m0 3h0m1-17h0m0 4h0m0 1h0m0 1h0m0 3h0m0 1h0m0 1h0m0 1h0m1-22h0m0 2h0m0 1h0m0 2h0m0 1h0m0 2h0m0 5h0m1-26h0m0 1h0m0 3h0m0 3h0m0 7h0m0 3h0m0 2h0m1-24h0m0 2h0m0 4h0m0 1h0m0 5h0m0 1h0m1-26h0m0 4h0m0 2h0m0 5h0m0 4h0m1-28h0m0 5h0m0 10h0m0 2h0m0 1h0m0 7h0m1-35h0m0 1h0m0 6h0m0 1h0m0 1h0m0 1h0m0 3h0m0 3h0m0 3h0m1-34h0m0 5h0m0 5h0m0 1h0m0 4h0m0 1h0m0 1h0m0 2h0m1-30h0m0 3h0m0 9h0m0 1h0m0 1h0m0 5h0m0 1h0m0 1h0m0 3h0m1-36h0m0 6h0m0 4h0m0 4h0m0 2h0m1-26h0m0 5h0m0 5h0m0 3h0m1-19h0m1-24h0m0 2h0m0 1h0m0 16h0m1-34h0m0 2h0m0 1h0m0 1h0m0 11h0m0 1h0m0 2h0m0 4h0m1-30h0m0 1h0m0 15h0m1-18h0m0 3h0m0 1h0m1-27h0m0 1h0m1-7h0m0 5h0m0 3h0m0 2h0m1-22h0m0 11h0m1-18h0m1 1h0m7-4h0m3 13h0m0 11h0m0 2h0m1-3h0m0 12h0m1-1h0m0 12h0m0 1h0m1 12h0m0 1h0m0 1h0m0 1h0m1-7h0m0 2h0m0 1h0m0 2h0m0 12h0m0 1h0m0 1h0m1 12h0m0 2h0m0 1h0m1 10h0m1-4h0m0 1h0m0 12h0m0 3h0m0 1h0m1-4h0m0 1h0m0 1h0m0 14h0m0 5h0m1-5h0m0 4h0m0 4h0m0 5h0m0 7h0m1-7h0m0 2h0m0 1h0m0 12h0m1-1h0m0 2h0m0 1h0m0 6h0m0 6h0m1 0h0m1 5h0m0 2h0m0 1h0m0 2h0m0 4h0m1 5h0m0 4h0m0 7h0m1-3h0m0 4h0m0 1h0m0 3h0m0 4h0m0 1h0m0 1h0m1-2h0m0 1h0m0 1h0m0 1h0m0 7h0m0 1h0m0 2h0m1-6h0m0 5h0m0 2h0m0 1h0m0 2h0m0 2h0m0 2h0m1-5h0m0 8h0m0 3h0m0 1h0m1-5h0m0 1h0m0 1h0m0 3h0m0 6h0m0 3h0m1-3h0m0 1h0m0 2h0m0 2h0m0 2h0m0 1h0m1-1h0m0 1h0m0 1h0m0 1h0m0 2h0m1-5h0m0 1h0m0 1h0m0 2h0m0 1h0m0 2h0m1 6h0m1-1h0m1 7h0m0 2h0m0 2h0m1-3h0m0 3h0m1 4h0m3 4h0m1 2h0m0 2h0m1-1h0m2 4h0m5 3h0m5 2h0m13 1h0" stroke-opacity="0.32"/><path d="M938 720h0m4-16h0m1-2h0m1-2h0m1-13h0m0 3h0m0 3h0m1-7h0m0 5h0m1-19h0m0 5h0m0 1h0m0 5h0m1-17h0m0 6h0m0 1h0m1-9h0m0 3h0m1-20h0m0 3h0m0 4h0m0 1h0m0 2h0m1-16h0m0 5h0m0 1h0m1-21h0m0 6h0m0 1h0m0 3h0m1-22h0m0 1h0m0 2h0m0 2h0m0 8h0m1-21h0m0 1h0m0 6h0m0 2h0m1-21h0m1-14h0m0 10h0m0 2h0m1-25h0m0 1h0m0 6h0m0 7h0m1-32h0m1-9h0m0 2h0m0 1h0m0 3h0m0 4h0m0 2h0m0 1h0m1-24h0m0 1h0m0 4h0m1-19h0m0 1h0m0 1h0m0 11h0m1-29h0m0 6h0m1-13h0m1-3h0m1-11h0m2-19h0m9-6h0m1 9h0m1-1h0m0 1h0m0 10h0m1 9h0m0 2h0m1 8h0m1 1h0m0 1h0m0 1h0m0 11h0m1 12h0m0 1h0m1 3h0m1 7h0m0 4h0m0 1h0m0 7h0m0 1h0m0 4h0m1 1h0m0 1h0m0 4h0m0 5h0m0 1h0m1 1h0m0 1h0m0 5h0m1 8h0m0 5h0m0 1h0m0 2h0m0 2h0m0 1h0m0 4h0m1-6h0m0 4h0m0 4h0m0 1h0m0 2h0m0 1h0m0 1h0m0 2h0m1 1h0m0 2h0m0 3h0m0 2h0m0 5h0m1 6h0m0 4h0m0 3h0m1 7h0m0 1h0m0 1h0m1 3h0m1 12h0m0 1h0m0 2h0m0 2h0m1 8h0m1 9h0m1 3h0m0 1h0m0 1h0m0 4h0m0 1h0m1 3h0m0 3h0m1-1h0m0 2h0m0 3h0m1 4h0m1 11h0m1 1h0m0 3h0m1 1h0m3 11h0m1 0h0m0 2h0m2 4h0m1 2h0" stroke-opacity="0.45"/><path d="M943 704h0m1-9h0m3-15h0m2-15h0m1-14h0m0 1h0m0 1h0m1-13h0m1-9h0m0 3h0m0 3h0m0 3h0m1-20h0m0 2h0m0 2h0m0 1h0m2-30h0m0 3h0m0 6h0m1-25h0m0 2h0m0 1h0m0 1h0m0 1h0m0 1h0m0 1h0m0 7h0m1-27h0m0 5h0m0 1h0m0 3h0m0 1h0m0 2h0m1-24h0m0 1h0m0 1h0m0 3h0m0 1h0m0 2h0m0 3h0m1-26h0m0 6h0m0 3h0m1-21h0m0 5h0m0 1h0m0 2h0m0 1h0m0 2h0m0 2h0m0 1h0m1-28h0m0 5h0m0 2h0m0 2h0m1-19h0m0 4h0m0 1h0m0 3h0m0 1h0m0 1h0m1-25h0m0 1h0m0 1h0m0 1h0m0 4h0m0 2h0m1-20h0m0 1h0m0 6h0m1-17h0m0 5h0m1-14h0m0 4h0m0 5h0m1-10h0m0 1h0m2-14h0m5-3h0m3 12h0m0 7h0m0 1h0m2 16h0m0 3h0m1 5h0m0 3h0m0 4h0m1 3h0m0 5h0m0 3h0m1 5h0m0 2h0m0 4h0m0 1h0m1 2h0m0 1h0m0 1h0m0 1h0m0 3h0m0 6h0m0 2h0m1-1h0m0 4h0m0 1h0m0 2h0m0 2h0m0 3h0m0 1h0m1 1h0m0 4h0m0 1h0m0 1h0m0 3h0m0 1h0m1 6h0m0 1h0m0 1h0m0 1h0m0 2h0m0 1h0m0 4h0m1 3h0m0 1h0m0 7h0m1 7h0m0 9h0m1 6h0m0 2h0m1 6h0m0 1h0m0 4h0m0 1h0m0 1h0m1 6h0m0 1h0m0 1h0m0 2h0m1 10h0m0 1h0m0 1h0m0 1h0m1 2h0m2 20h0m0 2h0m1 9h0m1 8h0m0 1h0m4 22h0m1 2h0m2 8h0" stroke-opacity="0.55"/><path d="M949 662h0m2-17h0m4-46h0m0 1h0m3-43h0m0 4h0m0 3h0m1-13h0m1-23h0m0 3h0m0 6h0m1-23h0m0 5h0m0 2h0m0 4h0m1-23h0m0 2h0m0 2h0m0 4h0m1-17h0m0 1h0m0 2h0m0 3h0m0 1h0m1-20h0m0 1h0m0 1h0m0 1h0m0 2h0m0 1h0m0 1h0m0 1h0m1-20h0m0 2h0m0 1h0m0 4h0m0 1h0m1-17h0m0 1h0m0 1h0m0 2h0m0 2h0m0 1h0m1-12h0m0 2h0m1-12h0m0 6h0m1-11h0m3-4h0m3 6h0m1 5h0m0 4h0m0 2h0m2 12h0m0 2h0m0 3h0m0 1h0m1 1h0m0 1h0m0 1h0m0 1h0m0 1h0m0 1h0m0 2h0m0 1h0m1 3h0m0 1h0m0 3h0m0 1h0m0 2h0m0 1h0m1 6h0m0 1h0m0 1h0m0 1h0m0 2h0m0 3h0m1 5h0m0 2h0m0 1h0m0 1h0m0 3h0m1 6h0m0 2h0m0 1h0m0 1h0m0 1h0m0 1h0m0 2h0m1 6h0m0 2h0m0 6h0m1 8h0m1 15h0m0 1h0m0 1h0m2 26h0m1 11h0m1 15h0m2 12h0m2 24h0" stroke-opacity="0.65"/><path d="M962 509h0m2-30h0m1-6h0m1-9h0m1-13h0m0 1h0m0 1h0m0 2h0m1-10h0m0 1h0m0 1h0m0 1h0m0 1h0m1-9h0m0 1h0m0 1h0m0 1h0m1-7h0m0 1h0m0 1h0m0 1h0m1-4h0m0 1h0m2-1h0m0 1h0m0 1h0m1 0h0m0 1h0m0 1h0m0 1h0m1 2h0m0 1h0m0 1h0m0 1h0m0 1h0m1 1h0m0 1h0m0 1h0m0 2h0m1 3h0m0 1h0m0 1h0m0 1h0m0 1h0m0 1h0m1 4h0m0 2h0m0 2h0m0 1h0m2 16h0m1 18h0" stroke-opacity="0.72"/></g><g transform="scale(0.5)" stroke="#00ffff" stroke-width="1.4" stroke-linecap="round" fill="none"><path d="M935 729h0m1 0h0m2 0h0m2-2h0m1-2h0m1 0h0m0 1h0m1-1h0m1-1h0m2 0h0m1-3h0m0 1h0m1-2h0m0 1h0m1-2h0m0 1h0m2-2h0m1-4h0m2 0h0m0 1h0m0 1h0m1-5h0m0 2h0m1-3h0m1-3h0m0 3h0m1-1h0m1-4h0m1-1h0m0 1h0m0 2h0m1-5h0m0 1h0m1-2h0m1-1h0m1-5h0m0 1h0m1-6h0m0 2h0m0 1h0m0 2h0m1-5h0m0 3h0m0 2h0m1-7h0m1-4h0m0 2h0m0 3h0m1-6h0m0 3h0m1-7h0m0 4h0m0 2h0m1-8h0m0 1h0m0 3h0m0 1h0m0 2h0m1-5h0m1-9h0m0 3h0m0 1h0m0 2h0m1-10h0m1 0h0m0 7h0m1-13h0m0 2h0m0 3h0m0 5h0m1-7h0m1-11h0m0 2h0m1-3h0m0 3h0m0 2h0m1-7h0m0 1h0m0 1h0m0 1h0m1-13h0m0 3h0m0 1h0m0 1h0m0 1h0m0 1h0m0 4h0m1-12h0m0 1h0m0 4h0m1-11h0m0 1h0m0 3h0m0 3h0m1-11h0m0 3h0m0 2h0m0 1h0m1-5h0m0 1h0m1-10h0m0 3h0m0 1h0m1-7h0m0 1h0m1-8h0m0 4h0m0 3h0m0 1h0m1-11h0m0 1h0m0 7h0m1-9h0m0 3h0m0 3h0m1-13h0m0 3h0m1-11h0m0 8h0m0 3h0m1-16h0m0 4h0m0 1h0m0 2h0m0 1h0m1-11h0m0 6h0m0 2h0m1-16h0m0 2h0m0 2h0m0 3h0m1-13h0m0 1h0m0 3h0m0 3h0m1-10h0m0 1h0m0 5h0m1-15h0m0 2h0m0 1h0m0 7h0m0 1h0m1-13h0m0 7h0m1-12h0m0 7h0m0 2h0m1-16h0m0 1h0m0 5h0m0 3h0m1-13h0m0 1h0m0 1h0m0 2h0m0 2h0m0 3h0m1-14h0m0 3h0m0 3h0m1-14h0m0 2h0m0 1h0m0 7h0m1-13h0m0 1h0m0 5h0m2-16h0m1-6h0m0 7h0m0 1h0m0 1h0m1-7h0m1-12h0m0 8h0m0 1h0m1-14h0m1 4h0m2-17h0m1-4h0m0 6h0m1-11h0m0 1h0m1 2h0m2-13h0m2-6h0m0 4h0m4-15h0m3-3h0m17 10h0m0 4h0m1 3h0m1-1h0m0 4h0m3 6h0m0 1h0m0 5h0m2 8h0m1 5h0m1-2h0m0 7h0m1 4h0m1-1h0m1 4h0m0 7h0m0 2h0m1-3h0m0 5h0m0 1h0m1 4h0m1-3h0m0 2h0m0 1h0m0 2h0m0 4h0m1 2h0m0 2h0m0 1h0m0 1h0m2 3h0m0 7h0m0 2h0m1-5h0m0 1h0m0 5h0m0 1h0m0 1h0m0 1h0m1-5h0m0 3h0m0 7h0m1-4h0m0 1h0m0 3h0m0 1h0m0 3h0m1-1h0m0 6h0m0 2h0m1-3h0m0 1h0m0 1h0m0 4h0m0 2h0m0 1h0m2 2h0m1 10h0m1-2h0m0 2h0m0 1h0m0 1h0m0 4h0m1-4h0m0 3h0m0 1h0m0 4h0m1 2h0m0 4h0m0 2h0m1-4h0m0 3h0m0 6h0m0 1h0m1-3h0m0 6h0m0 1h0m0 1h0m1-1h0m1 2h0m1 5h0m0 1h0m0 4h0m0 1h0m1-2h0m0 1h0m0 4h0m1 1h0m0 2h0m0 1h0m0 2h0m0 3h0m0 2h0m1-7h0m0 4h0m0 1h0m0 1h0m0 1h0m0 1h0m0 1h0m1-5h0m0 2h0m0 3h0m0 3h0m1-3h0m0 2h0m0 3h0m0 1h0m1 0h0m0 3h0m1-1h0m0 1h0m0 5h0m0 1h0m1 1h0m0 3h0m0 2h0m1-6h0m0 1h0m0 3h0m0 2h0m1 0h0m0 1h0m0 1h0m0 1h0m1 3h0m0 2h0m1-3h0m0 1h0m0 1h0m0 4h0m0 2h0m1-5h0m0 3h0m0 5h0m1 4h0m1-4h0m0 1h0m0 3h0m0 4h0m1-5h0m0 3h0m0 3h0m0 2h0m1-4h0m0 5h0m1-1h0m0 2h0m0 2h0m0 1h0m2-1h0m0 2h0m0 3h0m1-2h0m0 1h0m0 2h0m0 1h0m1 2h0m1 1h0m1 1h0m0 2h0m1 1h0m1 1h0m0 3h0m1 2h0m2 2h0m1 3h0m1 1h0m1-2h0m0 4h0m1 0h0m2 0h0m0 3h0m0 1h0m1 0h0m0 1h0m1-1h0m0 1h0m1 1h0m1 0h0m0 2h0m1 0h0m0 1h0m1-1h0m0 2h0m0 1h0m2 1h0m1-1h0m0 2h0m2 1h0m11 5h0m7 2h0m5 1h0m1 0h0m3 1h0m3 0h0m1 0h0m1 0h0m4 1h0m7 0h0" stroke-opacity="0.20"/><path d="M950 719h0m3-2h0m2-5h0m1-1h0m2-4h0m3-3h0m0 1h0m3-8h0m0 1h0m2-6h0m1-3h0m0 1h0m0 1h0m4-12h0m1-3h0m3-11h0m2-4h0m0 3h0m1-8h0m0 1h0m5-23h0m0 1h0m2-8h0m1-6h0m0 5h0m1-11h0m0 1h0m0 3h0m0 2h0m1-5h0m1-7h0m0 1h0m0 3h0m1-10h0m0 2h0m0 2h0m1-7h0m0 1h0m0 3h0m0 1h0m1-5h0m1-11h0m0 3h0m1-11h0m0 1h0m1-8h0m0 6h0m0 1h0m0 3h0m1-13h0m0 1h0m1 1h0m1-10h0m0 1h0m1-8h0m0 1h0m0 3h0m0 1h0m1-9h0m0 4h0m1-11h0m0 1h0m0 5h0m1-7h0m0 3h0m1-11h0m1-6h0m0 1h0m0 1h0m0 2h0m2-15h0m0 2h0m0 7h0m1-14h0m0 2h0m0 1h0m0 2h0m1-11h0m1-4h0m0 3h0m0 3h0m1-6h0m3-15h0m0 1h0m1-10h0m2-3h0m1-10h0m0 5h0m1-8h0m2-4h0m3-12h0m4-6h0m16 6h0m2 5h0m4 10h0m0 5h0m2 8h0m1-1h0m0 3h0m1 3h0m0 2h0m0 1h0m1 5h0m1 0h0m1 6h0m0 4h0m1-1h0m0 2h0m1 4h0m1 3h0m0 1h0m0 2h0m1 4h0m0 2h0m2 8h0m0 2h0m1 5h0m0 1h0m1 4h0m1 2h0m0 6h0m1 0h0m0 5h0m1 1h0m0 3h0m0 1h0m1 3h0m1 3h0m0 1h0m0 2h0m0 2h0m1-1h0m0 2h0m0 2h0m0 2h0m1 1h0m0 3h0m0 2h0m1 2h0m1 6h0m1 6h0m0 2h0m1-1h0m0 2h0m0 2h0m1 3h0m0 2h0m1 2h0m0 2h0m1 3h0m0 1h0m0 2h0m0 1h0m3 13h0m1 2h0m1 4h0m1 5h0m0 5h0m2 3h0m1 7h0m1 0h0m0 2h0m2 8h0m1 1h0m1 4h0m0 2h0m1 1h0m0 1h0m0 2h0m1 0h0m3 10h0m1 2h0m2 6h0m1 5h0m3 3h0m1 3h0m1 1h0m1 1h0m0 1h0m1 5h0m1-3h0m1 6h0m2 0h0m2 3h0m4 5h0" stroke-opacity="0.28"/><path d="M966 694h0m7-19h0m1-5h0m4-15h0m1-3h0m3-11h0m2-9h0m1-4h0m2-8h0m0 2h0m1-9h0m0 2h0m1-3h0m0 2h0m1-10h0m0 4h0m1-10h0m0 5h0m1-9h0m0 1h0m0 3h0m1-10h0m1-1h0m2-13h0m0 3h0m1-9h0m0 1h0m0 1h0m0 1h0m1-10h0m0 5h0m1-8h0m1-5h0m0 1h0m2-8h0m1-11h0m0 3h0m0 1h0m0 2h0m2-16h0m0 1h0m0 1h0m0 1h0m0 2h0m0 1h0m1-11h0m0 2h0m0 1h0m1-8h0m0 3h0m1-8h0m0 1h0m0 1h0m0 1h0m2-11h0m0 1h0m1-8h0m0 2h0m0 1h0m0 1h0m1-9h0m2-9h0m0 4h0m1-9h0m0 2h0m0 1h0m0 1h0m2-12h0m0 2h0m1-5h0m1-1h0m1-7h0m0 4h0m3-10h0m2-5h0m12-9h0m3 2h0m1 2h0m5 15h0m1 1h0m1 3h0m1 7h0m1 4h0m1 0h0m0 3h0m2 6h0m1 4h0m0 2h0m0 1h0m1 4h0m1 3h0m0 4h0m1 1h0m0 4h0m1-1h0m0 3h0m0 1h0m1 6h0m2 6h0m0 1h0m0 1h0m1 5h0m0 2h0m0 1h0m0 1h0m1 4h0m0 1h0m1 0h0m1 6h0m1 5h0m0 3h0m1 8h0m1 2h0m0 1h0m0 2h0m2 6h0m0 2h0m0 2h0m1 1h0m0 6h0m1 1h0m0 1h0m1 2h0m0 1h0m0 3h0m1 2h0m0 1h0m1 7h0m2 5h0m0 5h0m1 0h0m1 6h0m0 1h0m1 5h0m0 3h0m1 0h0m1 4h0m1 6h0m0 2h0m2 7h0m0 2h0m1 2h0m1 3h0m3 11h0m1 4h0m0 1h0m2 7h0m1 4h0m1 2h0m1 3h0m6 14h0" stroke-opacity="0.34"/><path d="M983 637h0m11-51h0m0 2h0m4-23h0m1-6h0m1-4h0m1-8h0m0 1h0m0 2h0m1-8h0m2-9h0m2-9h0m2-15h0m1-4h0m0 1h0m0 2h0m1-9h0m0 1h0m0 1h0m2-10h0m0 1h0m0 1h0m1-8h0m0 1h0m0 1h0m0 1h0m1-6h0m2-10h0m0 1h0m0 1h0m0 1h0m0 1h0m1-5h0m1-5h0m0 2h0m1-7h0m0 1h0m1-4h0m0 1h0m1-4h0m0 1h0m0 1h0m1-6h0m0 2h0m0 1h0m1-5h0m1-3h0m5-9h0m1 0h0m8 1h0m2 3h0m1 2h0m1 0h0m0 2h0m1 0h0m1 3h0m0 1h0m0 1h0m1 1h0m0 1h0m1 1h0m0 1h0m1 4h0m1 3h0m0 1h0m0 1h0m1 1h0m0 1h0m1 3h0m0 1h0m0 1h0m1 3h0m0 2h0m1 1h0m0 1h0m0 2h0m1 3h0m1 3h0m0 3h0m1 2h0m0 2h0m1 4h0m0 1h0m1 4h0m1 6h0m1 2h0m0 2h0m1 6h0m1 5h0m2 8h0m2 11h0m0 2h0m4 23h0m2 7h0m4 21h0m4 20h0m13 52h0" stroke-opacity="0.40"/><path d="M1011 496h0m3-13h0m0 1h0m1-7h0m2-8h0m1-2h0m1-4h0m3-11h0m1-2h0m1-3h0m0 1h0m1-4h0m0 1h0m1-3h0m0 1h0m1-3h0m0 1h0m1-3h0m0 1h0m1-1h0m1-2h0m1-1h0m0 1h0m1-1h0m3 0h0m1 0h0m0 1h0m1 0h0m1 1h0m1 1h0m0 1h0m1 1h0m1 2h0m1 2h0m1 2h0m0 1h0m3 8h0m1 4h0m2 7h0m2 6h0m16 80h0" stroke-opacity="0.45"/></g><path d="M605.9 217.3H681.8" stroke="#74ff64" stroke-width="1.25"/><g transform="scale(0.5)" stroke="#00ff00" stroke-width="1.4" stroke-linecap="round" fill="none"><path d="M936 729h0m1-1h0m0 1h0m2-1h0m9-2h0m8-2h0m1 1h0m2-2h0m1 1h0m3-1h0m1 1h0m4-3h0m1 1h0m4-2h0m1-1h0m3 0h0m3-3h0m1 1h0m1-2h0m4 0h0m1-1h0m3-1h0m2-2h0m2-1h0m1 1h0m2 1h0m1-2h0m0 1h0m1 0h0m1-5h0m0 2h0m4-2h0m2-2h0m1 1h0m2-2h0m1-2h0m0 1h0m2-2h0m1 1h0m4-5h0m1 0h0m1-1h0m1-2h0m1 1h0m0 1h0m2 0h0m1-3h0m0 1h0m1-2h0m0 1h0m1-2h0m0 2h0m1-2h0m0 1h0m1-5h0m0 3h0m2-3h0m1-2h0m1 4h0m0 2h0m1-5h0m0 1h0m0 1h0m1-6h0m0 2h0m1-2h0m3 0h0m1-2h0m0 3h0m1-3h0m0 1h0m1-4h0m0 3h0m1-2h0m0 4h0m1-4h0m1-3h0m0 3h0m1-4h0m1-3h0m0 2h0m2-3h0m0 1h0m1 0h0m0 1h0m1-4h0m0 1h0m2 0h0m0 2h0m1-6h0m0 1h0m0 1h0m1-2h0m0 1h0m1-3h0m0 3h0m0 1h0m1-5h0m0 2h0m0 2h0m2-10h0m0 2h0m0 6h0m1-6h0m0 4h0m2-6h0m0 1h0m1-3h0m1 3h0m0 2h0m1-7h0m1 1h0m1 0h0m1 0h0m1-4h0m0 3h0m2-7h0m0 1h0m0 1h0m1-2h0m0 2h0m0 1h0m1-8h0m0 3h0m0 4h0m1-3h0m0 2h0m1-5h0m1-4h0m0 3h0m0 1h0m0 2h0m2-8h0m0 4h0m1-3h0m1-5h0m0 1h0m0 2h0m1-5h0m0 2h0m0 1h0m0 1h0m1-3h0m1 1h0m0 2h0m1-7h0m0 1h0m1-2h0m0 1h0m0 2h0m1-7h0m0 4h0m0 1h0m1-5h0m0 1h0m0 3h0m0 1h0m2-6h0m0 1h0m0 2h0m0 1h0m1-7h0m0 3h0m1-4h0m1-2h0m1-2h0m0 2h0m1-4h0m1 2h0m0 1h0m0 3h0m1-8h0m0 5h0m0 1h0m1-6h0m1-4h0m0 3h0m1-5h0m0 2h0m0 3h0m0 1h0m0 3h0m1-9h0m0 2h0m1-5h0m0 3h0m0 1h0m0 1h0m1-8h0m0 6h0m1-9h0m0 3h0m0 2h0m1 0h0m1-4h0m1-1h0m0 2h0m0 2h0m1-6h0m1 2h0m1-9h0m0 1h0m0 1h0m0 4h0m1-5h0m0 1h0m0 1h0m1-4h0m0 5h0m0 1h0m1-7h0m1-4h0m0 1h0m0 3h0m0 1h0m1-5h0m0 3h0m0 2h0m0 1h0m1-7h0m0 5h0m1-9h0m0 2h0m1-4h0m0 1h0m0 1h0m0 3h0m1-6h0m0 1h0m0 2h0m0 3h0m1-8h0m3-3h0m1-5h0m0 4h0m0 1h0m0 1h0m1-5h0m0 1h0m1 0h0m0 1h0m1-3h0m1-9h0m0 2h0m0 2h0m1-3h0m0 1h0m1-2h0m0 3h0m0 1h0m0 1h0m1-6h0m1-5h0m0 4h0m0 1h0m0 1h0m1-5h0m1-1h0m0 1h0m0 2h0m1-8h0m0 1h0m0 5h0m1-7h0m0 1h0m0 2h0m1-4h0m0 2h0m0 1h0m1-5h0m0 2h0m1-4h0m0 1h0m1 1h0m1-6h0m0 4h0m1-2h0m0 1h0m1-8h0m0 1h0m0 1h0m0 2h0m1-3h0m0 1h0m1-4h0m0 1h0m0 3h0m1-6h0m0 3h0m0 2h0m1-5h0m0 1h0m0 1h0m1-6h0m0 5h0m1-7h0m0 1h0m1-2h0m0 1h0m1-4h0m0 2h0m1-2h0m0 2h0m0 1h0m1-3h0m1-5h0m0 3h0m0 1h0m1-3h0m0 2h0m2-8h0m0 1h0m0 3h0m2-7h0m0 1h0m1-3h0m1 2h0m1-3h0m1-3h0m2-5h0m0 2h0m0 2h0m1-5h0m0 3h0m2-6h0m3-2h0m1-2h0m2-6h0m2-3h0m0 3h0m1-5h0m1-1h0m0 1h0m1-2h0m0 3h0m4-9h0m1 1h0m3-6h0m1 1h0m1-1h0m5-8h0m9-6h0m2-3h0m7-2h0" stroke-opacity="0.26"/><path d="M938 729h0m74-30h0m6-2h0m9-8h0m4-3h0m5-4h0m9-8h0m6-6h0m7-9h0m1 1h0m1-2h0m0 2h0m1-2h0m1-3h0m3-5h0m2 1h0m1-2h0m6-10h0m3-4h0m1 1h0m3-5h0m1 0h0m1-3h0m2-2h0m1-3h0m3-3h0m2-3h0m1-5h0m0 3h0m1-3h0m2-2h0m3-8h0m0 2h0m2-5h0m1 0h0m1 0h0m0 1h0m4-9h0m2-4h0m3-5h0m3-8h0m2-1h0m1 0h0m2-5h0m1-3h0m1-3h0m0 3h0m2-7h0m0 4h0m3-6h0m1-3h0m2-5h0m1-1h0m1-1h0m1-3h0m1-2h0m0 2h0m1-1h0m1-6h0m0 2h0m2-1h0m1-5h0m0 2h0m1-3h0m1-4h0m0 1h0m0 1h0m2-5h0m1 1h0m4-8h0m1-1h0m1-3h0m2-4h0m1-2h0m1 0h0m1-4h0m0 1h0m1-1h0m1-4h0m2 0h0m1-5h0m1-1h0m0 2h0m2-6h0m2-3h0m1 0h0m1-3h0m1-3h0m0 3h0m2-6h0m0 2h0m1-4h0m1-1h0m0 1h0m4-7h0m2-1h0m1-3h0m2-1h0m9-12h0m2-2h0m6-6h0m8-7h0" stroke-opacity="0.36"/><path d="M940 729h0m80-34h0m0 2h0m26-24h0m27-31h0m18-26h0m12-21h0m0 1h0m1-2h0m1-1h0m2-5h0m3-3h0m2-5h0m2-5h0m3-4h0m1-1h0m6-11h0m2-4h0m2-3h0m8-16h0m1 0h0m1-3h0m1-3h0m2-3h0m0 2h0m3-7h0m2-4h0m0 1h0m1-3h0m1-1h0m2-4h0m3-7h0m0 1h0m2-3h0m1-1h0m2-5h0m0 1h0m0 1h0m1-3h0m1-3h0m1 0h0m1-4h0m0 2h0m0 1h0m1-4h0m0 2h0m2-5h0m1 0h0m2-5h0m2-2h0m9-15h0m1-1h0m1-1h0m1-2h0m1 0h0m1-1h0m2-4h0m2-1h0m2-2h0m5-5h0" stroke-opacity="0.44"/><path d="M1143 524h0m3-7h0m11-18h0m2-3h0m6-11h0m2-4h0m0 1h0m1-2h0m0 1h0m1-3h0m1-2h0m2-3h0m0 1h0m1-3h0m1-1h0m0 1h0m1-2h0m0 1h0m1-2h0m1-2h0m1-1h0m1-2h0m0 1h0m1-2h0m1-1h0m1-2h0m1-2h0m1-1h0m1-1h0m0 1h0m2-4h0m1-1h0m1-1h0m2-2h0m7-7h0m0 1h0m1-2h0m0 1h0m3-2h0m1-1h0" stroke-opacity="0.52"/><path d="M1173 472h0m13-18h0m1-1h0m3-4h0m2-2h0m1-1h0m1-1h0m1-1h0m1-1h0m1-1h0m3-2h0m1-1h0m1-1h0m2-1h0m1 0h0m1-1h0m1 0h0m1-1h0m1 0h0" stroke-opacity="0.58"/></g></g><path d="M468.2 368.3v-1.8M468.2 217.3v1.8M490.8 368.3v-1.8M490.8 217.3v1.8M513.5 368.3v-1.8M513.5 217.3v1.8M536.1 368.3v-1.8M536.1 217.3v1.8M558.8 368.3v-1.8M558.8 217.3v1.8M581.5 368.3v-1.8M581.5 217.3v1.8M604.1 368.3v-1.8M604.1 217.3v1.8M626.8 368.3v-1.8M626.8 217.3v1.8M649.4 368.3v-1.8M649.4 217.3v1.8M672.0 368.3v-1.8M672.0 217.3v1.8M468.2 368.3h1.8M681.8 368.3h-1.8M468.2 353.2h1.8M681.8 353.2h-1.8M468.2 338.1h1.8M681.8 338.1h-1.8M468.2 323.0h1.8M681.8 323.0h-1.8M468.2 307.9h1.8M681.8 307.9h-1.8M468.2 292.8h1.8M681.8 292.8h-1.8M468.2 277.7h1.8M681.8 277.7h-1.8M468.2 262.6h1.8M681.8 262.6h-1.8M468.2 247.5h1.8M681.8 247.5h-1.8M468.2 232.4h1.8M681.8 232.4h-1.8M468.2 217.3h1.8M681.8 217.3h-1.8" stroke="#a0a0a0" stroke-width="0.6" fill="none"/><g font-size="3.4" fill="#222" stroke="#222" stroke-width="0.07"><text x="468.2" y="372.9" text-anchor="middle">0</text><text x="490.8" y="372.9" text-anchor="middle">200</text><text x="513.5" y="372.9" text-anchor="middle">400</text><text x="536.1" y="372.9" text-anchor="middle">600</text><text x="558.8" y="372.9" text-anchor="middle">800</text><text x="581.5" y="372.9" text-anchor="middle">1000</text><text x="604.1" y="372.9" text-anchor="middle">1200</text><text x="626.8" y="372.9" text-anchor="middle">1400</text><text x="649.4" y="372.9" text-anchor="middle">1600</text><text x="672.0" y="372.9" text-anchor="middle">1800</text><text x="466.9" y="370.2" text-anchor="end">0</text><text x="466.9" y="355.1" text-anchor="end">0.1</text><text x="466.9" y="340.0" text-anchor="end">0.2</text><text x="466.9" y="324.9" text-anchor="end">0.3</text><text x="466.9" y="309.8" text-anchor="end">0.4</text><text x="466.9" y="294.7" text-anchor="end">0.5</text><text x="466.9" y="279.6" text-anchor="end">0.6</text><text x="466.9" y="264.5" text-anchor="end">0.7</text><text x="466.9" y="249.4" text-anchor="end">0.8</text><text x="466.9" y="234.3" text-anchor="end">0.9</text><text x="466.9" y="219.2" text-anchor="end">1</text></g><text x="575.0" y="377.3" font-size="3.5" fill="#222" stroke="#222" stroke-width="0.07" text-anchor="middle" xml:space="preserve">Agricultural technological (C23)</text><text transform="translate(461.2 293.1) rotate(-90)" font-size="3.4" fill="#222" stroke="#222" stroke-width="0.11" text-anchor="middle">Certainty degree</text><rect x="664.2" y="346.0" width="15.6" height="19.8" fill="#fff" stroke="#a8a8a8" stroke-width="0.6"/><circle cx="669.7" cy="348.4" r="0.45" fill="#ff0000" fill-opacity="0.5"/><text x="674.5" y="349.5" font-size="3.2" fill="#444">I</text><circle cx="669.7" cy="352.2" r="0.45" fill="#ffff00" fill-opacity="0.5"/><text x="674.5" y="353.3" font-size="3.2" fill="#444">II</text><circle cx="669.7" cy="355.9" r="0.45" fill="#0000ff" fill-opacity="0.5"/><text x="674.5" y="357.0" font-size="3.2" fill="#444">III</text><circle cx="669.7" cy="359.7" r="0.45" fill="#00ffff" fill-opacity="0.5"/><text x="674.5" y="360.8" font-size="3.2" fill="#444">IV</text><circle cx="669.7" cy="363.5" r="0.45" fill="#00ff00" fill-opacity="0.5"/><text x="674.5" y="364.6" font-size="3.2" fill="#444">V</text><text transform="translate(458.7 213.3) scale(1.25 1)" font-size="23.2" font-weight="normal" fill="#000" stroke="#000" stroke-width="0.6">f</text></g></svg></body></html>
